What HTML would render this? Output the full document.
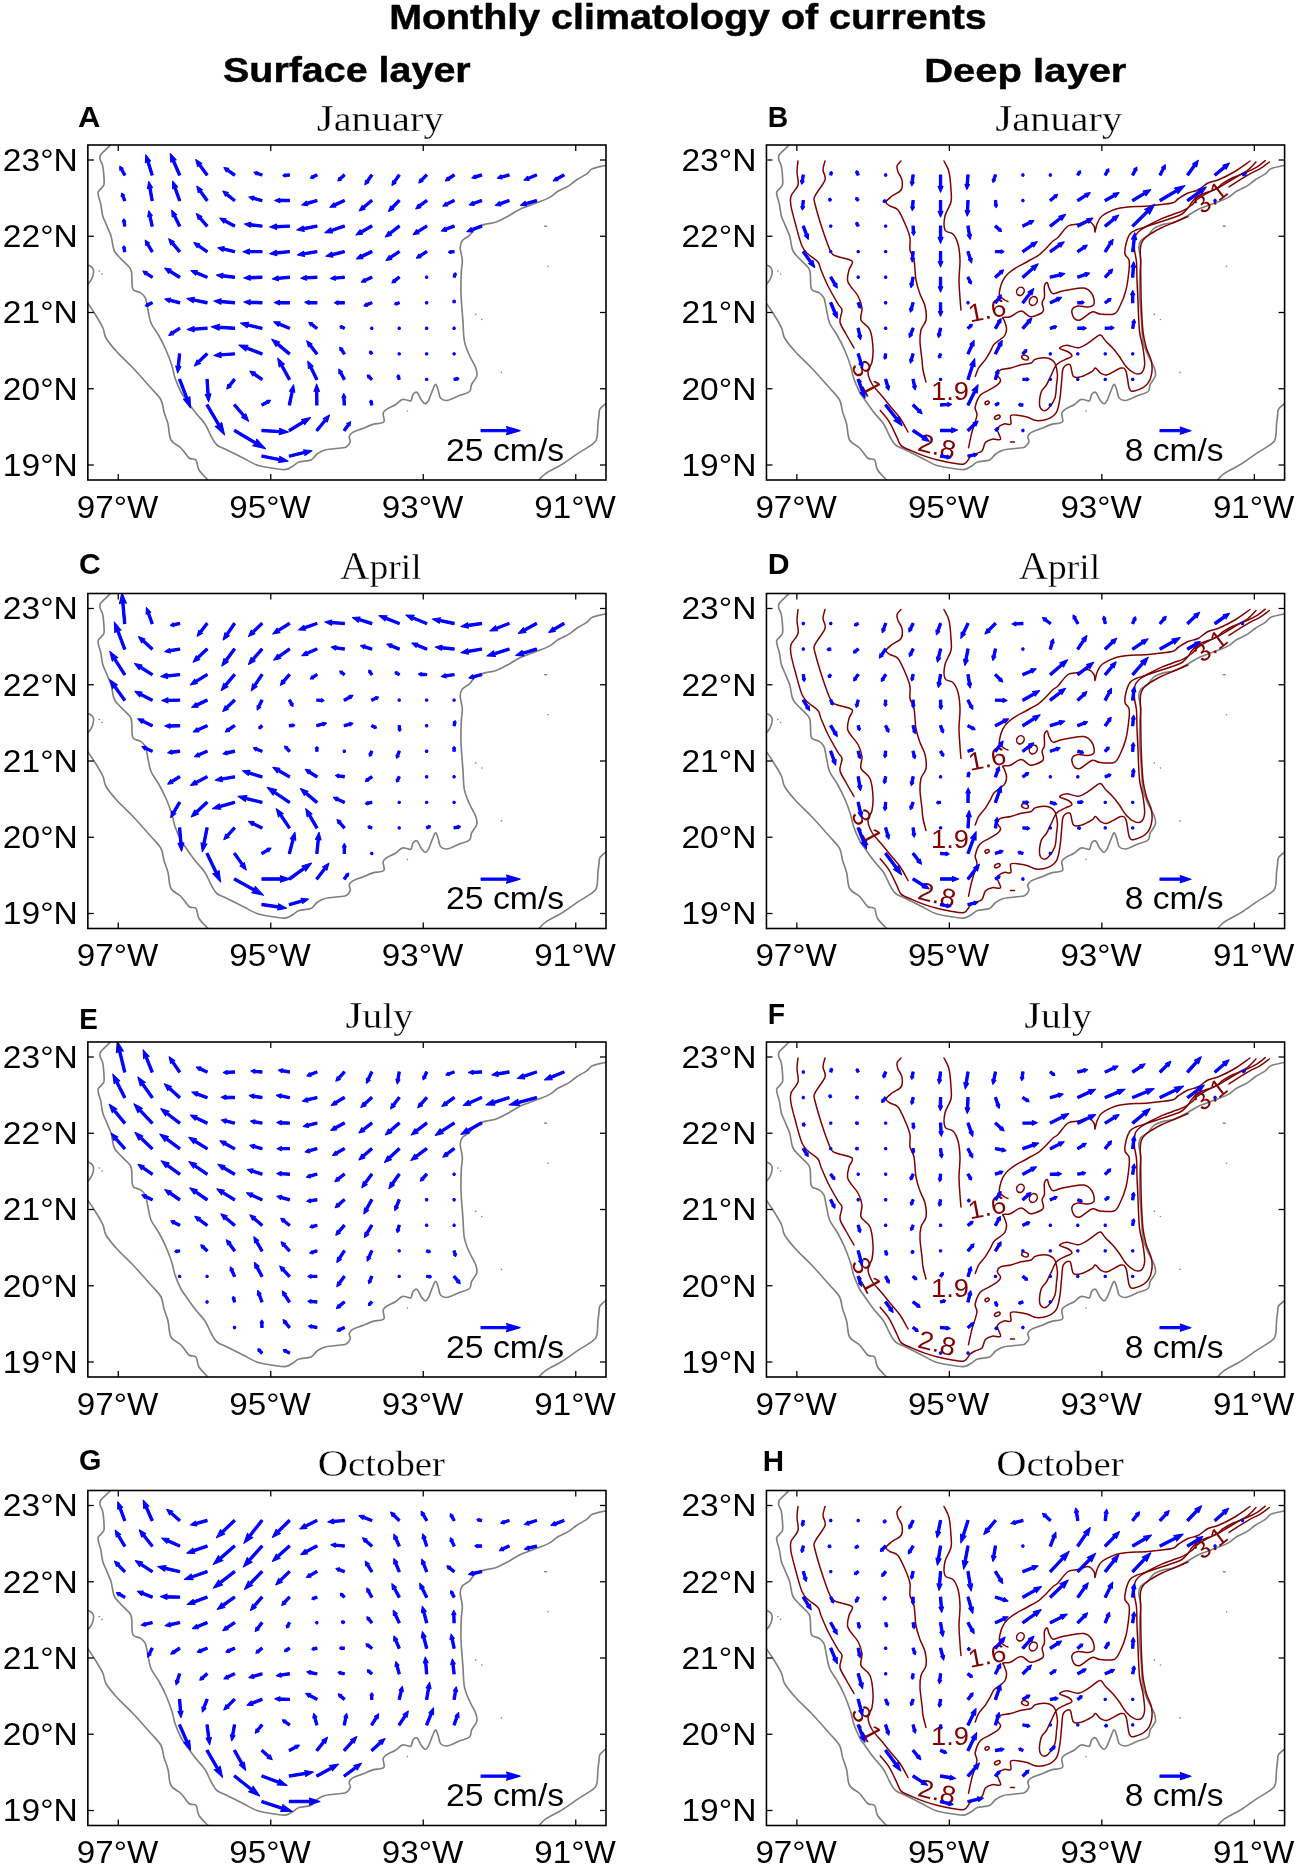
<!DOCTYPE html><html><head><meta charset="utf-8"><style>html,body{margin:0;padding:0;background:#fff;overflow:hidden}svg{display:block}</style></head><body>
<svg width="1299" height="1868" viewBox="0 0 1299 1868">
<rect width="1299" height="1868" fill="#fff"/>
<defs><clipPath id="cp"><rect x="87.85" y="145.0" width="518.15" height="335.0"/></clipPath><g id="coast"><g fill="none" stroke="#808080" stroke-width="1.65" stroke-linejoin="round"><path d="M110.6,145.0 C109.9,145.7 108.2,147.3 106.6,148.9 C104.9,150.5 101.8,153.1 100.7,154.8 C99.6,156.6 99.8,157.6 100.1,159.4 C100.4,161.2 102.1,163.3 102.7,165.9 C103.3,168.5 103.6,172.0 103.8,175.1 C104.0,178.2 104.4,182.1 104.0,184.3 C103.6,186.5 102.4,186.9 101.4,188.2 C100.4,189.5 98.5,190.6 98.1,192.1 C97.7,193.6 98.4,195.3 98.8,197.3 C99.2,199.3 100.0,200.8 100.7,203.9 C101.4,207.0 101.9,212.6 102.7,215.7 C103.5,218.8 104.2,219.6 105.3,222.2 C106.4,224.8 108.2,229.0 109.2,231.4 C110.2,233.8 110.5,234.0 111.2,236.6 C111.9,239.2 112.6,244.5 113.2,247.1 C113.8,249.7 113.8,250.3 115.1,252.3 C116.4,254.3 118.7,256.5 121.0,258.9 C123.3,261.3 127.2,264.5 128.9,266.7 C130.7,268.9 130.9,268.7 131.5,272.0 C132.1,275.3 131.8,283.2 132.2,286.3 C132.6,289.4 132.7,289.2 134.1,290.3 C135.5,291.4 138.9,291.8 140.7,292.9 C142.4,294.0 143.7,295.6 144.6,296.8 C145.5,298.0 145.4,297.8 146.0,300.0 C146.6,302.2 147.2,306.2 148.0,310.0 C148.8,313.8 149.2,318.7 151.0,323.0 C152.8,327.3 156.5,331.5 159.0,336.0 C161.5,340.5 163.8,345.0 166.0,350.0 C168.2,355.0 170.5,361.3 172.0,366.0 C173.5,370.7 173.5,373.7 175.0,378.0 C176.5,382.3 179.3,388.7 181.0,392.0 C182.7,395.3 182.7,394.7 185.0,398.0 C187.3,401.3 191.7,407.7 195.0,412.0 C198.3,416.3 202.3,420.0 205.0,424.0 C207.7,428.0 209.0,432.5 211.0,436.0 C213.0,439.5 214.3,442.7 217.0,445.0 C219.7,447.3 222.7,447.8 227.0,450.0 C231.3,452.2 238.0,455.5 243.0,458.0 C248.0,460.5 252.3,463.3 257.0,465.0 C261.7,466.7 266.3,467.2 271.0,468.0 C275.7,468.8 281.3,469.9 285.0,469.6 C288.7,469.3 290.7,467.3 293.0,466.0 C295.3,464.7 296.0,463.0 299.0,462.0 C302.0,461.0 308.0,461.3 311.0,460.0 C314.0,458.7 314.7,455.7 317.0,454.0 C319.3,452.3 321.0,451.0 325.0,450.0 C329.0,449.0 337.5,448.5 341.0,448.0 C344.5,447.5 344.6,448.0 346.2,447.0 C347.8,446.0 349.8,443.5 350.3,441.8 C350.8,440.1 348.9,438.2 349.2,436.7 C349.5,435.2 350.1,434.0 352.3,432.6 C354.5,431.2 359.2,429.9 362.6,428.5 C366.0,427.1 370.0,425.3 372.9,424.4 C375.8,423.5 378.2,423.8 380.1,423.3 C382.0,422.8 383.7,423.0 384.2,421.3 C384.7,419.6 382.7,415.1 383.2,413.0 C383.7,410.9 385.2,410.3 387.3,408.9 C389.4,407.5 393.1,406.3 395.5,404.8 C397.9,403.3 400.0,400.6 401.7,399.7 C403.4,398.8 404.3,399.5 405.8,399.7 C407.3,399.9 409.7,401.5 410.9,400.7 C412.1,399.9 412.0,396.0 413.0,394.6 C414.0,393.2 415.7,391.6 417.1,392.5 C418.5,393.4 419.8,397.8 421.2,399.7 C422.6,401.6 424.1,403.6 425.3,403.8 C426.5,404.0 427.2,402.9 428.4,400.7 C429.6,398.5 431.3,393.1 432.5,390.4 C433.7,387.7 434.6,384.3 435.6,384.3 C436.6,384.3 437.5,388.1 438.3,390.4 C439.1,392.7 439.1,396.6 440.7,398.3 C442.3,400.0 444.8,400.8 447.9,400.3 C451.0,399.9 455.6,397.1 459.2,395.6 C462.8,394.1 467.4,393.4 469.5,391.5 C471.6,389.6 470.4,386.9 471.6,384.3 C472.8,381.7 476.0,378.9 476.7,376.1 C477.4,373.4 476.9,371.2 475.7,367.8 C474.5,364.4 471.4,359.9 469.5,355.5 C467.6,351.1 465.5,346.9 464.4,341.1 C463.3,335.3 463.4,327.5 462.9,320.6 C462.4,313.8 461.6,305.3 461.3,300.0 C461.0,294.7 460.9,293.5 460.9,288.9 C460.9,284.3 461.1,277.2 461.3,272.4 C461.5,267.6 462.5,264.2 462.3,260.1 C462.1,256.0 460.2,251.1 460.2,247.8 C460.2,244.6 460.8,242.7 462.3,240.6 C463.9,238.5 467.3,237.5 469.5,235.4 C471.7,233.3 473.0,230.1 475.7,228.2 C478.4,226.3 482.5,225.1 485.9,224.1 C489.3,223.1 492.4,223.5 496.2,222.1 C500.0,220.7 504.4,218.1 508.5,215.9 C512.6,213.7 516.1,210.9 520.9,208.7 C525.7,206.5 532.5,204.5 537.3,202.6 C542.1,200.7 546.3,199.3 549.7,197.4 C553.1,195.5 554.8,193.1 557.9,191.2 C561.0,189.3 565.1,188.0 568.2,186.1 C571.3,184.2 573.3,182.1 576.4,180.0 C579.5,177.9 584.0,175.7 586.7,173.8 C589.4,171.9 589.4,170.1 592.8,168.6 C596.2,167.1 604.6,165.7 607.0,165.1"/><path d="M87.0,302.0 C88.3,304.0 92.3,309.7 95.0,314.0 C97.7,318.3 101.2,324.0 103.0,328.0 C104.8,332.0 103.7,334.0 106.0,338.0 C108.3,342.0 112.5,347.0 117.0,352.0 C121.5,357.0 127.3,362.0 133.0,368.0 C138.7,374.0 146.3,382.7 151.0,388.0 C155.7,393.3 158.8,396.0 161.0,400.0 C163.2,404.0 162.8,408.0 164.0,412.0 C165.2,416.0 166.8,419.3 168.0,424.0 C169.2,428.7 168.8,436.0 171.0,440.0 C173.2,444.0 178.0,445.0 181.0,448.0 C184.0,451.0 186.5,456.0 189.0,458.0 C191.5,460.0 194.3,458.0 196.0,460.0 C197.7,462.0 196.8,466.5 199.0,470.0 C201.2,473.5 207.3,479.2 209.0,481.0"/><path d="M537.3,482.0 C538.7,480.6 541.4,476.6 545.5,473.7 C549.6,470.8 556.5,467.8 562.0,464.4 C567.5,461.0 573.3,456.5 578.4,453.1 C583.5,449.7 589.7,446.5 592.8,443.9 C595.9,441.3 596.0,441.1 596.9,437.7 C597.8,434.3 597.6,427.1 598.0,423.3 C598.4,419.5 598.7,417.5 599.0,415.1 C599.3,412.7 598.7,411.1 600.0,409.0 C601.3,406.9 605.8,403.8 607.0,402.8"/><path d="M87.5,265.0 C88.1,265.2 90.0,265.8 91.0,266.5 C92.0,267.2 92.9,268.5 93.3,269.5 C93.7,270.5 93.6,271.2 93.5,272.5 C93.4,273.8 93.0,275.6 92.5,277.0 C92.0,278.4 91.3,279.8 90.5,281.0 C89.7,282.2 88.0,283.9 87.5,284.5"/></g><g fill="#808080"><circle cx="99.2" cy="271" r="0.8"/><circle cx="102" cy="274" r="0.8"/><circle cx="545.5" cy="226.2" r="0.8"/><circle cx="475.7" cy="314.4" r="0.8"/><circle cx="481.8" cy="319.5" r="0.8"/><circle cx="501.4" cy="372.4" r="0.8"/><circle cx="407.4" cy="411" r="0.8"/><circle cx="548" cy="266.3" r="0.8"/><rect x="544" y="225.6" width="3.2" height="1.1"/></g></g><g id="cont"><g fill="none" stroke="#800000" stroke-width="1.5" stroke-linejoin="round" stroke-linecap="round"><path d="M265.4,161.0 C266.2,162.8 269.2,167.2 270.4,172.0 C271.6,176.8 272.1,185.0 272.4,190.0 C272.7,195.0 273.4,197.7 272.4,202.0 C271.4,206.3 267.4,211.3 266.4,216.0 C265.4,220.7 265.1,227.0 266.4,230.0 C267.7,233.0 272.2,231.7 274.4,234.0 C276.6,236.3 278.2,239.7 279.4,244.0 C280.6,248.3 281.2,254.0 281.4,260.0 C281.6,266.0 280.4,273.7 280.4,280.0 C280.4,286.3 281.1,293.0 281.4,298.0 C281.7,303.0 282.2,308.0 282.4,310.0"/><path d="M329.3,301.4 C328.8,301.2 327.5,301.0 326.1,300.0 C324.7,299.0 321.8,297.2 321.0,295.4 C320.2,293.6 320.9,291.5 321.4,289.0 C321.9,286.5 322.8,283.2 324.2,280.6 C325.6,278.0 327.3,275.6 329.8,273.3 C332.3,271.0 336.2,268.5 339.0,266.8 C341.8,265.1 344.2,264.2 346.4,263.0 C348.6,261.8 350.2,260.7 352.4,259.5 C354.6,258.3 356.9,257.5 359.4,255.7 C361.9,253.9 364.9,250.9 367.4,248.5 C369.9,246.1 372.4,242.8 374.4,241.0 C376.4,239.2 376.9,240.0 379.4,237.5 C381.9,235.0 386.1,228.2 389.4,226.0 C392.7,223.8 396.1,224.8 399.4,224.0 C402.7,223.2 406.7,220.7 409.4,221.0 C412.1,221.3 414.2,224.2 415.4,226.0 C416.6,227.8 415.9,232.3 416.4,232.0 C416.9,231.7 417.2,226.7 418.4,224.0 C419.6,221.3 420.2,218.5 423.4,216.0 C426.6,213.5 433.1,210.5 437.4,209.0 C441.7,207.5 444.1,207.5 449.4,207.0 C454.7,206.5 462.1,206.7 469.4,206.0 C476.7,205.3 488.4,204.2 493.4,203.0 C498.4,201.8 496.7,200.7 499.4,199.0 C502.1,197.3 506.1,194.5 509.4,193.0 C512.7,191.5 516.1,191.7 519.4,190.0 C522.7,188.3 526.1,184.7 529.4,183.0 C532.7,181.3 535.1,181.8 539.4,180.0 C543.7,178.2 550.1,175.2 555.4,172.0 C560.7,168.8 568.7,162.8 571.4,161.0"/><path d="M222.4,161.0 C221.7,161.8 218.9,164.2 218.4,166.0 C217.9,167.8 218.6,169.7 219.4,172.0 C220.2,174.3 222.9,177.0 223.4,180.0 C223.9,183.0 224.1,187.3 222.4,190.0 C220.7,192.7 215.9,194.0 213.4,196.0 C210.9,198.0 207.7,200.3 207.4,202.0 C207.1,203.7 209.4,204.7 211.4,206.0 C213.4,207.3 216.7,206.7 219.4,210.0 C222.1,213.3 225.4,221.3 227.4,226.0 C229.4,230.7 230.7,234.0 231.4,238.0 C232.1,242.0 230.7,246.3 231.4,250.0 C232.1,253.7 234.4,255.0 235.4,260.0 C236.4,265.0 236.4,274.3 237.4,280.0 C238.4,285.7 239.9,289.7 241.4,294.0 C242.9,298.3 245.4,301.7 246.4,306.0 C247.4,310.3 248.1,316.0 247.4,320.0 C246.7,324.0 243.4,326.3 242.4,330.0 C241.4,333.7 241.2,337.0 241.4,342.0 C241.6,347.0 242.9,355.3 243.4,360.0 C243.9,364.7 243.7,366.3 244.4,370.0 C245.1,373.7 246.9,380.0 247.4,382.0"/><path d="M296.6,376.5 C297.2,375.1 298.3,370.9 300.0,368.1 C301.7,365.3 304.8,362.4 306.8,359.6 C308.8,356.8 310.5,353.6 311.9,351.1 C313.3,348.6 313.6,346.4 315.3,344.4 C317.0,342.4 320.1,340.9 322.0,339.3 C323.9,337.7 325.4,336.9 326.4,335.0 C327.4,333.1 328.1,330.3 327.9,327.8 C327.7,325.3 326.0,321.7 325.4,320.0 C324.8,318.3 323.4,318.1 324.4,317.5 C325.4,316.9 328.6,317.8 331.6,316.7 C334.7,315.6 339.3,311.1 342.7,311.1 C346.1,311.1 348.5,316.4 351.9,316.7 C355.3,317.0 360.8,314.2 363.0,313.0 C365.2,311.8 364.8,311.0 364.9,309.3 C365.0,307.6 363.3,304.8 363.5,302.8 C363.6,300.8 365.4,300.1 365.8,297.3 C366.2,294.5 365.3,288.7 365.8,286.2 C366.3,283.7 367.8,282.2 368.6,282.5 C369.4,282.8 369.5,286.1 370.4,288.0 C371.3,289.9 372.3,293.0 374.1,293.6 C375.9,294.2 378.8,292.3 381.4,291.7 C383.9,291.1 385.4,290.6 389.4,290.0 C393.4,289.4 401.4,287.3 405.4,288.0 C409.4,288.7 411.7,291.3 413.4,294.0 C415.1,296.7 416.1,301.8 415.4,304.0 C414.7,306.2 412.1,306.7 409.4,307.0 C406.7,307.3 402.1,305.5 399.4,306.0 C396.7,306.5 394.1,308.0 393.4,310.0 C392.7,312.0 394.1,316.3 395.4,318.0 C396.7,319.7 398.4,321.0 401.4,320.0 C404.4,319.0 410.1,313.0 413.4,312.0 C416.7,311.0 417.7,313.7 421.4,314.0 C425.1,314.3 432.1,315.3 435.4,314.0 C438.7,312.7 439.4,310.0 441.4,306.0 C443.4,302.0 445.9,296.0 447.4,290.0 C448.9,284.0 449.9,275.0 450.4,270.0 C450.9,265.0 451.1,262.7 450.4,260.0 C449.7,257.3 446.9,256.7 446.4,254.0 C445.9,251.3 446.6,247.3 447.4,244.0 C448.2,240.7 449.7,236.3 451.4,234.0 C453.1,231.7 454.4,231.3 457.4,230.0 C460.4,228.7 465.4,227.3 469.4,226.0 C473.4,224.7 477.4,223.3 481.4,222.0 C485.4,220.7 489.7,219.3 493.4,218.0 C497.1,216.7 500.7,215.7 503.4,214.0 C506.1,212.3 507.7,210.0 509.4,208.0 C511.1,206.0 511.7,204.0 513.4,202.0 C515.1,200.0 516.7,197.7 519.4,196.0 C522.1,194.3 526.1,193.3 529.4,192.0 C532.7,190.7 536.1,189.7 539.4,188.0 C542.7,186.3 546.1,184.0 549.4,182.0 C552.7,180.0 556.1,178.0 559.4,176.0 C562.7,174.0 566.4,172.3 569.4,170.0 C572.4,167.7 576.1,163.3 577.4,162.0"/><path d="M146.4,161.0 C146.1,162.5 144.4,166.8 144.4,170.0 C144.4,173.2 147.7,175.7 146.4,180.0 C145.1,184.3 138.1,192.0 136.4,196.0 C134.7,200.0 134.9,197.7 136.4,204.0 C137.9,210.3 142.7,226.0 145.4,234.0 C148.1,242.0 150.4,248.3 152.4,252.0 C154.4,255.7 153.9,254.5 157.4,256.0 C160.9,257.5 171.2,258.7 173.4,261.0 C175.6,263.3 171.1,266.5 170.4,270.0 C169.7,273.5 167.9,277.7 169.4,282.0 C170.9,286.3 177.1,291.7 179.4,296.0 C181.7,300.3 182.9,304.0 183.4,308.0 C183.9,312.0 181.1,316.3 182.4,320.0 C183.7,323.7 189.4,325.3 191.4,330.0 C193.4,334.7 194.1,342.7 194.4,348.0 C194.7,353.3 194.2,358.0 193.4,362.0 C192.6,366.0 189.4,368.3 189.4,372.0 C189.4,375.7 191.1,380.0 193.4,384.0 C195.7,388.0 200.4,392.3 203.4,396.0 C206.4,399.7 208.4,402.3 211.4,406.0 C214.4,409.7 218.4,413.7 221.4,418.0 C224.4,422.3 228.1,429.7 229.4,432.0"/><path d="M289.9,447.7 C290.5,445.1 291.9,437.8 293.3,432.4 C294.7,427.0 297.7,419.7 298.3,415.5 C298.8,411.3 296.0,410.4 296.6,407.0 C297.2,403.6 299.4,398.0 301.7,395.2 C304.0,392.4 307.4,391.8 310.2,390.1 C313.0,388.4 316.7,386.7 318.7,385.0 C320.7,383.3 322.0,381.7 322.0,380.0 C322.0,378.3 318.7,376.5 318.7,374.8 C318.7,373.1 319.8,370.9 322.0,369.8 C324.2,368.7 328.8,369.0 332.2,368.1 C335.6,367.2 339.0,365.6 342.4,364.7 C345.8,363.8 350.2,363.9 352.5,363.0 C354.7,362.1 354.2,360.5 355.9,359.6 C357.6,358.8 360.1,358.0 362.7,357.9 C365.2,357.8 368.9,357.8 371.2,358.7 C373.4,359.6 374.9,360.3 376.2,363.0 C377.5,365.7 378.5,371.1 378.8,374.8 C379.1,378.5 378.3,381.1 377.9,385.0 C377.5,388.9 377.6,394.6 376.2,398.5 C374.8,402.4 371.5,406.7 369.5,408.7 C367.5,410.7 365.8,411.0 364.4,410.4 C363.0,409.8 361.3,408.4 361.0,405.3 C360.7,402.2 361.6,395.2 362.7,391.8 C363.8,388.4 366.1,387.8 367.8,385.0 C369.5,382.2 371.1,378.2 372.8,374.8 C374.5,371.4 375.6,367.2 377.9,364.7 C380.2,362.2 383.8,361.0 386.4,359.6 C388.9,358.2 392.6,357.5 393.2,356.2 C393.8,354.9 391.5,353.1 389.8,352.0 C388.1,350.9 384.4,350.1 383.0,349.4 C381.6,348.7 380.5,348.4 381.3,347.7 C382.2,347.0 385.0,345.2 388.1,345.2 C391.2,345.2 396.2,348.1 399.9,347.7 C403.6,347.3 407.3,344.4 410.1,342.7 C412.9,341.0 414.9,338.9 416.9,337.6 C418.9,336.3 420.3,334.4 422.0,335.0 C423.7,335.6 425.0,338.9 427.0,341.0 C429.0,343.1 431.5,345.2 433.8,347.7 C436.1,350.2 438.3,353.1 440.6,356.2 C442.9,359.3 444.9,363.6 447.4,366.4 C449.9,369.2 453.3,372.0 455.8,373.1 C458.3,374.2 460.9,374.5 462.6,373.1 C464.3,371.7 465.7,368.9 466.0,364.7 C466.3,360.5 465.2,353.3 464.3,347.7 C463.5,342.1 461.8,339.3 460.9,330.8 C460.0,322.3 459.6,305.4 459.2,296.9 C458.8,288.4 458.6,285.8 458.4,280.0 C458.2,274.2 458.3,267.0 457.9,262.0 C457.5,257.0 456.2,253.6 455.9,250.0 C455.6,246.4 455.7,242.9 455.9,240.4 C456.1,237.9 456.2,236.7 457.3,234.9 C458.4,233.1 460.2,231.3 462.7,229.5 C465.2,227.7 468.9,225.8 472.3,224.0 C475.7,222.2 479.6,220.2 483.2,218.6 C486.8,217.0 490.5,215.9 494.1,214.5 C497.7,213.1 501.8,212.0 505.0,210.4 C508.2,208.8 510.9,206.8 513.2,205.0 C515.5,203.2 516.3,201.3 518.6,199.5 C520.9,197.7 523.6,195.9 526.8,194.1 C530.0,192.3 534.8,190.4 537.7,188.6 C540.6,186.8 541.8,185.0 544.5,183.2 C547.2,181.4 550.1,179.5 554.0,177.7 C557.9,175.9 563.6,174.1 567.7,172.3 C571.8,170.5 575.4,168.7 578.6,166.8 C581.8,164.9 585.3,161.7 586.7,160.7"/><path d="M119.4,161.0 C119.2,162.8 118.4,168.0 118.4,172.0 C118.4,176.0 120.4,181.0 119.4,185.0 C118.4,189.0 113.6,192.5 112.4,196.0 C111.2,199.5 111.6,201.0 112.4,206.0 C113.2,211.0 115.6,219.3 117.4,226.0 C119.2,232.7 121.4,241.3 123.4,246.0 C125.4,250.7 126.7,251.3 129.4,254.0 C132.1,256.7 137.2,259.3 139.4,262.0 C141.6,264.7 140.7,266.0 142.4,270.0 C144.1,274.0 146.6,280.3 149.4,286.0 C152.2,291.7 157.1,300.0 159.4,304.0 C161.7,308.0 163.1,307.0 163.4,310.0 C163.7,313.0 160.7,318.0 161.4,322.0 C162.1,326.0 165.1,329.7 167.4,334.0 C169.7,338.3 174.1,345.7 175.4,348.0"/><path d="M201.6,410.3 C203.1,412.3 208.0,417.5 210.8,422.1 C213.6,426.7 216.7,433.9 218.6,437.8 C220.6,441.7 220.1,443.4 222.5,445.6 C224.9,447.8 229.1,449.1 233.0,450.9 C236.9,452.6 241.7,454.6 246.1,456.1 C250.5,457.6 254.8,458.9 259.2,460.0 C263.6,461.1 267.9,462.0 272.3,462.7 C276.7,463.4 282.2,464.9 285.4,464.0 C288.6,463.1 289.8,458.7 291.6,457.0 C293.4,455.3 294.4,455.0 296.4,454.0 C298.4,453.0 301.7,452.9 303.4,451.0 C305.1,449.1 305.1,444.6 306.8,442.6 C308.5,440.6 311.1,439.8 313.6,439.2 C316.1,438.6 321.2,440.9 322.0,439.2 C322.8,437.5 318.1,431.5 318.7,429.0 C319.3,426.5 323.1,424.8 325.4,424.0 C327.6,423.2 331.1,425.4 332.2,424.0 C333.3,422.6 330.8,416.9 332.2,415.5 C333.6,414.1 337.9,415.2 340.7,415.5 C343.5,415.8 346.3,416.3 349.1,417.2 C351.9,418.1 354.2,420.3 357.6,420.6 C361.0,420.9 366.1,420.3 369.5,418.9 C372.9,417.5 375.9,415.5 377.9,412.1 C379.9,408.7 380.5,403.6 381.3,398.5 C382.2,393.4 382.4,386.7 383.0,381.6 C383.6,376.5 383.3,370.9 384.7,368.1 C386.1,365.3 389.7,363.3 391.4,364.7 C393.1,366.1 392.9,374.5 394.9,376.5 C396.9,378.5 400.2,377.4 403.3,376.5 C406.4,375.6 411.2,372.8 413.5,371.4 C415.8,370.0 415.5,367.8 416.9,368.1 C418.3,368.4 420.0,372.0 422.0,373.1 C424.0,374.2 425.3,375.6 428.7,374.8 C432.1,374.0 439.2,368.7 442.3,368.1 C445.4,367.5 446.0,368.0 447.4,371.4 C448.8,374.8 449.3,385.1 450.7,388.4 C452.1,391.6 453.0,391.5 455.8,390.9 C458.6,390.3 464.9,387.7 467.7,385.0 C470.5,382.3 472.0,378.8 472.8,374.8 C473.7,370.9 473.7,365.8 472.8,361.3 C472.0,356.8 469.1,352.8 467.7,347.7 C466.3,342.6 465.2,338.8 464.3,330.8 C463.5,322.9 463.0,311.5 462.6,300.0 C462.2,288.5 462.1,270.3 462.0,262.0 C461.8,253.7 461.5,253.2 461.7,250.0 C461.8,246.8 462.1,245.0 462.9,243.0 C463.7,241.0 464.6,239.7 466.4,238.0 C468.1,236.3 470.6,234.8 473.4,233.0 C476.2,231.2 479.6,229.3 483.4,227.5 C487.2,225.7 492.1,223.8 496.4,222.0 C500.7,220.2 507.2,217.4 509.4,216.5"/><path d="M550.4,187.0 C551.7,186.1 554.8,183.9 558.1,181.8 C561.4,179.7 566.5,176.5 570.4,174.3 C574.3,172.1 577.9,170.9 581.3,168.8 C584.7,166.8 589.2,163.1 590.8,162.0"/><ellipse cx="341.8" cy="291.3" rx="3.6" ry="4.3" transform="rotate(30 341.8 291.3)"/><ellipse cx="354.7" cy="301.0" rx="3.8" ry="4.6" transform="rotate(30 354.7 301.0)"/><ellipse cx="346.4" cy="357.5" rx="3.5" ry="2.3" transform="rotate(20 346.4 357.5)"/><ellipse cx="308.5" cy="402.8" rx="2.2" ry="1.6" transform="rotate(-30 308.5 402.8)"/><ellipse cx="318.7" cy="417.2" rx="3" ry="1.8" transform="rotate(-25 318.7 417.2)"/><line x1="331.9" y1="442" x2="335.9" y2="442"/></g><g fill="#800000" font-family="Liberation Sans" font-size="25.5"><text x="308.4" y="319" text-anchor="middle" transform="rotate(-11 308.4 310)" textLength="38" lengthAdjust="spacingAndGlyphs">1.6</text><text x="271.4" y="399.8" text-anchor="middle" textLength="38" lengthAdjust="spacingAndGlyphs">1.9</text><text x="258.4" y="455" text-anchor="middle" transform="rotate(14 258.4 446)" textLength="38" lengthAdjust="spacingAndGlyphs">2.8</text><text x="188.39999999999998" y="387" text-anchor="middle" transform="rotate(62 188.39999999999998 378)" textLength="36" lengthAdjust="spacingAndGlyphs">3.1</text><text x="532.4" y="206" text-anchor="middle" transform="rotate(-38 532.4 198)" textLength="34" lengthAdjust="spacingAndGlyphs">3.1</text></g></g><g id="frame"><rect x="87.85" y="145.0" width="518.15" height="335.0" fill="none" stroke="#000" stroke-width="1.6"/><g stroke="#000" stroke-width="1.3"><line x1="118.25" y1="145.0" x2="118.25" y2="151.0"/><line x1="118.25" y1="480.0" x2="118.25" y2="474.0"/><line x1="270.75" y1="145.0" x2="270.75" y2="151.0"/><line x1="270.75" y1="480.0" x2="270.75" y2="474.0"/><line x1="423.25" y1="145.0" x2="423.25" y2="151.0"/><line x1="423.25" y1="480.0" x2="423.25" y2="474.0"/><line x1="575.75" y1="145.0" x2="575.75" y2="151.0"/><line x1="575.75" y1="480.0" x2="575.75" y2="474.0"/><line x1="87.85" y1="160.0" x2="93.85" y2="160.0"/><line x1="606.0" y1="160.0" x2="600.0" y2="160.0"/><line x1="87.85" y1="236.25" x2="93.85" y2="236.25"/><line x1="606.0" y1="236.25" x2="600.0" y2="236.25"/><line x1="87.85" y1="312.5" x2="93.85" y2="312.5"/><line x1="606.0" y1="312.5" x2="600.0" y2="312.5"/><line x1="87.85" y1="388.75" x2="93.85" y2="388.75"/><line x1="606.0" y1="388.75" x2="600.0" y2="388.75"/><line x1="87.85" y1="465.0" x2="93.85" y2="465.0"/><line x1="606.0" y1="465.0" x2="600.0" y2="465.0"/></g><text transform="translate(2.82,170.80) scale(1.0538,1)" font-family="Liberation Sans" font-weight="normal" font-size="31.86" fill="#000">23°N</text><text transform="translate(2.82,247.05) scale(1.0538,1)" font-family="Liberation Sans" font-weight="normal" font-size="31.86" fill="#000">22°N</text><text transform="translate(2.82,323.30) scale(1.0538,1)" font-family="Liberation Sans" font-weight="normal" font-size="31.86" fill="#000">21°N</text><text transform="translate(2.82,399.55) scale(1.0538,1)" font-family="Liberation Sans" font-weight="normal" font-size="31.86" fill="#000">20°N</text><text transform="translate(2.82,475.80) scale(1.0538,1)" font-family="Liberation Sans" font-weight="normal" font-size="31.86" fill="#000">19°N</text><text transform="translate(76.79,517.60) scale(1.0553,1)" font-family="Liberation Sans" font-weight="normal" font-size="31.43" fill="#000">97°W</text><text transform="translate(229.29,517.60) scale(1.0553,1)" font-family="Liberation Sans" font-weight="normal" font-size="31.43" fill="#000">95°W</text><text transform="translate(381.79,517.60) scale(1.0553,1)" font-family="Liberation Sans" font-weight="normal" font-size="31.43" fill="#000">93°W</text><text transform="translate(534.29,517.60) scale(1.0553,1)" font-family="Liberation Sans" font-weight="normal" font-size="31.43" fill="#000">91°W</text></g></defs>
<g opacity="0.999">
<text transform="translate(389.14,29.25) scale(1.1486,1)" font-family="Liberation Sans" font-weight="bold" font-size="34.32" fill="#000" stroke="#000" stroke-width="0.45">Monthly climatology of currents</text>
<text transform="translate(223.02,81.60) scale(1.1512,1)" font-family="Liberation Sans" font-weight="bold" font-size="34.25" fill="#000" stroke="#000" stroke-width="0.45">Surface layer</text>
<text transform="translate(924.20,81.60) scale(1.1864,1)" font-family="Liberation Sans" font-weight="bold" font-size="33.70" fill="#000" stroke="#000" stroke-width="0.45">Deep layer</text>
<g transform="translate(0.0,0.0)">
<g clip-path="url(#cp)"><use href="#coast"/>
<path fill="#0000ff" stroke="#0000ff" stroke-width="1.1" stroke-linejoin="round" d="M125.71,174.44 L122.36,168.43 L123.20,168.29 L119.77,166.13 L119.79,170.18 L120.35,169.55 L123.69,175.56ZM153.25,174.66 L148.94,160.92 L150.68,161.00 L145.79,154.74 L145.36,162.67 L146.74,161.61 L151.05,175.34ZM180.65,174.54 L174.32,159.99 L176.23,159.87 L170.26,153.54 L170.83,162.23 L172.21,160.91 L178.55,175.46ZM207.98,174.32 L200.31,163.83 L201.82,163.39 L195.74,159.52 L197.57,166.49 L198.45,165.18 L206.12,175.68ZM235.16,174.06 L227.92,168.97 L228.81,168.34 L223.82,167.49 L226.31,171.89 L226.60,170.85 L233.84,175.94ZM262.32,173.91 L256.86,172.05 L257.30,171.48 L253.89,172.25 L256.12,174.94 L256.12,174.22 L261.58,176.09ZM289.30,173.85 L284.79,174.25 L284.93,173.70 L282.75,175.59 L285.23,177.07 L284.99,176.54 L289.50,176.15ZM316.35,173.97 L311.96,176.09 L311.89,175.48 L310.38,178.13 L313.40,178.59 L312.97,178.16 L317.35,176.03ZM343.53,174.15 L339.13,178.15 L338.84,177.47 L337.81,180.90 L341.33,180.20 L340.67,179.85 L345.07,175.85ZM370.81,174.34 L366.12,181.04 L365.54,180.22 L364.84,184.88 L368.97,182.62 L368.00,182.36 L372.69,175.66ZM398.26,174.34 L393.30,181.45 L392.68,180.58 L391.89,185.48 L396.21,183.04 L395.18,182.76 L400.14,175.66ZM425.84,174.19 L420.48,179.54 L420.08,178.70 L418.76,182.89 L422.95,181.57 L422.11,181.17 L427.46,175.81ZM453.46,174.04 L447.44,178.05 L447.23,177.19 L445.22,180.92 L449.44,180.50 L448.72,179.97 L454.74,175.96ZM481.21,173.90 L474.67,175.90 L474.70,175.06 L471.89,177.96 L475.84,178.78 L475.34,178.10 L481.89,176.10ZM508.70,173.89 L500.80,176.03 L500.88,175.03 L497.34,178.16 L501.97,179.08 L501.40,178.25 L509.30,176.11ZM536.01,173.94 L527.56,177.42 L527.51,176.31 L523.99,180.14 L529.19,180.38 L528.44,179.55 L536.89,176.06ZM563.34,173.99 L556.11,178.01 L555.94,177.01 L553.23,180.93 L557.99,180.69 L557.22,180.02 L564.46,176.01ZM125.77,200.13 L123.77,195.07 L124.45,195.04 L121.76,193.09 L121.12,196.36 L121.63,195.91 L123.63,200.97ZM153.28,200.35 L150.99,187.43 L152.56,187.71 L148.78,181.50 L147.36,188.63 L148.73,187.83 L151.02,200.75ZM180.68,200.16 L175.97,186.97 L177.66,186.98 L172.65,181.09 L172.50,188.82 L173.81,187.74 L178.52,200.94ZM207.99,199.88 L200.99,190.07 L202.40,189.67 L196.74,186.07 L198.29,192.60 L199.12,191.40 L206.11,201.22ZM235.23,199.66 L227.30,193.21 L228.37,192.57 L222.82,191.04 L225.44,196.17 L225.85,195.00 L233.77,201.44ZM262.25,199.44 L253.40,197.03 L254.04,196.11 L248.89,196.99 L252.88,200.36 L252.80,199.25 L261.65,201.66ZM289.40,199.40 L279.47,199.40 L279.88,198.26 L274.75,200.55 L279.88,202.84 L279.47,201.70 L289.40,201.70ZM316.53,199.45 L306.32,202.40 L306.41,201.11 L301.79,204.91 L307.72,205.66 L306.96,204.61 L317.17,201.65ZM343.81,199.51 L334.01,204.07 L333.89,202.76 L329.84,207.29 L335.91,207.09 L334.98,206.16 L344.79,201.59ZM371.02,199.66 L362.55,206.65 L362.10,205.39 L359.27,210.85 L365.17,209.10 L364.02,208.42 L372.48,201.44ZM398.38,199.74 L391.13,207.13 L390.58,205.99 L388.51,211.44 L393.92,209.27 L392.77,208.74 L400.02,201.36ZM425.95,199.64 L418.57,205.27 L418.23,204.19 L415.77,208.86 L420.92,207.71 L419.97,207.10 L427.35,201.46ZM453.59,199.52 L445.96,203.27 L445.84,202.23 L442.83,206.08 L447.72,206.06 L446.97,205.33 L454.61,201.58ZM481.17,199.47 L472.85,202.42 L472.86,201.34 L469.29,204.90 L474.31,205.42 L473.62,204.58 L481.93,201.63ZM508.61,199.47 L499.35,202.82 L499.34,201.62 L495.34,205.50 L500.90,205.91 L500.13,204.99 L509.39,201.63ZM536.12,199.45 L525.24,202.67 L525.32,201.30 L520.39,205.31 L526.71,205.99 L525.89,204.88 L536.78,201.65ZM125.84,225.95 L125.18,221.03 L125.79,221.15 L123.72,218.85 L122.34,221.62 L122.90,221.34 L123.56,226.25ZM153.27,225.85 L150.99,215.51 L152.27,215.68 L148.78,210.85 L147.65,216.69 L148.74,216.01 L151.03,226.35ZM180.63,225.59 L175.25,214.83 L176.70,214.66 L171.67,210.23 L172.19,216.91 L173.19,215.86 L178.57,226.61ZM207.92,225.35 L200.67,216.89 L201.93,216.41 L196.35,213.61 L198.25,219.56 L198.92,218.38 L206.18,226.85ZM235.05,225.09 L225.10,219.71 L226.13,218.80 L219.83,218.17 L223.80,223.09 L224.01,221.74 L233.95,227.11ZM262.08,224.96 L250.25,223.61 L250.89,222.32 L244.50,224.12 L250.32,227.30 L249.99,225.90 L261.82,227.24ZM289.34,224.95 L276.02,225.62 L276.49,224.08 L269.75,227.09 L276.76,229.41 L276.14,227.92 L289.46,227.25ZM316.63,224.97 L303.03,227.66 L303.29,226.01 L296.80,230.07 L304.34,231.35 L303.48,229.92 L317.07,227.23ZM343.93,225.01 L330.74,229.45 L330.78,227.77 L324.84,232.65 L332.52,232.95 L331.47,231.63 L344.67,227.19ZM371.19,225.10 L360.43,231.15 L360.18,229.67 L355.88,235.03 L362.69,234.13 L361.55,233.15 L372.31,227.10ZM398.49,225.20 L389.08,232.59 L388.62,231.21 L385.32,237.01 L391.73,235.17 L390.50,234.40 L399.91,227.00ZM426.04,225.13 L416.90,230.90 L416.62,229.62 L413.18,234.62 L419.17,233.66 L418.13,232.85 L427.26,227.07ZM453.69,225.03 L444.97,228.38 L444.94,227.24 L441.24,231.05 L446.54,231.39 L445.79,230.53 L454.51,227.17ZM481.14,225.02 L471.20,228.79 L471.18,227.49 L466.89,231.65 L472.86,231.92 L472.02,230.94 L481.96,227.18ZM125.83,251.46 L125.17,247.49 L125.68,247.58 L123.72,245.80 L122.45,248.12 L122.90,247.87 L123.57,251.84ZM153.13,251.06 L148.44,243.28 L149.53,243.06 L145.23,240.18 L145.77,245.33 L146.47,244.47 L151.17,252.24ZM180.48,250.91 L173.09,242.17 L174.39,241.69 L168.70,238.76 L170.64,244.86 L171.33,243.66 L178.72,252.39ZM207.70,250.70 L198.70,244.52 L199.78,243.75 L193.77,242.53 L197.06,247.70 L197.40,246.42 L206.40,252.60ZM234.77,250.53 L223.47,247.84 L224.25,246.66 L217.85,247.68 L223.10,251.48 L222.94,250.08 L234.23,252.77ZM261.95,250.50 L249.03,250.50 L249.57,249.03 L242.90,251.65 L249.57,254.27 L249.03,252.80 L261.95,252.80ZM289.28,250.51 L275.96,251.85 L276.36,250.28 L269.75,253.63 L276.90,255.60 L276.19,254.14 L289.52,252.79ZM316.65,250.52 L303.46,252.80 L303.75,251.21 L297.40,255.02 L304.66,256.48 L303.86,255.07 L317.05,252.78ZM344.02,250.53 L331.51,253.63 L331.68,252.08 L325.85,256.21 L332.93,257.16 L332.06,255.86 L344.58,252.77ZM371.25,250.61 L360.90,255.59 L360.76,254.20 L356.49,258.99 L362.89,258.64 L361.90,257.66 L372.25,252.69ZM398.56,250.70 L389.56,256.74 L389.24,255.46 L385.92,260.57 L391.90,259.43 L390.84,258.65 L399.84,252.60ZM426.03,250.68 L419.07,255.10 L418.85,254.11 L416.38,258.17 L421.10,257.66 L420.30,257.04 L427.27,252.62ZM453.98,250.51 L450.15,250.90 L450.26,250.42 L448.45,252.23 L450.59,253.64 L450.39,253.19 L454.22,252.79ZM152.78,276.24 L146.49,272.09 L147.24,271.53 L142.88,271.08 L145.01,274.91 L145.23,274.01 L151.52,278.16ZM180.20,276.22 L170.12,270.04 L171.24,269.14 L164.73,268.08 L168.63,273.40 L168.92,272.00 L179.00,278.18ZM207.49,276.14 L196.47,271.57 L197.44,270.50 L190.79,270.46 L195.52,275.14 L195.58,273.69 L206.61,278.26ZM234.64,276.06 L222.40,274.58 L223.07,273.25 L216.45,275.02 L222.46,278.32 L222.12,276.86 L234.36,278.34ZM261.90,276.05 L249.66,276.59 L250.11,275.17 L243.90,277.99 L250.33,280.26 L249.76,278.89 L262.00,278.35ZM289.28,276.06 L277.72,277.27 L278.06,275.90 L272.35,278.98 L278.57,280.82 L277.96,279.55 L289.52,278.34ZM316.78,276.05 L305.90,276.72 L306.27,275.45 L300.80,278.19 L306.57,280.24 L306.04,279.02 L316.92,278.35ZM344.19,276.06 L334.79,276.99 L335.07,275.88 L330.45,278.59 L335.52,280.32 L335.02,279.28 L344.41,278.34ZM371.26,276.16 L364.16,279.51 L364.07,278.55 L361.29,282.14 L365.83,282.27 L365.15,281.59 L372.24,278.24ZM398.49,276.29 L393.55,280.16 L393.30,279.43 L391.92,282.91 L395.63,282.39 L394.97,281.97 L399.91,278.11ZM427.95,277.20 L427.30,278.33 L426.00,278.33 L425.35,277.20 L426.00,276.07 L427.30,276.07ZM455.19,277.56 L456.18,274.61 L456.50,274.85 L455.55,272.84 L453.59,273.88 L453.99,273.88 L453.01,276.84ZM151.67,301.70 L147.02,303.83 L146.96,303.19 L145.29,305.89 L148.42,306.39 L147.97,305.92 L152.63,303.80ZM179.88,301.64 L169.81,299.08 L170.52,298.04 L164.75,298.99 L169.37,302.57 L169.25,301.31 L179.32,303.86ZM207.28,301.62 L193.55,298.80 L194.44,297.35 L186.80,298.58 L193.33,302.73 L193.09,301.05 L206.82,303.88ZM234.60,301.60 L220.60,300.39 L221.31,298.85 L213.85,300.96 L220.84,304.32 L220.40,302.68 L234.40,303.90ZM262.00,301.60 L249.76,301.06 L250.33,299.69 L243.90,301.96 L250.11,304.78 L249.66,303.36 L261.90,303.90ZM289.42,301.60 L279.21,301.47 L279.65,300.30 L274.35,302.55 L279.59,304.94 L279.18,303.77 L289.38,303.90ZM316.89,301.60 L308.72,301.33 L309.09,300.40 L304.80,302.35 L308.95,304.59 L308.64,303.63 L316.81,303.90ZM344.30,301.60 L337.62,301.60 L337.90,300.82 L334.45,302.75 L337.90,304.68 L337.62,303.90 L344.30,303.90ZM371.32,301.68 L365.99,303.81 L365.96,303.10 L363.89,305.89 L367.32,306.49 L366.85,305.95 L372.18,303.82ZM398.84,301.66 L395.68,302.71 L395.68,302.28 L394.54,304.30 L396.67,305.24 L396.41,304.89 L399.56,303.84ZM427.95,302.75 L427.30,303.88 L426.00,303.88 L425.35,302.75 L426.00,301.62 L427.30,301.62ZM455.25,302.75 L455.25,300.82 L455.50,300.90 L454.10,299.90 L452.69,300.90 L452.95,300.82 L452.95,302.75ZM178.97,327.34 L171.60,332.16 L171.35,331.11 L168.73,335.42 L173.72,334.74 L172.86,334.09 L180.23,329.26ZM206.98,327.15 L193.52,327.96 L193.99,326.40 L187.20,329.49 L194.31,331.75 L193.66,330.26 L207.12,329.45ZM234.58,327.15 L218.81,326.07 L219.59,324.33 L211.25,326.71 L219.19,330.20 L218.66,328.37 L234.42,329.45ZM262.22,327.18 L247.67,323.68 L248.67,322.18 L240.50,323.14 L247.34,327.71 L247.13,325.92 L261.68,329.42ZM289.84,327.24 L279.22,322.80 L280.17,321.77 L273.74,321.76 L278.27,326.32 L278.34,324.93 L288.96,329.36ZM317.54,327.38 L312.07,323.24 L312.77,322.77 L308.77,322.19 L310.42,325.89 L310.68,325.08 L316.16,329.22ZM344.80,327.26 L341.77,325.81 L342.07,325.50 L339.84,326.16 L340.72,328.32 L340.78,327.89 L343.80,329.34ZM373.05,328.30 L372.40,329.43 L371.10,329.43 L370.45,328.30 L371.10,327.17 L372.40,327.17ZM400.50,328.30 L399.85,329.43 L398.55,329.43 L397.90,328.30 L398.55,327.17 L399.85,327.17ZM427.95,328.30 L427.30,329.43 L426.00,329.43 L425.35,328.30 L426.00,327.17 L427.30,327.17ZM455.40,328.30 L454.75,329.43 L453.45,329.43 L452.80,328.30 L453.45,327.17 L454.75,327.17ZM178.46,353.73 L177.11,366.65 L175.70,365.96 L177.62,372.90 L180.92,366.51 L179.40,366.89 L180.74,353.97ZM206.26,353.02 L197.65,361.22 L197.07,359.90 L194.36,365.95 L200.53,363.53 L199.24,362.88 L207.84,354.68ZM234.41,352.70 L220.41,353.78 L220.87,352.15 L213.85,355.44 L221.29,357.62 L220.59,356.07 L234.59,355.00ZM262.36,352.77 L246.72,346.84 L248.04,345.32 L238.89,345.10 L245.88,351.01 L245.91,348.99 L261.54,354.93ZM290.14,352.97 L278.15,343.00 L279.77,342.05 L271.72,339.15 L276.04,346.53 L276.67,344.76 L288.66,354.73ZM317.76,353.15 L310.91,344.28 L312.20,343.86 L306.74,340.77 L308.36,346.83 L309.09,345.68 L315.94,354.55ZM345.25,353.21 L342.19,348.68 L342.85,348.50 L339.78,347.17 L339.88,350.52 L340.29,349.97 L343.35,354.49ZM372.69,353.18 L371.39,351.37 L371.68,351.27 L369.84,351.17 L369.34,352.95 L369.52,352.70 L370.81,354.52ZM400.50,353.85 L399.85,354.98 L398.55,354.98 L397.90,353.85 L398.55,352.72 L399.85,352.72ZM427.95,353.85 L427.30,354.98 L426.00,354.98 L425.35,353.85 L426.00,352.72 L427.30,352.72ZM455.40,353.85 L454.75,354.98 L453.45,354.98 L452.80,353.85 L453.45,352.72 L454.75,352.72ZM178.53,379.81 L185.95,399.11 L183.47,399.15 L190.55,407.86 L189.96,396.65 L188.09,398.28 L180.67,378.99ZM205.90,379.48 L206.98,394.70 L205.21,394.20 L208.64,401.85 L210.96,393.79 L209.27,394.54 L208.20,379.32ZM233.61,378.67 L228.38,385.10 L227.86,384.24 L226.79,388.88 L231.13,386.89 L230.17,386.56 L235.39,380.13ZM262.60,378.45 L254.41,372.82 L255.40,372.11 L249.87,371.09 L252.80,375.88 L253.11,374.71 L261.30,380.35ZM290.41,378.84 L282.46,364.42 L284.42,364.12 L277.67,358.13 L279.14,367.03 L280.44,365.54 L288.39,379.96ZM317.88,378.89 L311.69,366.50 L313.35,366.31 L307.72,361.13 L308.48,368.74 L309.63,367.53 L315.82,379.91ZM345.31,378.85 L341.56,371.89 L342.53,371.75 L338.77,369.13 L338.89,373.71 L339.54,372.98 L343.29,379.95ZM372.54,378.57 L369.50,375.66 L369.98,375.41 L367.26,375.10 L367.68,377.81 L367.91,377.32 L370.96,380.23ZM400.30,379.08 L399.38,375.92 L399.81,375.94 L397.84,374.74 L396.82,376.81 L397.18,376.57 L398.10,379.72ZM427.95,379.40 L427.30,380.53 L426.00,380.53 L425.35,379.40 L426.00,378.27 L427.30,378.27ZM454.33,380.53 L457.62,379.87 L457.56,380.30 L458.95,378.43 L456.95,377.24 L457.16,377.61 L453.87,378.27ZM206.06,405.53 L217.94,425.78 L215.17,426.28 L224.57,434.82 L221.71,422.45 L219.92,424.62 L208.04,404.37ZM233.63,405.70 L243.19,416.75 L241.54,417.37 L248.60,421.24 L245.79,413.70 L244.93,415.24 L235.37,404.20ZM262.50,405.96 L268.38,402.75 L268.51,403.57 L270.62,400.22 L266.66,400.18 L267.28,400.73 L261.40,403.94ZM290.53,405.18 L293.35,391.45 L294.80,392.34 L293.57,384.70 L289.42,391.23 L291.10,390.99 L288.27,404.72ZM318.00,404.94 L317.87,390.80 L319.48,391.37 L316.65,384.10 L313.97,391.42 L315.57,390.82 L315.70,404.96ZM345.45,404.89 L345.05,397.13 L345.96,397.40 L343.71,393.50 L341.87,397.61 L342.75,397.25 L343.15,405.01ZM372.88,404.72 L372.22,401.43 L372.65,401.49 L370.78,400.10 L369.59,402.10 L369.96,401.89 L370.62,405.18ZM233.92,431.49 L254.98,443.91 L252.72,445.77 L265.57,448.82 L256.68,439.05 L256.15,441.93 L235.08,429.51ZM261.88,431.65 L279.95,432.73 L279.08,434.72 L288.60,432.09 L279.46,428.35 L280.09,430.43 L262.02,429.35ZM290.00,431.48 L304.29,422.72 L304.69,424.70 L310.47,417.58 L301.51,419.51 L303.09,420.76 L288.80,429.52ZM317.74,431.23 L326.35,420.73 L327.19,422.14 L329.55,415.02 L323.03,418.73 L324.57,419.27 L315.96,429.77ZM345.24,431.17 L349.52,425.15 L350.04,425.89 L350.61,421.62 L346.77,423.57 L347.64,423.81 L343.36,429.83ZM261.73,457.18 L279.53,460.68 L278.40,462.55 L288.20,461.22 L279.63,456.27 L279.97,458.43 L262.17,454.92ZM289.67,457.17 L305.02,453.53 L304.80,455.42 L312.05,450.68 L303.45,449.70 L304.49,451.29 L289.13,454.93Z"/>
</g><use href="#frame"/>
<path fill="#0000ff" stroke="#0000ff" stroke-width="1.1" stroke-linejoin="round" d="M481.10,431.80 L507.58,431.80 L506.48,434.77 L520.15,430.65 L506.48,426.53 L507.58,429.50 L481.10,429.50Z"/>
<text transform="translate(446.11,460.50) scale(1.0991,1)" font-family="Liberation Sans" font-weight="normal" font-size="30.68" fill="#000">25 cm/s</text>
</g>
<text transform="translate(316.69,130.60) scale(1.1298,1)" font-family="Liberation Serif" font-size="35.77" fill="#000" stroke="#fff" stroke-width="0.3"><tspan font-size="38.64">J</tspan>anuary</text>
<text transform="translate(77.97,126.80) scale(1.0304,1)" font-family="Liberation Sans" font-weight="bold" font-size="30.14" fill="#000">A</text>
<g transform="translate(678.6,0.0)">
<g clip-path="url(#cp)"><use href="#coast"/>
<use href="#cont"/>
<path fill="#0000ff" stroke="#0000ff" stroke-width="1.1" stroke-linejoin="round" d="M123.57,174.81 L122.50,181.08 L121.81,180.70 L123.13,184.25 L125.54,181.33 L124.77,181.47 L125.83,175.19ZM153.27,175.25 L153.79,172.91 L154.07,173.07 L152.92,171.55 L151.23,172.44 L151.55,172.41 L151.03,174.75ZM180.65,174.52 L179.33,171.63 L179.74,171.59 L177.66,170.74 L176.94,172.87 L177.24,172.59 L178.55,175.48ZM208.35,175.00 L207.70,176.13 L206.40,176.13 L205.75,175.00 L206.40,173.87 L207.70,173.87ZM233.36,174.85 L232.42,182.21 L231.61,181.80 L233.12,185.85 L235.60,182.31 L234.70,182.50 L235.64,175.15ZM260.80,175.00 L260.80,186.70 L259.46,186.21 L261.95,192.25 L264.44,186.21 L263.10,186.70 L263.10,175.00ZM288.25,174.91 L287.45,184.70 L286.36,184.21 L288.21,189.45 L290.90,184.58 L289.74,184.89 L290.55,175.09ZM315.76,174.63 L314.03,179.68 L313.51,179.27 L314.30,182.46 L316.88,180.42 L316.21,180.43 L317.94,175.37ZM345.60,175.00 L344.95,176.13 L343.65,176.13 L343.00,175.00 L343.65,173.87 L344.95,173.87ZM373.05,175.00 L372.40,176.13 L371.10,176.13 L370.45,175.00 L371.10,173.87 L372.40,173.87ZM400.19,175.59 L401.90,172.69 L402.19,173.02 L401.72,170.73 L399.49,171.43 L399.92,171.52 L398.21,174.41ZM427.65,175.56 L430.04,171.31 L430.45,171.77 L430.18,168.73 L427.43,170.08 L428.04,170.19 L425.65,174.44ZM455.12,175.53 L457.92,170.20 L458.43,170.75 L458.23,167.13 L455.14,169.02 L455.88,169.13 L453.08,174.47ZM482.58,175.51 L486.06,168.55 L486.72,169.24 L486.68,164.73 L483.05,167.41 L484.00,167.53 L480.52,174.49ZM509.93,175.68 L517.19,165.73 L518.03,166.96 L519.71,160.32 L513.90,163.95 L515.33,164.37 L508.07,174.32ZM537.18,175.89 L547.00,167.82 L547.51,169.27 L550.93,163.10 L544.22,165.26 L545.54,166.04 L535.72,174.11ZM564.41,176.03 L567.04,174.72 L567.09,175.10 L567.77,173.07 L565.74,172.39 L566.01,172.66 L563.39,173.97ZM123.56,200.43 L122.89,206.84 L122.17,206.50 L123.72,210.00 L125.95,206.89 L125.18,207.08 L125.84,200.67ZM152.96,199.74 L151.68,198.45 L151.90,198.33 L150.26,198.66 L149.93,200.30 L150.05,200.08 L151.34,201.36ZM180.50,199.83 L178.93,197.88 L179.25,197.76 L177.29,197.67 L176.95,199.59 L177.14,199.31 L178.70,201.27ZM206.45,199.57 L204.77,200.60 L204.70,200.34 L204.58,202.07 L206.18,202.74 L205.98,202.56 L207.65,201.53ZM233.35,200.46 L232.82,207.14 L232.06,206.80 L233.71,210.40 L235.91,207.11 L235.11,207.32 L235.65,200.64ZM260.80,200.55 L260.80,211.70 L259.52,211.24 L261.95,217.00 L264.38,211.24 L263.10,211.70 L263.10,200.55ZM288.25,200.49 L287.71,210.97 L286.54,210.47 L288.61,216.00 L291.23,210.71 L290.01,211.08 L290.55,200.61ZM315.71,200.68 L316.24,205.46 L315.65,205.32 L317.63,207.60 L319.07,204.94 L318.52,205.20 L317.99,200.42ZM345.60,200.55 L344.95,201.68 L343.65,201.68 L343.00,200.55 L343.65,199.42 L344.95,199.42ZM372.50,201.42 L377.44,197.15 L377.74,197.90 L379.04,194.25 L375.23,195.01 L375.94,195.41 L371.00,199.68ZM399.82,201.52 L408.27,196.15 L408.54,197.34 L411.67,192.63 L406.08,193.46 L407.04,194.21 L398.58,199.58ZM427.22,201.55 L436.62,196.17 L436.85,197.47 L440.52,192.62 L434.48,193.32 L435.48,194.18 L426.08,199.55ZM454.69,201.53 L466.95,194.13 L467.28,195.83 L472.17,189.63 L464.41,191.08 L465.76,192.16 L453.51,199.57ZM482.15,201.53 L498.87,191.42 L499.32,193.72 L506.22,185.63 L495.85,187.98 L497.68,189.45 L480.95,199.57ZM509.67,201.48 L522.34,192.32 L522.85,194.13 L527.68,187.04 L519.43,189.40 L520.99,190.46 L508.33,199.62ZM537.75,200.55 L537.10,201.68 L535.80,201.68 L535.15,200.55 L535.80,199.42 L537.10,199.42ZM123.62,226.50 L126.98,235.49 L125.81,235.51 L129.65,239.36 L130.03,233.93 L129.13,234.69 L125.78,225.70ZM153.45,226.10 L152.80,227.23 L151.50,227.23 L150.85,226.10 L151.50,224.97 L152.80,224.97ZM180.63,225.59 L179.32,222.96 L179.70,222.91 L177.67,222.23 L176.99,224.26 L177.26,223.99 L178.57,226.61ZM208.35,226.10 L207.70,227.23 L206.40,227.23 L205.75,226.10 L206.40,224.97 L207.70,224.97ZM233.35,226.17 L233.75,232.44 L233.00,232.23 L235.09,235.35 L236.77,231.99 L236.05,232.30 L235.65,226.03ZM260.80,226.10 L260.80,237.80 L259.46,237.31 L261.95,243.35 L264.44,237.31 L263.10,237.80 L263.10,226.10ZM288.27,226.29 L289.74,235.27 L288.64,235.07 L291.58,239.35 L292.98,234.36 L292.01,234.90 L290.53,225.91ZM316.09,226.97 L320.22,230.56 L319.63,230.90 L322.94,231.40 L321.99,228.19 L321.73,228.83 L317.61,225.23ZM344.82,227.13 L352.25,223.38 L352.38,224.39 L355.27,220.57 L350.48,220.62 L351.22,221.32 L343.78,225.07ZM372.46,227.01 L382.82,218.93 L383.31,220.45 L387.03,214.19 L380.06,216.27 L381.40,217.12 L371.04,225.19ZM399.74,227.12 L409.95,221.74 L410.14,223.13 L414.27,218.17 L407.84,218.76 L408.88,219.71 L398.66,225.08ZM427.38,226.99 L436.52,219.46 L437.00,220.81 L440.13,215.00 L433.82,216.95 L435.06,217.68 L425.92,225.21ZM454.91,226.92 L469.89,212.07 L470.94,214.37 L476.19,204.21 L465.98,209.37 L468.27,210.44 L453.29,225.28ZM123.77,252.33 L131.57,263.09 L130.03,263.53 L136.21,267.53 L134.34,260.41 L133.44,261.74 L125.63,250.97ZM153.45,251.65 L152.80,252.78 L151.50,252.78 L150.85,251.65 L151.50,250.52 L152.80,250.52ZM180.90,251.65 L180.25,252.78 L178.95,252.78 L178.30,251.65 L178.95,250.52 L180.25,250.52ZM208.35,251.65 L207.70,252.78 L206.40,252.78 L205.75,251.65 L206.40,250.52 L207.70,250.52ZM233.35,251.56 L232.82,258.51 L232.03,258.16 L233.71,261.90 L235.94,258.46 L235.11,258.69 L235.65,251.74ZM260.80,251.65 L260.80,261.99 L259.62,261.56 L261.95,266.90 L264.28,261.56 L263.10,261.99 L263.10,251.65ZM288.30,252.00 L290.71,259.63 L289.73,259.59 L292.95,262.91 L293.69,258.34 L292.91,258.94 L290.50,251.30ZM316.85,252.80 L322.71,252.80 L322.47,253.49 L325.50,251.65 L322.47,249.81 L322.71,250.50 L316.85,250.50ZM344.96,252.59 L354.78,245.66 L355.16,247.07 L358.78,241.44 L352.26,242.95 L353.45,243.79 L343.64,250.71ZM372.42,252.59 L381.83,245.86 L382.21,247.22 L385.63,241.74 L379.33,243.20 L380.49,243.99 L371.08,250.71ZM399.85,252.60 L406.28,248.18 L406.52,249.11 L408.68,245.13 L404.20,245.72 L404.97,246.29 L398.55,250.70ZM427.62,252.27 L432.99,243.81 L433.74,244.77 L434.57,239.18 L429.86,242.31 L431.05,242.58 L425.68,251.03ZM455.24,251.78 L456.72,239.00 L458.12,239.70 L456.28,232.80 L452.92,239.10 L454.44,238.74 L452.96,251.52ZM151.16,277.79 L155.59,285.16 L154.55,285.37 L158.67,288.07 L158.23,283.16 L157.56,283.98 L153.14,276.61ZM180.90,277.20 L180.25,278.33 L178.95,278.33 L178.30,277.20 L178.95,276.07 L180.25,276.07ZM208.35,277.20 L207.70,278.33 L206.40,278.33 L205.75,277.20 L206.40,276.07 L207.70,276.07ZM233.37,276.97 L231.90,284.05 L231.14,283.59 L232.33,287.65 L235.04,284.40 L234.16,284.52 L235.63,277.43ZM260.80,277.20 L260.80,287.27 L259.64,286.85 L261.95,292.05 L264.25,286.85 L263.10,287.27 L263.10,277.20ZM288.35,277.68 L290.48,282.33 L289.84,282.39 L292.54,284.06 L293.04,280.93 L292.57,281.38 L290.45,276.72ZM317.62,278.05 L323.10,273.10 L323.45,273.95 L324.94,269.90 L320.76,270.96 L321.56,271.40 L316.08,276.35ZM345.06,278.06 L355.43,268.91 L356.04,270.46 L359.59,263.70 L352.44,266.39 L353.90,267.18 L343.54,276.34ZM372.03,278.32 L381.83,275.90 L381.70,277.12 L386.20,273.64 L380.59,272.64 L381.27,273.67 L371.47,276.08ZM399.58,278.29 L407.62,275.47 L407.61,276.52 L411.06,273.05 L406.20,272.49 L406.86,273.30 L398.82,276.11ZM427.49,277.98 L432.58,272.50 L433.00,273.31 L434.15,269.11 L430.04,270.57 L430.89,270.93 L425.81,276.42ZM455.25,277.27 L455.92,266.80 L457.09,267.31 L455.09,261.75 L452.40,267.01 L453.62,266.65 L452.95,277.13ZM151.09,303.20 L155.53,313.68 L154.15,313.75 L158.69,318.21 L158.66,311.85 L157.64,312.79 L153.21,302.30ZM178.54,303.20 L180.13,306.91 L179.62,306.95 L181.94,308.21 L182.63,305.66 L182.24,306.00 L180.66,302.30ZM208.35,302.75 L207.70,303.88 L206.40,303.88 L205.75,302.75 L206.40,301.62 L207.70,301.62ZM233.40,302.43 L231.53,308.84 L230.85,308.36 L231.74,312.21 L234.56,309.44 L233.73,309.48 L235.60,303.07ZM260.80,302.75 L260.80,311.87 L259.75,311.49 L261.95,316.20 L264.15,311.49 L263.10,311.87 L263.10,302.75ZM290.70,302.75 L290.05,303.88 L288.75,303.88 L288.10,302.75 L288.75,301.62 L290.05,301.62ZM317.77,303.44 L321.78,298.10 L322.24,298.79 L322.76,294.87 L319.15,296.47 L319.94,296.72 L315.93,302.06ZM345.21,303.45 L352.61,293.77 L353.41,295.01 L355.21,288.47 L349.37,291.93 L350.78,292.37 L343.39,302.05ZM372.24,303.79 L379.88,300.17 L379.98,301.20 L383.01,297.41 L378.16,297.36 L378.89,298.09 L371.26,301.71ZM399.27,303.90 L403.64,303.63 L403.49,304.17 L405.65,302.36 L403.29,300.82 L403.50,301.34 L399.13,301.60ZM427.33,303.68 L431.32,300.75 L431.50,301.35 L432.53,298.44 L429.44,298.55 L429.96,298.90 L425.97,301.82ZM455.25,302.75 L455.25,294.44 L456.21,294.79 L454.10,290.50 L451.99,294.79 L452.95,294.44 L452.95,302.75ZM178.47,328.54 L180.08,336.17 L179.13,336.04 L181.97,339.55 L183.15,335.19 L182.33,335.69 L180.73,328.06ZM208.35,328.30 L207.70,329.43 L206.40,329.43 L205.75,328.30 L206.40,327.17 L207.70,327.17ZM233.43,327.87 L230.90,334.15 L230.27,333.59 L230.76,337.56 L233.87,335.05 L233.03,335.01 L235.57,328.73ZM260.83,328.04 L259.36,334.31 L258.69,333.88 L259.78,337.55 L262.40,334.75 L261.60,334.84 L263.07,328.56ZM290.17,329.15 L293.08,326.51 L293.28,326.97 L293.69,324.40 L291.09,324.56 L291.53,324.81 L288.63,327.45ZM317.84,328.88 L321.73,322.18 L322.34,322.91 L322.57,318.43 L318.80,320.86 L319.74,321.03 L315.86,327.72ZM345.17,329.06 L351.20,322.15 L351.75,323.13 L353.20,318.11 L348.42,320.23 L349.47,320.64 L343.43,327.54ZM372.08,329.40 L376.46,328.07 L376.44,328.65 L378.21,326.34 L375.45,325.40 L375.79,325.87 L371.42,327.20ZM399.20,329.45 L404.93,329.45 L404.69,330.12 L407.65,328.30 L404.69,326.48 L404.93,327.15 L399.20,327.15ZM426.73,329.45 L432.73,329.05 L432.53,329.77 L435.50,327.71 L432.28,326.06 L432.57,326.75 L426.57,327.15ZM455.23,328.50 L456.30,322.36 L456.98,322.74 L455.67,319.25 L453.27,322.09 L454.03,321.97 L452.97,328.10ZM178.50,354.19 L181.45,363.85 L180.22,363.79 L183.96,368.11 L184.64,362.44 L183.65,363.18 L180.70,353.51ZM205.91,353.68 L205.38,357.24 L204.97,357.03 L206.27,359.10 L208.12,357.50 L207.66,357.58 L208.19,354.02ZM233.40,353.52 L231.53,359.80 L230.87,359.32 L231.74,363.11 L234.54,360.41 L233.73,360.45 L235.60,354.18ZM260.87,353.46 L259.82,356.34 L259.50,356.10 L260.40,358.11 L262.38,357.14 L261.98,357.13 L263.03,354.24ZM290.45,354.33 L294.61,345.20 L295.48,346.05 L295.54,340.39 L291.30,344.14 L292.52,344.24 L288.35,353.37ZM317.88,354.36 L322.44,345.23 L323.30,346.13 L323.58,340.38 L319.15,344.06 L320.39,344.21 L315.82,353.34ZM345.15,354.62 L347.79,351.72 L348.04,352.16 L348.20,349.56 L345.63,349.97 L346.09,350.17 L343.45,353.08ZM373.05,353.85 L372.40,354.98 L371.10,354.98 L370.45,353.85 L371.10,352.72 L372.40,352.72ZM400.50,353.85 L399.85,354.98 L398.55,354.98 L397.90,353.85 L398.55,352.72 L399.85,352.72ZM427.95,353.85 L427.30,354.98 L426.00,354.98 L425.35,353.85 L426.00,352.72 L427.30,352.72ZM455.40,353.85 L454.75,354.98 L453.45,354.98 L452.80,353.85 L453.45,352.72 L454.75,352.72ZM178.52,379.79 L183.09,392.57 L181.45,392.57 L186.35,398.26 L186.52,390.75 L185.26,391.80 L180.68,379.01ZM205.95,379.72 L208.09,387.08 L207.14,387.03 L210.21,390.26 L211.06,385.89 L210.30,386.44 L208.15,379.08ZM233.37,379.63 L234.84,386.72 L233.96,386.60 L236.67,389.85 L237.86,385.79 L237.10,386.25 L235.63,379.17ZM263.25,379.40 L262.60,380.53 L261.30,380.53 L260.65,379.40 L261.30,378.27 L262.60,378.27ZM290.49,379.75 L295.07,365.61 L296.49,366.72 L296.15,358.54 L291.09,364.97 L292.88,364.90 L288.31,379.05ZM317.96,379.71 L319.83,373.03 L320.53,373.52 L319.61,369.54 L316.76,372.47 L317.61,372.41 L315.74,379.09ZM344.30,380.55 L348.54,380.55 L348.36,381.06 L350.55,379.40 L348.36,377.74 L348.54,378.25 L344.30,378.25ZM373.05,379.40 L372.40,380.53 L371.10,380.53 L370.45,379.40 L371.10,378.27 L372.40,378.27ZM400.50,379.40 L399.85,380.53 L398.55,380.53 L397.90,379.40 L398.55,378.27 L399.85,378.27ZM427.95,379.40 L427.30,380.53 L426.00,380.53 L425.35,379.40 L426.00,378.27 L427.30,378.27ZM455.40,379.40 L454.75,380.53 L453.45,380.53 L452.80,379.40 L453.45,378.27 L454.75,378.27ZM206.15,405.66 L217.34,419.82 L215.28,420.50 L223.56,425.83 L220.28,416.55 L219.14,418.40 L207.95,404.24ZM233.70,405.77 L239.86,411.80 L238.91,412.27 L243.59,413.85 L241.91,409.20 L241.47,410.16 L235.30,404.13ZM262.03,406.10 L269.52,405.56 L269.28,406.45 L273.00,404.16 L268.99,402.42 L269.36,403.27 L261.87,403.80ZM290.43,405.46 L297.30,391.72 L298.57,393.07 L299.53,384.68 L293.40,390.48 L295.24,390.70 L288.37,404.44ZM317.39,405.97 L319.87,404.66 L319.93,405.02 L320.52,403.02 L318.53,402.37 L318.80,402.62 L316.31,403.93ZM344.40,403.80 L341.38,403.54 L341.54,403.18 L339.85,404.56 L341.27,406.22 L341.18,405.83 L344.20,406.10ZM373.05,404.95 L372.40,406.08 L371.10,406.08 L370.45,404.95 L371.10,403.82 L372.40,403.82ZM233.85,431.45 L244.75,438.85 L243.46,439.79 L250.58,441.42 L246.44,435.40 L246.05,436.95 L235.15,429.55ZM261.98,431.65 L273.54,431.38 L273.09,432.71 L279.00,430.10 L272.98,427.77 L273.48,429.08 L261.92,429.35ZM290.19,431.34 L297.03,424.90 L297.49,425.95 L299.49,421.00 L294.43,422.70 L295.45,423.22 L288.61,429.66ZM317.61,431.36 L319.84,429.40 L319.99,429.75 L320.14,427.60 L317.98,427.47 L318.32,427.67 L316.09,429.64ZM345.60,430.50 L344.95,431.63 L343.65,431.63 L343.00,430.50 L343.65,429.37 L344.95,429.37ZM261.78,457.19 L268.73,458.26 L268.31,459.02 L272.20,457.63 L268.91,455.13 L269.08,455.98 L262.12,454.91ZM289.61,457.18 L296.02,455.98 L295.90,456.78 L298.85,454.28 L295.19,453.02 L295.60,453.72 L289.19,454.92Z"/>
</g><use href="#frame"/>
<path fill="#0000ff" stroke="#0000ff" stroke-width="1.1" stroke-linejoin="round" d="M481.40,431.80 L502.45,431.80 L501.58,434.17 L512.45,430.65 L501.58,427.13 L502.45,429.50 L481.40,429.50Z"/>
<text transform="translate(446.26,460.50) scale(1.0935,1)" font-family="Liberation Sans" font-weight="normal" font-size="30.68" fill="#000">8 cm/s</text>
</g>
<text transform="translate(995.29,130.60) scale(1.1298,1)" font-family="Liberation Serif" font-size="35.77" fill="#000" stroke="#fff" stroke-width="0.3"><tspan font-size="38.64">J</tspan>anuary</text>
<text transform="translate(767.87,126.80) scale(0.9472,1)" font-family="Liberation Sans" font-weight="bold" font-size="29.86" fill="#000">B</text>
<g transform="translate(0.0,448.5)">
<g clip-path="url(#cp)"><use href="#coast"/>
<path fill="#0000ff" stroke="#0000ff" stroke-width="1.1" stroke-linejoin="round" d="M125.85,174.90 L123.96,153.98 L126.39,154.63 L121.91,144.15 L119.39,155.26 L121.67,154.19 L123.55,175.10ZM153.23,174.61 L149.33,163.86 L150.72,163.85 L146.40,159.14 L146.10,165.53 L147.17,164.64 L151.07,175.39ZM179.36,173.88 L173.09,175.21 L173.19,174.42 L170.35,176.97 L173.98,178.14 L173.57,177.46 L179.84,176.12ZM206.14,174.30 L199.42,183.03 L198.70,181.90 L197.14,187.88 L202.52,184.84 L201.24,184.43 L207.96,175.70ZM233.55,174.35 L225.88,185.52 L224.93,184.19 L223.18,191.48 L229.36,187.23 L227.78,186.82 L235.45,175.65ZM261.16,174.17 L252.01,182.91 L251.39,181.51 L248.46,187.90 L254.97,185.26 L253.60,184.58 L262.74,175.83ZM288.79,174.03 L277.48,181.16 L277.14,179.58 L272.73,185.52 L279.99,184.10 L278.71,183.11 L290.01,175.97ZM316.47,173.92 L303.95,178.36 L303.96,176.75 L298.39,181.55 L305.74,181.76 L304.72,180.52 L317.23,176.08ZM344.38,173.85 L331.19,172.91 L331.85,171.45 L324.85,173.61 L331.47,176.74 L331.03,175.21 L344.22,176.15ZM372.09,173.90 L359.03,169.86 L360.03,168.55 L352.49,169.04 L358.43,173.71 L358.35,172.06 L371.41,176.10ZM399.62,173.93 L385.88,168.54 L387.06,167.21 L378.94,167.05 L385.00,172.46 L385.04,170.68 L398.78,176.07ZM427.09,173.94 L412.94,168.14 L414.18,166.78 L405.79,166.46 L412.00,172.11 L412.07,170.27 L426.21,176.06ZM454.34,173.87 L439.66,170.78 L440.61,169.24 L432.45,170.43 L439.44,174.82 L439.18,173.03 L453.86,176.13ZM481.39,173.86 L467.38,175.88 L467.73,174.21 L460.90,177.98 L468.52,179.66 L467.71,178.16 L481.71,176.14ZM508.59,173.93 L495.66,178.91 L495.63,177.23 L489.94,182.35 L497.59,182.32 L496.49,181.05 L509.41,176.07ZM535.90,173.99 L523.65,180.72 L523.39,179.05 L518.38,184.93 L526.02,183.85 L524.75,182.74 L537.00,176.01ZM563.31,174.01 L553.10,180.06 L552.83,178.64 L548.83,183.92 L555.38,182.96 L554.27,182.04 L564.49,175.99ZM125.77,200.14 L118.76,181.79 L121.12,181.76 L114.35,173.49 L114.83,184.16 L116.61,182.61 L123.63,200.96ZM152.93,199.70 L143.64,191.23 L144.99,190.52 L138.46,188.05 L141.51,194.33 L142.09,192.93 L151.37,201.40ZM179.40,199.42 L169.33,201.16 L169.55,199.94 L164.75,203.12 L170.34,204.51 L169.73,203.43 L179.80,201.68ZM206.26,199.71 L196.84,208.59 L196.22,207.15 L193.16,213.65 L199.82,210.97 L198.42,210.27 L207.84,201.39ZM233.58,199.86 L224.96,211.44 L224.00,209.99 L221.79,217.63 L228.47,213.32 L226.80,212.82 L235.42,201.24ZM261.08,199.79 L251.93,210.29 L251.11,208.82 L248.45,216.04 L255.23,212.41 L253.66,211.81 L262.82,201.31ZM288.73,199.61 L278.11,207.15 L277.69,205.63 L273.72,211.66 L280.73,209.92 L279.44,209.02 L290.07,201.49ZM316.39,199.50 L306.18,203.93 L306.09,202.58 L301.79,207.09 L308.02,207.02 L307.10,206.04 L317.31,201.60ZM344.47,199.41 L335.62,198.07 L336.14,197.11 L331.25,198.57 L335.49,201.42 L335.28,200.35 L344.13,201.69ZM372.10,199.45 L364.46,197.04 L365.06,196.26 L360.49,197.00 L363.81,200.22 L363.77,199.24 L371.40,201.65ZM399.63,199.48 L391.32,196.13 L392.05,195.31 L386.94,195.61 L390.41,199.36 L390.46,198.26 L398.77,201.62ZM427.08,199.48 L417.00,195.45 L417.88,194.47 L411.79,194.61 L416.10,198.91 L416.15,197.59 L426.22,201.62ZM454.22,199.41 L441.44,198.06 L442.12,196.66 L435.25,198.57 L441.57,201.86 L441.20,200.35 L453.98,201.69ZM481.35,199.42 L467.35,201.84 L467.65,200.15 L460.90,204.12 L468.60,205.60 L467.74,204.11 L481.75,201.68ZM508.65,199.45 L493.70,204.17 L493.78,202.28 L486.94,207.50 L495.54,207.86 L494.39,206.36 L509.35,201.65ZM536.11,199.45 L522.11,203.76 L522.20,201.99 L515.79,206.91 L523.85,207.37 L522.78,205.96 L536.79,201.65ZM125.67,225.48 L115.55,209.70 L117.75,209.21 L109.78,202.83 L112.25,212.73 L113.62,210.94 L123.73,226.72ZM152.76,225.13 L140.78,217.59 L142.13,216.54 L134.48,214.98 L139.19,221.21 L139.56,219.53 L151.54,227.07ZM179.48,224.96 L166.70,226.30 L167.07,224.79 L160.75,228.08 L167.62,229.99 L166.94,228.59 L179.72,227.24ZM206.44,225.12 L195.14,232.12 L194.81,230.55 L190.38,236.42 L197.61,235.07 L196.35,234.08 L207.66,227.08ZM233.62,225.36 L224.60,236.13 L223.75,234.66 L221.20,241.99 L227.96,238.19 L226.36,237.61 L235.38,226.84ZM260.99,225.47 L253.72,236.50 L252.77,235.22 L251.23,242.37 L257.20,238.14 L255.64,237.77 L262.91,226.73ZM288.52,225.35 L282.35,232.60 L281.77,231.59 L280.30,236.79 L285.19,234.50 L284.10,234.09 L290.28,226.85ZM316.21,225.14 L311.82,228.07 L311.66,227.43 L310.37,230.42 L313.63,230.38 L313.10,229.98 L317.49,227.06ZM345.01,225.19 L341.97,222.82 L342.38,222.55 L339.82,222.59 L340.39,225.09 L340.55,224.63 L343.59,227.01ZM372.71,225.47 L370.73,222.44 L371.19,222.32 L368.83,221.63 L368.52,224.06 L368.81,223.69 L370.79,226.73ZM399.79,225.11 L396.89,223.40 L397.22,223.11 L394.93,223.58 L395.63,225.81 L395.72,225.38 L398.61,227.09ZM426.73,224.95 L421.14,224.55 L421.42,223.91 L418.40,225.51 L421.16,227.52 L420.97,226.85 L426.57,227.25ZM453.93,224.96 L445.21,226.30 L445.42,225.24 L441.25,228.08 L446.08,229.53 L445.56,228.58 L454.27,227.24ZM481.25,224.99 L472.67,227.27 L472.77,226.18 L468.89,229.46 L473.88,230.39 L473.27,229.49 L481.85,227.21ZM125.63,250.97 L115.52,237.09 L117.51,236.52 L109.79,231.17 L112.51,240.16 L113.66,238.44 L123.77,252.33ZM152.67,250.62 L140.96,244.70 L142.12,243.62 L134.88,242.92 L139.73,248.33 L139.92,246.76 L151.63,252.68ZM179.57,250.50 L167.47,250.77 L167.94,249.38 L161.75,252.05 L168.05,254.44 L167.52,253.07 L179.63,252.80ZM206.55,250.61 L196.20,255.59 L196.06,254.20 L191.79,258.99 L198.19,258.64 L197.20,257.66 L207.55,252.69ZM233.70,250.82 L225.77,258.48 L225.23,257.26 L222.81,262.95 L228.57,260.73 L227.37,260.14 L235.30,252.48ZM260.91,251.15 L257.70,257.84 L257.06,257.19 L257.21,261.51 L260.69,258.93 L259.78,258.84 L262.99,252.15ZM288.40,252.21 L290.79,256.46 L290.18,256.57 L292.93,257.92 L293.20,254.88 L292.79,255.34 L290.40,251.09ZM316.79,252.80 L321.70,253.06 L321.47,253.64 L324.10,252.04 L321.66,250.17 L321.83,250.77 L316.91,250.50ZM344.85,252.66 L350.73,249.45 L350.86,250.27 L352.97,246.92 L349.01,246.88 L349.63,247.43 L343.75,250.64ZM372.23,252.70 L376.88,250.57 L376.94,251.21 L378.61,248.51 L375.48,248.01 L375.93,248.48 L371.27,250.60ZM400.50,251.65 L399.85,252.78 L398.55,252.78 L397.90,251.65 L398.55,250.52 L399.85,250.52ZM427.95,251.65 L427.30,252.78 L426.00,252.78 L425.35,251.65 L426.00,250.52 L427.30,250.52ZM455.40,251.65 L454.75,252.78 L453.45,252.78 L452.80,251.65 L453.45,250.52 L454.75,250.52ZM152.65,276.17 L142.98,271.46 L143.92,270.55 L137.88,270.27 L141.84,274.83 L141.98,273.53 L151.65,278.23ZM179.57,276.05 L169.50,276.32 L169.89,275.15 L164.75,277.60 L170.01,279.76 L169.56,278.62 L179.63,278.35ZM206.57,276.15 L197.17,280.45 L197.07,279.20 L193.19,283.54 L199.01,283.44 L198.13,282.54 L207.53,278.25ZM233.85,276.25 L227.56,280.53 L227.33,279.62 L225.22,283.52 L229.61,282.99 L228.86,282.43 L235.15,278.15ZM261.16,276.36 L259.07,278.33 L258.91,277.98 L258.86,280.10 L260.97,280.18 L260.64,280.00 L262.74,278.04ZM289.52,278.34 L293.22,277.95 L293.11,278.41 L294.85,276.62 L292.77,275.23 L292.97,275.66 L289.28,276.06ZM317.14,278.31 L323.69,276.57 L323.62,277.41 L326.51,274.64 L322.63,273.66 L323.10,274.35 L316.56,276.09ZM344.60,278.31 L350.47,276.71 L350.42,277.46 L352.96,274.84 L349.44,273.87 L349.87,274.49 L344.00,276.09ZM371.25,278.24 L374.55,279.82 L374.22,280.16 L376.61,279.54 L375.60,277.28 L375.55,277.75 L372.25,276.16ZM398.06,277.32 L398.45,281.15 L397.97,281.04 L399.78,282.85 L401.19,280.71 L400.74,280.91 L400.34,277.08ZM427.95,277.20 L427.30,278.33 L426.00,278.33 L425.35,277.20 L426.00,276.07 L427.30,276.07ZM455.23,277.42 L455.89,273.99 L456.28,274.21 L455.07,272.15 L453.18,273.62 L453.63,273.56 L452.97,276.98ZM152.63,301.71 L145.67,298.49 L146.33,297.82 L141.89,298.01 L144.62,301.52 L144.71,300.58 L151.67,303.79ZM179.47,301.61 L171.43,302.55 L171.66,301.58 L167.75,304.13 L172.14,305.72 L171.70,304.83 L179.73,303.89ZM206.59,301.70 L198.00,305.45 L197.93,304.31 L194.39,308.29 L199.71,308.39 L198.93,307.56 L207.51,303.80ZM234.25,301.63 L226.35,303.37 L226.48,302.38 L222.85,305.32 L227.37,306.46 L226.85,305.61 L234.75,303.87ZM262.36,301.68 L256.49,299.41 L257.00,298.81 L253.29,299.40 L255.64,302.34 L255.66,301.55 L261.54,303.82ZM290.26,301.99 L287.07,298.40 L287.63,298.17 L284.70,297.46 L285.06,300.46 L285.35,299.93 L288.54,303.51ZM318.00,302.75 L318.00,299.60 L318.39,299.73 L316.85,298.10 L315.31,299.73 L315.70,299.60 L315.70,302.75ZM345.60,302.75 L344.95,303.88 L343.65,303.88 L343.00,302.75 L343.65,301.62 L344.95,301.62ZM370.69,302.30 L369.24,305.73 L368.88,305.42 L369.61,307.81 L371.83,306.66 L371.36,306.63 L372.81,303.20ZM398.12,302.36 L396.39,307.15 L395.89,306.74 L396.65,309.81 L399.19,307.93 L398.55,307.93 L400.28,303.14ZM427.95,302.75 L427.30,303.88 L426.00,303.88 L425.35,302.75 L426.00,301.62 L427.30,301.62ZM455.25,302.75 L455.25,299.60 L455.64,299.73 L454.10,298.10 L452.56,299.73 L452.95,299.60 L452.95,302.75ZM179.00,327.32 L170.95,332.28 L170.71,331.15 L167.73,335.62 L173.06,334.96 L172.15,334.24 L180.20,329.28ZM206.52,327.28 L195.22,333.20 L195.01,331.67 L190.38,337.03 L197.42,336.28 L196.28,335.24 L207.58,329.32ZM234.30,327.17 L221.25,329.45 L221.53,327.88 L215.25,331.67 L222.44,333.11 L221.65,331.72 L234.70,329.43ZM262.29,327.20 L249.10,323.16 L250.10,321.83 L242.49,322.34 L248.51,327.03 L248.42,325.36 L261.61,329.40ZM289.97,327.30 L278.67,320.84 L279.87,319.82 L272.73,318.77 L277.26,324.39 L277.53,322.84 L288.83,329.30ZM317.47,327.33 L309.56,322.24 L310.47,321.54 L305.18,320.78 L308.05,325.29 L308.31,324.17 L316.23,329.27ZM344.48,327.16 L338.48,326.23 L338.83,325.56 L335.45,326.92 L338.26,329.25 L338.12,328.50 L344.12,329.44ZM371.07,327.37 L366.68,330.56 L366.48,329.91 L365.27,333.01 L368.59,332.81 L368.03,332.42 L372.43,329.23ZM398.16,327.80 L396.45,331.37 L396.08,331.02 L396.67,333.56 L399.02,332.43 L398.52,332.37 L400.24,328.80ZM427.95,328.30 L427.30,329.43 L426.00,329.43 L425.35,328.30 L426.00,327.17 L427.30,327.17ZM455.40,328.30 L454.75,329.43 L453.45,329.43 L452.80,328.30 L453.45,327.17 L454.75,327.17ZM178.61,353.27 L172.56,363.62 L171.63,362.51 L170.68,369.12 L175.97,365.05 L174.54,364.78 L180.59,354.43ZM206.27,353.01 L195.50,362.97 L194.81,361.34 L191.16,368.55 L198.63,365.47 L197.06,364.66 L207.83,354.69ZM234.18,352.75 L219.23,357.06 L219.36,355.18 L212.44,360.21 L220.97,360.78 L219.86,359.27 L234.82,354.95ZM262.23,352.73 L245.92,348.69 L247.05,347.01 L237.90,347.89 L245.58,352.93 L245.36,350.92 L261.67,354.97ZM290.05,352.90 L274.94,342.65 L276.72,341.37 L267.12,338.73 L273.12,346.68 L273.65,344.55 L288.75,354.80ZM317.59,352.97 L306.41,343.54 L307.95,342.67 L300.36,339.95 L304.32,346.96 L304.93,345.30 L316.11,354.73ZM344.78,352.80 L337.41,349.46 L338.10,348.74 L333.44,348.91 L336.38,352.54 L336.46,351.55 L343.82,354.90ZM371.51,352.73 L367.14,353.65 L367.21,353.09 L365.30,355.22 L367.91,356.39 L367.61,355.90 L371.99,354.97ZM400.50,353.85 L399.85,354.98 L398.55,354.98 L397.90,353.85 L398.55,352.72 L399.85,352.72ZM427.95,353.85 L427.30,354.98 L426.00,354.98 L425.35,353.85 L426.00,352.72 L427.30,352.72ZM455.40,353.85 L454.75,354.98 L453.45,354.98 L452.80,353.85 L453.45,352.72 L454.75,352.72ZM178.45,379.50 L179.80,395.26 L177.96,394.76 L181.59,402.65 L183.82,394.26 L182.09,395.07 L180.75,379.30ZM205.92,379.17 L202.69,395.35 L200.99,394.31 L202.28,403.25 L206.91,395.50 L204.94,395.80 L208.18,379.63ZM233.65,378.63 L226.39,386.69 L225.77,385.53 L223.80,391.29 L229.32,388.73 L228.10,388.23 L235.35,380.17ZM262.45,378.37 L253.32,373.93 L254.21,373.07 L248.48,372.87 L252.19,377.23 L252.32,376.00 L261.45,380.43ZM290.35,378.75 L281.46,365.68 L283.31,365.22 L276.28,360.12 L278.44,368.52 L279.56,366.98 L288.45,380.05ZM317.85,378.83 L310.30,365.76 L312.10,365.44 L305.72,360.13 L307.14,368.30 L308.31,366.91 L315.85,379.97ZM345.17,378.65 L340.22,372.90 L341.09,372.56 L337.00,370.91 L338.01,375.21 L338.48,374.40 L343.43,380.15ZM372.13,378.31 L369.51,377.40 L369.74,377.11 L367.89,378.05 L368.75,379.94 L368.75,379.57 L371.37,380.49ZM400.50,379.40 L399.85,380.53 L398.55,380.53 L397.90,379.40 L398.55,378.27 L399.85,378.27ZM427.16,380.43 L429.79,379.12 L429.84,379.50 L430.52,377.47 L428.49,376.79 L428.76,377.06 L426.14,378.37ZM454.34,380.52 L458.71,379.60 L458.64,380.16 L460.55,378.03 L457.94,376.86 L458.24,377.35 L453.86,378.28ZM206.01,405.44 L215.19,424.74 L212.64,424.98 L220.59,433.41 L219.06,421.93 L217.27,423.76 L208.09,404.46ZM233.56,405.62 L241.50,416.79 L239.91,417.23 L246.21,421.43 L244.32,414.09 L243.38,415.46 L235.44,404.28ZM262.53,405.94 L268.68,402.33 L268.85,403.20 L271.02,399.63 L266.84,399.78 L267.52,400.35 L261.37,403.96ZM290.51,405.24 L294.28,390.83 L295.76,391.85 L294.96,383.70 L290.27,390.42 L292.06,390.25 L288.29,404.66ZM317.99,405.07 L319.48,390.66 L321.05,391.42 L319.03,383.70 L315.49,390.85 L317.19,390.42 L315.71,404.83ZM345.45,404.95 L345.45,398.27 L346.23,398.55 L344.30,395.10 L342.37,398.55 L343.15,398.27 L343.15,404.95ZM373.05,404.95 L372.40,406.08 L371.10,406.08 L370.45,404.95 L371.10,403.82 L372.40,403.82ZM233.94,431.50 L253.65,442.57 L251.59,444.33 L263.57,446.83 L255.20,437.89 L254.77,440.57 L235.06,429.50ZM261.95,431.65 L281.10,431.65 L280.31,433.81 L290.20,430.50 L280.31,427.19 L281.10,429.35 L261.95,429.35ZM290.07,431.43 L305.04,420.64 L305.64,422.78 L311.48,414.59 L301.86,417.53 L303.70,418.78 L288.73,429.57ZM317.76,431.20 L325.97,420.43 L326.86,421.81 L328.96,414.62 L322.58,418.55 L324.15,419.04 L315.94,429.80ZM345.23,431.18 L348.15,427.19 L348.50,427.71 L348.61,424.62 L345.70,425.65 L346.30,425.83 L343.37,429.82ZM261.78,457.19 L278.50,459.61 L277.53,461.40 L286.60,459.63 L278.41,455.35 L278.83,457.34 L262.12,454.91ZM289.72,457.15 L302.64,453.39 L302.54,455.01 L308.46,450.49 L301.04,449.86 L302.00,451.18 L289.08,454.95Z"/>
</g><use href="#frame"/>
<path fill="#0000ff" stroke="#0000ff" stroke-width="1.1" stroke-linejoin="round" d="M481.10,431.80 L507.58,431.80 L506.48,434.77 L520.15,430.65 L506.48,426.53 L507.58,429.50 L481.10,429.50Z"/>
<text transform="translate(446.11,460.50) scale(1.0991,1)" font-family="Liberation Sans" font-weight="normal" font-size="30.68" fill="#000">25 cm/s</text>
</g>
<text transform="translate(340.12,578.90) scale(1.0404,1)" font-family="Liberation Serif" font-size="36.11" fill="#000" stroke="#fff" stroke-width="0.3"><tspan font-size="39.00">A</tspan>pril</text>
<text transform="translate(78.99,573.80) scale(1.0051,1)" font-family="Liberation Sans" font-weight="bold" font-size="30.00" fill="#000">C</text>
<g transform="translate(678.6,448.5)">
<g clip-path="url(#cp)"><use href="#coast"/>
<use href="#cont"/>
<path fill="#0000ff" stroke="#0000ff" stroke-width="1.1" stroke-linejoin="round" d="M126.00,175.00 L125.35,176.13 L124.05,176.13 L123.40,175.00 L124.05,173.87 L125.35,173.87ZM153.45,175.00 L152.80,176.13 L151.50,176.13 L150.85,175.00 L151.50,173.87 L152.80,173.87ZM179.09,173.97 L176.46,175.28 L176.41,174.90 L175.73,176.93 L177.76,177.61 L177.49,177.34 L180.11,176.03ZM205.97,174.61 L203.70,180.89 L203.06,180.36 L203.70,184.26 L206.69,181.67 L205.86,181.67 L208.13,175.39ZM233.47,174.50 L230.66,180.23 L230.11,179.67 L230.37,183.47 L233.52,181.34 L232.73,181.24 L235.53,175.50ZM260.87,174.60 L258.06,182.24 L257.29,181.60 L257.80,186.26 L261.22,183.04 L260.22,183.03 L263.03,175.40ZM288.36,174.50 L283.53,184.58 L282.57,183.61 L282.26,189.86 L286.95,185.71 L285.60,185.58 L290.44,175.50ZM316.04,174.19 L308.92,181.30 L308.40,180.19 L306.36,185.49 L311.66,183.45 L310.55,182.93 L317.66,175.81ZM344.24,173.85 L336.88,174.25 L337.14,173.38 L333.45,175.59 L337.36,177.39 L337.01,176.55 L344.36,176.15ZM372.44,174.08 L367.10,170.07 L367.79,169.61 L363.87,169.09 L365.47,172.70 L365.72,171.91 L371.06,175.92ZM400.20,174.44 L397.00,168.70 L397.80,168.56 L394.47,166.53 L394.45,170.43 L394.99,169.82 L398.20,175.56ZM427.77,174.76 L426.71,169.84 L427.34,169.92 L425.08,167.75 L423.92,170.65 L424.46,170.33 L425.53,175.24ZM455.15,175.46 L457.15,170.95 L457.60,171.37 L457.04,168.34 L454.42,169.97 L455.04,170.02 L453.05,174.54ZM482.43,175.74 L486.57,170.80 L486.98,171.49 L487.65,167.71 L484.06,169.04 L484.81,169.32 L480.67,174.26ZM509.79,175.84 L517.98,168.18 L518.52,169.43 L521.09,163.70 L515.20,165.88 L516.41,166.50 L508.21,174.16ZM537.12,175.94 L546.93,168.94 L547.33,170.35 L550.93,164.69 L544.40,166.24 L545.60,167.07 L535.78,174.06ZM565.20,175.00 L564.55,176.13 L563.25,176.13 L562.60,175.00 L563.25,173.87 L564.55,173.87ZM126.00,200.55 L125.35,201.68 L124.05,201.68 L123.40,200.55 L124.05,199.42 L125.35,199.42ZM151.97,199.41 L149.49,199.81 L149.55,199.47 L148.50,201.13 L150.01,202.38 L149.85,202.08 L152.33,201.69ZM178.88,199.65 L175.57,202.30 L175.39,201.79 L174.72,204.46 L177.46,204.39 L177.01,204.10 L180.32,201.45ZM206.11,199.89 L201.82,206.05 L201.29,205.30 L200.74,209.63 L204.60,207.60 L203.71,207.36 L207.99,201.21ZM233.47,200.04 L230.94,205.10 L230.45,204.59 L230.77,208.02 L233.70,206.22 L233.00,206.13 L235.53,201.06ZM260.83,200.28 L258.69,209.13 L257.76,208.52 L258.79,213.60 L262.03,209.55 L260.92,209.67 L263.07,200.82ZM288.27,200.33 L286.12,211.49 L284.93,210.78 L286.23,217.00 L289.74,211.71 L288.38,211.92 L290.53,200.77ZM315.73,200.30 L313.99,208.06 L313.16,207.54 L314.28,212.00 L317.20,208.45 L316.23,208.57 L317.97,200.80ZM345.60,200.55 L344.95,201.68 L343.65,201.68 L343.00,200.55 L343.65,199.42 L344.95,199.42ZM372.85,200.87 L374.86,193.92 L375.59,194.44 L374.71,190.29 L371.76,193.33 L372.65,193.28 L370.65,200.23ZM400.15,201.19 L406.33,192.06 L407.12,193.14 L408.32,187.07 L403.13,190.44 L404.43,190.77 L398.25,199.91ZM427.44,201.38 L435.23,194.00 L435.76,195.19 L438.14,189.65 L432.48,191.74 L433.65,192.33 L425.86,199.72ZM454.74,201.51 L465.23,194.51 L465.59,196.00 L469.58,190.23 L462.72,191.69 L463.95,192.60 L453.46,199.59ZM482.12,201.55 L495.73,193.73 L496.05,195.60 L501.62,189.02 L493.14,190.52 L494.58,191.74 L480.98,199.55ZM509.59,201.54 L518.18,196.44 L518.41,197.63 L521.67,193.03 L516.06,193.69 L517.00,194.46 L508.41,199.56ZM123.56,226.26 L124.23,230.91 L123.64,230.80 L125.68,232.95 L127.03,230.31 L126.50,230.58 L125.84,225.94ZM151.25,225.38 L149.69,227.34 L149.50,227.06 L149.84,228.98 L151.80,228.89 L151.48,228.77 L153.05,226.82ZM178.67,225.43 L175.61,229.69 L175.23,229.15 L175.09,232.38 L178.11,231.21 L177.47,231.03 L180.53,226.77ZM206.08,225.49 L203.15,230.15 L202.72,229.61 L202.73,232.97 L205.77,231.53 L205.09,231.37 L208.02,226.71ZM233.38,225.85 L232.45,230.09 L231.98,229.81 L233.13,232.35 L235.24,230.52 L234.70,230.59 L235.62,226.35ZM260.82,225.91 L259.34,234.62 L258.40,234.09 L259.78,238.95 L262.67,234.82 L261.61,235.01 L263.08,226.29ZM288.26,226.28 L289.74,235.40 L288.63,235.20 L291.58,239.55 L293.00,234.49 L292.01,235.04 L290.54,225.92ZM316.03,226.90 L320.97,231.98 L320.18,232.35 L324.15,233.59 L323.01,229.59 L322.62,230.38 L317.67,225.30ZM344.76,227.16 L353.75,223.26 L353.82,224.46 L357.56,220.36 L352.02,220.28 L352.84,221.15 L343.84,225.04ZM372.50,226.97 L384.22,216.87 L384.88,218.61 L389.04,211.20 L381.09,214.21 L382.72,215.13 L371.00,225.23ZM399.90,227.01 L410.67,218.66 L411.18,220.23 L415.08,213.79 L407.87,215.97 L409.26,216.85 L398.50,225.19ZM427.53,226.84 L434.92,218.11 L435.61,219.31 L437.55,213.21 L431.86,216.14 L433.16,216.62 L425.77,225.36ZM454.96,226.86 L465.47,215.01 L466.38,216.69 L469.60,208.61 L461.97,212.78 L463.75,213.48 L453.24,225.34ZM123.72,252.24 L128.00,259.34 L127.00,259.55 L131.02,262.12 L130.61,257.37 L129.97,258.16 L125.68,251.06ZM151.10,252.11 L152.55,255.41 L152.09,255.45 L154.29,256.51 L155.00,254.17 L154.65,254.48 L153.20,251.19ZM178.49,251.35 L177.16,256.27 L176.63,255.91 L177.64,258.91 L180.02,256.82 L179.38,256.87 L180.71,251.95ZM205.90,251.58 L205.64,255.82 L205.14,255.61 L206.66,257.90 L208.45,255.82 L207.93,255.96 L208.20,251.72ZM233.35,251.68 L233.48,257.00 L232.85,256.80 L234.70,259.50 L236.41,256.71 L235.78,256.94 L235.65,251.62ZM260.80,251.70 L261.07,257.97 L260.32,257.74 L262.34,260.90 L264.09,257.58 L263.37,257.87 L263.10,251.60ZM288.38,252.17 L291.58,258.46 L290.72,258.57 L294.13,260.92 L294.23,256.78 L293.63,257.41 L290.42,251.13ZM316.81,252.80 L324.71,253.07 L324.35,253.97 L328.50,252.04 L324.49,249.84 L324.79,250.77 L316.89,250.50ZM344.87,252.65 L356.24,246.19 L356.50,247.75 L361.07,242.12 L353.90,243.16 L355.10,244.19 L343.73,250.65ZM372.46,252.56 L382.82,244.48 L383.31,246.00 L387.03,239.74 L380.06,241.82 L381.40,242.67 L371.04,250.74ZM399.99,252.49 L406.15,246.73 L406.56,247.68 L408.29,243.15 L403.66,244.57 L404.58,245.05 L398.41,250.81ZM427.66,252.19 L431.96,244.14 L432.71,244.97 L432.98,239.78 L428.82,242.90 L429.93,243.06 L425.64,251.11ZM455.24,251.78 L456.32,242.66 L457.32,243.16 L455.68,238.20 L452.94,242.65 L454.03,242.40 L452.96,251.52ZM151.16,277.79 L155.59,285.16 L154.55,285.37 L158.67,288.07 L158.23,283.16 L157.56,283.98 L153.14,276.61ZM178.49,277.51 L179.41,280.80 L178.97,280.78 L180.96,282.06 L182.00,279.93 L181.63,280.18 L180.71,276.89ZM206.02,277.70 L208.14,282.09 L207.53,282.16 L210.18,283.67 L210.64,280.65 L210.21,281.08 L208.08,276.70ZM233.39,277.50 L234.86,282.83 L234.17,282.78 L236.66,285.06 L237.64,281.83 L237.07,282.22 L235.61,276.90ZM260.87,277.61 L262.74,282.53 L262.08,282.55 L264.70,284.46 L265.39,281.29 L264.89,281.72 L263.03,276.79ZM288.84,278.21 L293.63,280.87 L293.12,281.32 L296.47,281.13 L294.87,278.18 L294.75,278.86 L289.96,276.19ZM317.38,278.22 L326.38,273.52 L326.54,274.75 L330.12,270.27 L324.40,270.64 L325.31,271.48 L316.32,276.18ZM344.91,278.17 L356.63,270.77 L356.98,272.40 L361.57,266.28 L354.07,267.80 L355.40,268.82 L343.69,276.23ZM372.10,278.30 L381.90,275.21 L381.85,276.46 L386.21,272.65 L380.45,272.02 L381.21,273.01 L371.40,276.10ZM399.63,278.27 L406.31,275.59 L406.35,276.48 L409.06,273.26 L404.87,272.79 L405.46,273.46 L398.77,276.13ZM427.59,277.86 L431.60,272.11 L432.11,272.82 L432.56,268.72 L428.88,270.56 L429.72,270.79 L425.71,276.54ZM455.24,277.31 L455.91,270.22 L456.71,270.59 L455.09,266.75 L452.77,270.22 L453.62,270.01 L452.96,277.09ZM151.07,303.14 L154.42,312.53 L153.21,312.53 L157.10,316.61 L157.53,310.99 L156.59,311.76 L153.23,302.36ZM178.49,303.04 L179.82,308.10 L179.16,308.05 L181.56,310.20 L182.59,307.15 L182.04,307.51 L180.71,302.46ZM205.91,302.61 L205.38,306.99 L204.88,306.74 L206.27,309.20 L208.21,307.15 L207.66,307.26 L208.19,302.89ZM233.38,303.02 L234.58,308.07 L233.93,308.00 L236.27,310.20 L237.37,307.19 L236.82,307.54 L235.62,302.48ZM260.97,303.35 L263.09,306.79 L262.58,306.91 L265.07,307.82 L265.37,305.19 L265.05,305.59 L262.93,302.15ZM289.76,303.84 L293.74,302.52 L293.73,303.05 L295.26,300.80 L292.68,299.91 L293.01,300.34 L289.04,301.66ZM317.77,303.44 L323.00,296.47 L323.59,297.36 L324.56,292.47 L320.14,294.77 L321.16,295.09 L315.93,302.06ZM345.01,303.66 L352.39,297.89 L352.74,298.97 L355.18,294.24 L350.00,295.47 L350.97,296.08 L343.59,301.84ZM372.12,303.84 L378.80,301.57 L378.79,302.44 L381.61,299.40 L377.52,298.70 L378.06,299.39 L371.38,301.66ZM398.90,303.86 L402.87,304.92 L402.58,305.36 L405.06,304.31 L403.43,302.17 L403.47,302.70 L399.50,301.64ZM427.50,303.52 L430.14,300.62 L430.39,301.06 L430.55,298.46 L427.98,298.87 L428.44,299.07 L425.80,301.98ZM455.25,302.83 L455.65,296.96 L456.32,297.25 L454.69,294.10 L452.65,297.00 L453.35,296.81 L452.95,302.67ZM178.47,328.49 L180.08,337.89 L178.93,337.68 L181.97,342.15 L183.36,336.92 L182.34,337.50 L180.73,328.11ZM205.92,328.07 L204.99,332.72 L204.48,332.42 L205.68,335.15 L207.84,333.09 L207.25,333.17 L208.18,328.53ZM233.37,328.07 L232.17,334.08 L231.52,333.69 L232.73,337.15 L235.18,334.42 L234.43,334.53 L235.63,328.53ZM263.25,328.30 L262.60,329.43 L261.30,329.43 L260.65,328.30 L261.30,327.17 L262.60,327.17ZM290.52,328.57 L291.31,325.28 L291.68,325.51 L290.56,323.45 L288.63,324.78 L289.07,324.74 L288.28,328.03ZM317.93,328.69 L320.47,321.74 L321.17,322.32 L320.60,318.04 L317.40,320.94 L318.31,320.95 L315.77,327.91ZM344.98,329.23 L348.97,326.30 L349.15,326.90 L350.18,323.99 L347.09,324.10 L347.61,324.45 L343.62,327.37ZM373.05,328.30 L372.40,329.43 L371.10,329.43 L370.45,328.30 L371.10,327.17 L372.40,327.17ZM400.50,328.30 L399.85,329.43 L398.55,329.43 L397.90,328.30 L398.55,327.17 L399.85,327.17ZM427.08,329.37 L431.05,327.78 L431.08,328.32 L432.51,325.96 L429.84,325.23 L430.20,325.64 L426.22,327.23ZM455.24,328.44 L455.91,322.84 L456.54,323.15 L455.08,320.05 L452.94,322.72 L453.62,322.57 L452.96,328.16ZM178.48,354.10 L180.76,364.44 L179.48,364.27 L182.97,369.10 L184.10,363.26 L183.01,363.94 L180.72,353.60ZM205.91,353.74 L205.37,359.33 L204.73,359.04 L206.26,362.10 L208.34,359.38 L207.66,359.55 L208.19,353.96ZM233.42,353.44 L231.56,358.37 L231.06,357.94 L231.75,361.11 L234.37,359.20 L233.71,359.18 L235.58,354.26ZM261.84,352.71 L259.09,352.97 L259.18,352.61 L257.90,354.24 L259.46,355.59 L259.31,355.26 L262.06,354.99ZM290.55,353.87 L290.68,344.07 L291.80,344.49 L289.60,339.40 L287.25,344.43 L288.38,344.04 L288.25,353.83ZM317.94,354.23 L321.83,343.07 L322.95,343.98 L322.60,337.39 L318.23,342.33 L319.66,342.31 L315.76,353.47ZM344.30,355.00 L348.27,355.00 L348.10,355.48 L350.15,353.85 L348.10,352.22 L348.27,352.70 L344.30,352.70ZM371.42,354.95 L375.79,356.28 L375.45,356.75 L378.21,355.81 L376.44,353.50 L376.46,354.08 L372.08,352.75ZM399.32,354.99 L403.02,354.60 L402.91,355.06 L404.65,353.27 L402.57,351.88 L402.77,352.31 L399.08,352.71ZM427.95,353.85 L427.30,354.98 L426.00,354.98 L425.35,353.85 L426.00,352.72 L427.30,352.72ZM455.40,353.85 L454.75,354.98 L453.45,354.98 L452.80,353.85 L453.45,352.72 L454.75,352.72ZM178.53,379.83 L184.19,393.97 L182.35,394.03 L187.94,400.26 L187.69,391.89 L186.33,393.12 L180.67,378.97ZM205.94,379.71 L208.08,387.34 L207.11,387.28 L210.21,390.66 L211.09,386.16 L210.30,386.72 L208.16,379.09ZM233.36,379.55 L234.16,385.82 L233.39,385.65 L235.68,388.65 L237.14,385.17 L236.44,385.53 L235.64,379.25ZM263.25,379.40 L262.60,380.53 L261.30,380.53 L260.65,379.40 L261.30,378.27 L262.60,378.27ZM290.55,379.48 L291.35,367.65 L292.67,368.23 L290.59,361.95 L287.68,367.89 L289.06,367.49 L288.25,379.32ZM317.98,379.59 L319.19,372.51 L319.96,372.94 L318.62,368.95 L316.05,372.27 L316.92,372.12 L315.72,379.21ZM344.20,380.55 L348.85,380.94 L348.61,381.48 L351.15,379.99 L348.90,378.08 L349.04,378.65 L344.40,378.25ZM373.05,379.40 L372.40,380.53 L371.10,380.53 L370.45,379.40 L371.10,378.27 L372.40,378.27ZM399.05,380.54 L400.98,380.80 L400.87,381.04 L402.05,379.78 L401.24,378.25 L401.29,378.52 L399.35,378.26ZM427.95,379.40 L427.30,380.53 L426.00,380.53 L425.35,379.40 L426.00,378.27 L427.30,378.27ZM455.40,379.40 L454.75,380.53 L453.45,380.53 L452.80,379.40 L453.45,378.27 L454.75,378.27ZM206.13,405.64 L216.92,420.07 L214.84,420.69 L222.96,426.23 L219.94,416.88 L218.76,418.69 L207.97,404.26ZM233.59,405.66 L239.36,413.04 L238.28,413.39 L243.01,415.83 L241.78,410.65 L241.17,411.62 L235.41,404.24ZM261.87,406.10 L267.74,406.50 L267.45,407.17 L270.60,405.54 L267.70,403.50 L267.89,404.20 L262.03,403.80ZM290.48,405.35 L296.00,390.53 L297.45,391.77 L297.55,383.09 L291.94,389.71 L293.85,389.73 L288.32,404.55ZM317.21,406.04 L322.41,404.31 L322.40,405.00 L324.51,402.40 L321.26,401.59 L321.68,402.13 L316.49,403.86ZM344.61,403.84 L341.32,402.92 L341.57,402.55 L339.44,403.59 L340.72,405.58 L340.70,405.14 L343.99,406.06ZM373.05,404.95 L372.40,406.08 L371.10,406.08 L370.45,404.95 L371.10,403.82 L372.40,403.82ZM233.90,431.48 L244.79,438.21 L243.58,439.17 L250.57,440.42 L246.32,434.73 L246.00,436.25 L235.10,429.52ZM261.95,431.65 L274.32,431.65 L273.81,433.06 L280.20,430.50 L273.81,427.94 L274.32,429.35 L261.95,429.35ZM290.31,431.20 L298.11,421.11 L298.94,422.42 L300.91,415.62 L294.82,419.24 L296.29,419.71 L288.49,429.80ZM317.46,431.48 L320.63,429.50 L320.74,429.96 L321.52,427.58 L319.04,427.24 L319.41,427.54 L316.24,429.52ZM345.60,430.50 L344.95,431.63 L343.65,431.63 L343.00,430.50 L343.65,429.37 L344.95,429.37ZM261.73,457.18 L268.68,458.52 L268.24,459.27 L272.20,458.02 L268.99,455.39 L269.12,456.26 L262.17,454.92ZM289.66,457.17 L296.48,455.57 L296.39,456.43 L299.45,453.68 L295.48,452.60 L295.95,453.33 L289.14,454.93Z"/>
</g><use href="#frame"/>
<path fill="#0000ff" stroke="#0000ff" stroke-width="1.1" stroke-linejoin="round" d="M481.40,431.80 L502.45,431.80 L501.58,434.17 L512.45,430.65 L501.58,427.13 L502.45,429.50 L481.40,429.50Z"/>
<text transform="translate(446.26,460.50) scale(1.0935,1)" font-family="Liberation Sans" font-weight="normal" font-size="30.68" fill="#000">8 cm/s</text>
</g>
<text transform="translate(1018.72,578.90) scale(1.0404,1)" font-family="Liberation Serif" font-size="36.11" fill="#000" stroke="#fff" stroke-width="0.3"><tspan font-size="39.00">A</tspan>pril</text>
<text transform="translate(767.73,573.80) scale(1.0131,1)" font-family="Liberation Sans" font-weight="bold" font-size="29.86" fill="#000">D</text>
<g transform="translate(0.0,897.0)">
<g clip-path="url(#cp)"><use href="#coast"/>
<path fill="#0000ff" stroke="#0000ff" stroke-width="1.1" stroke-linejoin="round" d="M125.82,174.73 L120.76,153.81 L123.32,154.10 L117.24,144.15 L116.38,155.78 L118.52,154.35 L123.58,175.27ZM153.22,174.57 L147.15,159.48 L149.11,159.42 L143.21,152.74 L143.56,161.65 L145.02,160.34 L151.08,175.43ZM180.55,174.35 L173.42,163.99 L174.89,163.61 L169.09,159.72 L170.64,166.53 L171.52,165.29 L178.65,175.65ZM207.53,173.96 L200.30,170.61 L200.99,169.91 L196.39,170.06 L199.25,173.67 L199.34,172.70 L206.57,176.04ZM234.44,173.85 L226.81,174.25 L227.08,173.35 L223.25,175.59 L227.29,177.42 L226.93,176.55 L234.56,176.15ZM262.05,173.85 L254.56,173.19 L254.95,172.34 L250.90,174.01 L254.59,176.37 L254.36,175.48 L261.85,176.15ZM289.60,173.87 L282.11,172.53 L282.57,171.72 L278.35,173.03 L281.86,175.72 L281.70,174.79 L289.20,176.13ZM316.43,173.93 L309.61,176.60 L309.58,175.70 L306.79,178.95 L311.04,179.43 L310.45,178.75 L317.27,176.07ZM343.45,174.22 L337.69,180.52 L337.20,179.60 L335.80,184.29 L340.35,182.48 L339.39,182.07 L345.15,175.78ZM370.71,174.51 L367.09,182.14 L366.36,181.41 L366.41,186.26 L370.20,183.23 L369.17,183.13 L372.79,175.49ZM398.07,174.81 L396.73,182.85 L395.85,182.36 L397.22,186.85 L399.98,183.05 L399.00,183.22 L400.33,175.19ZM425.60,174.53 L423.20,179.86 L422.67,179.36 L423.11,182.86 L426.03,180.87 L425.30,180.80 L427.70,175.47ZM453.71,173.92 L448.11,175.92 L448.11,175.18 L445.84,177.95 L449.35,178.66 L448.89,178.08 L454.49,176.08ZM481.50,173.85 L472.65,174.25 L472.97,173.22 L468.50,175.59 L473.17,177.55 L472.75,176.55 L481.60,176.15ZM508.80,173.87 L497.24,175.88 L497.49,174.48 L491.95,177.97 L498.34,179.39 L497.64,178.15 L509.20,176.13ZM536.08,173.91 L523.02,178.35 L523.06,176.69 L517.19,181.55 L524.81,181.83 L523.76,180.53 L536.82,176.09ZM563.47,173.94 L550.27,179.32 L550.20,177.60 L544.44,182.94 L552.30,182.73 L551.14,181.45 L564.33,176.06ZM125.73,200.03 L117.64,184.12 L119.77,183.86 L112.77,177.08 L114.12,186.73 L115.59,185.16 L123.67,201.07ZM153.09,199.89 L143.39,186.01 L145.36,185.48 L137.84,180.07 L140.33,189.00 L141.50,187.33 L151.21,201.21ZM180.37,199.70 L170.01,190.28 L171.51,189.49 L164.31,186.65 L167.82,193.54 L168.46,191.98 L178.83,201.40ZM207.44,199.47 L197.10,195.71 L197.95,194.68 L191.79,195.00 L196.31,199.21 L196.31,197.87 L206.66,201.63ZM234.53,199.40 L225.55,199.13 L225.95,198.11 L221.25,200.15 L225.82,202.48 L225.48,201.43 L234.47,201.70ZM262.13,199.41 L253.55,198.07 L254.06,197.14 L249.30,198.57 L253.39,201.39 L253.19,200.35 L261.77,201.69ZM289.61,199.42 L280.76,197.81 L281.31,196.86 L276.35,198.18 L280.52,201.16 L280.34,200.07 L289.19,201.68ZM316.57,199.43 L306.77,201.85 L306.90,200.63 L302.40,204.11 L308.01,205.11 L307.33,204.08 L317.13,201.67ZM343.70,199.57 L334.84,204.94 L334.59,203.70 L331.23,208.47 L337.01,207.70 L336.03,206.90 L344.90,201.53ZM370.98,199.70 L363.59,206.41 L363.13,205.29 L360.86,210.45 L366.22,208.68 L365.14,208.11 L372.52,201.40ZM398.28,199.85 L392.38,207.64 L391.73,206.64 L390.49,212.03 L395.35,209.39 L394.21,209.03 L400.12,201.25ZM425.78,199.80 L419.74,206.77 L419.19,205.79 L417.75,210.84 L422.54,208.68 L421.48,208.28 L427.52,201.30ZM453.42,199.62 L445.10,205.66 L444.75,204.46 L441.82,209.46 L447.49,208.23 L446.45,207.52 L454.78,201.48ZM481.09,199.50 L468.71,204.88 L468.61,203.25 L463.29,208.49 L470.75,208.17 L469.63,206.99 L482.01,201.60ZM508.65,199.45 L493.02,204.44 L493.10,202.47 L485.94,207.90 L494.93,208.19 L493.72,206.63 L509.35,201.65ZM536.15,199.44 L517.67,204.43 L517.87,202.14 L509.19,207.91 L519.60,208.53 L518.27,206.65 L536.75,201.66ZM125.59,225.37 L115.08,212.57 L116.96,211.91 L109.20,207.22 L112.28,215.74 L113.30,214.03 L123.81,226.83ZM152.98,225.31 L140.58,212.23 L142.57,211.37 L133.85,206.81 L137.95,215.75 L138.91,213.81 L151.32,226.89ZM180.30,225.19 L167.50,215.35 L169.14,214.31 L160.72,211.59 L165.51,219.03 L166.10,217.18 L178.90,227.01ZM207.54,225.06 L196.25,219.68 L197.33,218.62 L190.39,218.16 L195.11,223.27 L195.26,221.76 L206.56,227.14ZM234.77,224.98 L225.78,222.84 L226.40,221.89 L221.25,222.93 L225.37,226.20 L225.25,225.07 L234.23,227.22ZM262.15,224.97 L254.38,223.63 L254.86,222.78 L250.50,224.13 L254.16,226.85 L253.99,225.89 L261.75,227.23ZM289.45,224.95 L280.88,224.55 L281.28,223.58 L276.75,225.51 L281.08,227.85 L280.77,226.85 L289.35,227.25ZM316.57,224.98 L307.32,227.26 L307.44,226.11 L303.20,229.46 L308.51,230.47 L307.87,229.50 L317.13,227.22ZM343.75,225.09 L334.62,230.06 L334.43,228.81 L330.83,233.43 L336.66,232.92 L335.72,232.08 L344.85,227.11ZM371.05,225.19 L362.32,231.91 L361.91,230.63 L358.87,236.01 L364.85,234.45 L363.72,233.73 L372.45,227.01ZM398.45,225.23 L389.04,233.30 L388.51,231.89 L385.31,238.00 L391.84,235.78 L390.53,235.04 L399.95,226.97ZM425.95,225.19 L415.45,233.26 L414.97,231.74 L411.17,238.01 L418.21,235.95 L416.85,235.09 L427.35,227.01ZM453.47,225.14 L440.67,233.49 L440.26,231.69 L435.23,238.42 L443.41,236.52 L441.93,235.41 L454.73,227.06ZM481.00,225.09 L466.98,232.77 L466.69,230.87 L460.88,237.43 L469.54,236.06 L468.09,234.79 L482.10,227.11ZM125.56,250.89 L116.41,240.52 L117.96,239.91 L111.20,236.36 L113.89,243.51 L114.68,242.05 L123.84,252.41ZM152.94,250.81 L141.22,239.76 L142.95,238.89 L134.86,235.35 L138.87,243.22 L139.64,241.44 L151.36,252.49ZM180.28,250.73 L166.81,240.75 L168.49,239.64 L159.72,236.94 L164.87,244.54 L165.44,242.60 L178.92,252.57ZM207.66,250.67 L195.27,243.00 L196.65,241.91 L188.78,240.33 L193.70,246.67 L194.06,244.95 L206.44,252.63ZM235.05,250.64 L225.10,245.26 L226.13,244.35 L219.83,243.72 L223.80,248.64 L224.01,247.29 L233.95,252.66ZM262.26,250.54 L254.09,248.26 L254.69,247.41 L249.89,248.29 L253.54,251.52 L253.47,250.48 L261.64,252.76ZM289.40,250.50 L281.09,250.50 L281.44,249.54 L277.15,251.65 L281.44,253.76 L281.09,252.80 L289.40,252.80ZM316.53,250.54 L308.63,252.82 L308.69,251.81 L305.19,255.01 L309.86,255.85 L309.27,255.03 L317.17,252.76ZM343.72,250.66 L335.67,255.35 L335.46,254.23 L332.43,258.57 L337.70,258.07 L336.83,257.34 L344.88,252.64ZM370.99,250.79 L362.25,258.45 L361.74,257.13 L358.86,262.95 L365.01,260.86 L363.77,260.18 L372.51,252.51ZM398.41,250.81 L388.45,260.24 L387.79,258.72 L384.51,265.55 L391.51,262.65 L390.03,261.91 L399.99,252.49ZM425.96,250.73 L415.19,258.80 L414.72,257.25 L410.77,263.56 L417.94,261.54 L416.57,260.64 L427.34,252.57ZM453.41,250.73 L445.76,256.50 L445.41,255.38 L442.82,260.16 L448.12,258.98 L447.14,258.34 L454.79,252.57ZM152.81,276.26 L143.13,269.53 L144.29,268.71 L137.87,267.29 L141.45,272.80 L141.81,271.42 L151.49,278.14ZM180.28,276.27 L167.75,267.11 L169.31,266.07 L161.12,263.69 L165.87,270.77 L166.39,268.97 L178.92,278.13ZM207.71,276.26 L195.32,267.64 L196.80,266.59 L188.77,264.49 L193.54,271.28 L194.00,269.52 L206.39,278.14ZM235.09,276.21 L223.79,269.48 L225.02,268.48 L217.83,267.28 L222.31,273.02 L222.61,271.46 L233.91,278.19ZM262.30,276.11 L252.37,272.88 L253.15,271.88 L247.29,272.45 L251.70,276.34 L251.66,275.07 L261.60,278.29ZM289.47,276.05 L280.89,275.52 L281.31,274.55 L276.75,276.41 L281.04,278.82 L280.75,277.81 L289.33,278.35ZM316.54,276.09 L309.45,278.10 L309.51,277.19 L306.39,280.16 L310.60,281.05 L310.07,280.31 L317.16,278.31ZM343.59,276.30 L337.16,281.39 L336.83,280.43 L334.82,284.71 L339.44,283.72 L338.58,283.19 L345.01,278.10ZM370.82,276.52 L364.10,285.66 L363.34,284.51 L361.84,290.68 L367.28,287.41 L365.96,287.02 L372.68,277.88ZM398.26,276.53 L391.27,286.35 L390.44,285.15 L388.89,291.68 L394.55,288.08 L393.14,287.68 L400.14,277.87ZM425.79,276.44 L421.52,281.24 L421.13,280.54 L420.35,284.29 L423.98,283.07 L423.24,282.77 L427.51,277.96ZM455.40,277.20 L454.75,278.33 L453.45,278.33 L452.80,277.20 L453.45,276.07 L454.75,276.07ZM152.65,301.71 L145.69,298.37 L146.36,297.70 L141.89,297.81 L144.59,301.39 L144.69,300.44 L151.65,303.79ZM180.26,301.80 L170.17,294.81 L171.38,293.95 L164.72,292.44 L168.48,298.14 L168.86,296.70 L178.94,303.70ZM207.70,301.80 L195.99,293.73 L197.39,292.73 L189.77,290.84 L194.25,297.28 L194.68,295.62 L206.40,303.70ZM235.10,301.77 L223.12,294.37 L224.46,293.31 L216.83,291.83 L221.57,297.99 L221.91,296.32 L233.90,303.73ZM262.42,301.70 L251.94,297.00 L252.91,295.99 L246.49,295.81 L250.89,300.49 L251.00,299.09 L261.48,303.80ZM289.71,301.64 L281.13,299.23 L281.76,298.34 L276.74,299.19 L280.58,302.53 L280.51,301.44 L289.09,303.86ZM316.67,301.61 L309.86,302.68 L310.01,301.84 L306.80,304.33 L310.62,305.71 L310.21,304.96 L317.03,303.89ZM343.55,301.88 L337.38,307.24 L337.02,306.31 L335.21,310.65 L339.77,309.47 L338.89,308.98 L345.05,303.62ZM370.74,302.19 L365.37,311.87 L364.49,310.85 L363.82,317.02 L368.71,313.20 L367.38,312.98 L372.76,303.31ZM398.13,302.32 L395.19,309.69 L394.46,309.04 L394.86,313.61 L398.30,310.58 L397.32,310.54 L400.27,303.18ZM427.95,302.75 L427.30,303.88 L426.00,303.88 L425.35,302.75 L426.00,301.62 L427.30,301.62ZM455.40,302.75 L454.75,303.88 L453.45,303.88 L452.80,302.75 L453.45,301.62 L454.75,301.62ZM180.12,327.28 L174.11,324.20 L174.72,323.63 L170.73,323.77 L172.95,327.08 L173.07,326.25 L179.08,329.32ZM207.74,327.38 L199.41,321.20 L200.46,320.50 L194.77,319.19 L197.68,324.26 L198.04,323.05 L206.36,329.22ZM235.24,327.42 L225.96,319.62 L227.23,318.88 L220.81,316.80 L223.98,322.76 L224.48,321.38 L233.76,329.18ZM262.70,327.43 L254.51,320.31 L255.66,319.67 L249.86,317.80 L252.52,323.28 L253.00,322.05 L261.20,329.17ZM290.13,327.41 L284.24,322.59 L285.04,322.11 L280.72,321.19 L282.47,325.26 L282.78,324.37 L288.67,329.19ZM316.54,327.19 L311.76,328.52 L311.80,327.90 L309.79,330.26 L312.73,331.25 L312.37,330.74 L317.16,329.41ZM343.43,327.55 L337.66,334.25 L337.13,333.31 L335.80,338.19 L340.42,336.14 L339.41,335.75 L345.17,329.05ZM370.76,327.71 L365.80,336.03 L365.05,335.12 L364.43,340.57 L368.93,337.44 L367.77,337.21 L372.74,328.89ZM398.09,328.00 L396.76,332.92 L396.23,332.56 L397.24,335.56 L399.62,333.47 L398.98,333.52 L400.31,328.60ZM427.95,328.30 L427.30,329.43 L426.00,329.43 L425.35,328.30 L426.00,327.17 L427.30,327.17ZM455.40,328.30 L454.75,329.43 L453.45,329.43 L452.80,328.30 L453.45,327.17 L454.75,327.17ZM179.42,352.71 L176.13,353.24 L176.20,352.81 L174.75,354.63 L176.69,355.89 L176.49,355.51 L179.78,354.99ZM207.85,353.02 L203.58,348.89 L204.25,348.56 L200.76,347.75 L201.67,351.22 L201.98,350.54 L206.25,354.68ZM235.43,353.17 L229.93,345.66 L231.02,345.34 L226.39,342.77 L227.44,347.96 L228.07,347.02 L233.57,354.53ZM262.95,353.27 L257.44,343.74 L258.76,343.50 L253.83,339.78 L254.58,345.91 L255.45,344.89 L260.95,354.43ZM290.25,353.07 L284.62,346.91 L285.57,346.52 L281.10,344.76 L282.44,349.37 L282.92,348.46 L288.55,354.63ZM316.49,352.76 L311.70,354.35 L311.71,353.72 L309.79,356.20 L312.82,357.04 L312.43,356.54 L317.21,354.94ZM343.33,353.23 L338.24,361.14 L337.54,360.23 L336.78,365.52 L341.29,362.65 L340.17,362.39 L345.27,354.47ZM370.70,353.38 L367.62,360.34 L366.94,359.70 L367.21,364.11 L370.66,361.34 L369.72,361.27 L372.80,354.32ZM400.50,353.85 L399.85,354.98 L398.55,354.98 L397.90,353.85 L398.55,352.72 L399.85,352.72ZM426.32,354.95 L428.93,355.74 L428.73,356.03 L430.51,355.01 L429.59,353.17 L429.60,353.53 L426.98,352.75ZM452.99,354.16 L454.05,357.99 L453.54,357.96 L455.66,359.51 L456.69,357.09 L456.27,357.38 L455.21,353.54ZM180.90,379.40 L180.25,380.53 L178.95,380.53 L178.30,379.40 L178.95,378.27 L180.25,378.27ZM208.35,379.40 L207.70,380.53 L206.40,380.53 L205.75,379.40 L206.40,378.27 L207.70,378.27ZM235.55,378.94 L232.75,372.52 L233.61,372.46 L230.36,369.94 L230.01,374.04 L230.64,373.45 L233.45,379.86ZM262.96,378.86 L257.86,369.32 L259.16,369.13 L254.42,365.33 L254.95,371.38 L255.83,370.40 L260.94,379.94ZM290.24,378.62 L283.67,371.51 L284.76,371.05 L279.70,368.91 L281.43,374.12 L281.98,373.07 L288.56,380.18ZM316.85,378.25 L310.71,378.25 L310.97,377.53 L307.80,379.40 L310.97,381.27 L310.71,380.55 L316.85,380.55ZM343.37,378.72 L338.28,385.69 L337.68,384.82 L336.79,389.68 L341.15,387.35 L340.14,387.05 L345.23,380.08ZM370.68,378.97 L368.69,383.89 L368.19,383.45 L368.81,386.66 L371.49,384.79 L370.82,384.76 L372.82,379.83ZM400.50,379.40 L399.85,380.53 L398.55,380.53 L397.90,379.40 L398.55,378.27 L399.85,378.27ZM426.56,380.55 L429.85,380.81 L429.68,381.20 L431.50,379.79 L429.93,378.10 L430.03,378.52 L426.74,378.25ZM453.22,380.14 L457.36,385.08 L456.61,385.36 L460.20,386.69 L459.53,382.91 L459.12,383.60 L454.98,378.66ZM208.35,404.95 L207.70,406.08 L206.40,406.08 L205.75,404.95 L206.40,403.82 L207.70,403.82ZM235.62,404.67 L234.69,400.97 L235.18,401.01 L233.14,399.50 L232.05,401.80 L232.46,401.53 L233.38,405.23ZM263.03,404.56 L260.22,396.79 L261.23,396.78 L257.80,393.49 L257.27,398.22 L258.06,397.57 L260.87,405.34ZM290.36,404.32 L285.54,396.95 L286.59,396.70 L282.28,394.08 L282.96,399.07 L283.61,398.21 L288.44,405.58ZM316.95,403.80 L310.81,403.27 L311.13,402.57 L307.80,404.16 L310.80,406.30 L310.61,405.56 L316.75,406.10ZM343.57,404.06 L338.22,408.47 L337.93,407.67 L336.42,411.45 L340.42,410.69 L339.69,410.25 L345.03,405.84ZM370.91,404.16 L368.68,406.53 L368.48,406.15 L368.45,408.44 L370.73,408.28 L370.35,408.11 L372.59,405.74ZM235.80,430.50 L235.15,431.63 L233.85,431.63 L233.20,430.50 L233.85,429.37 L235.15,429.37ZM263.10,430.47 L262.97,425.42 L263.57,425.61 L261.75,423.05 L260.07,425.70 L260.67,425.48 L260.80,430.53ZM290.30,429.78 L286.02,424.44 L286.82,424.16 L283.09,422.62 L283.78,426.59 L284.23,425.87 L288.50,431.22ZM317.06,429.37 L311.33,428.30 L311.69,427.67 L308.40,428.93 L311.02,431.28 L310.91,430.56 L316.64,431.63ZM343.81,429.46 L338.75,431.86 L338.67,431.16 L336.84,434.04 L340.22,434.43 L339.73,433.94 L344.79,431.54ZM262.78,455.26 L260.00,452.35 L260.47,452.13 L257.85,451.76 L258.10,454.39 L258.34,453.93 L261.12,456.84ZM289.94,455.03 L285.69,452.78 L286.13,452.36 L283.13,452.72 L284.52,455.41 L284.61,454.81 L288.86,457.07Z"/>
</g><use href="#frame"/>
<path fill="#0000ff" stroke="#0000ff" stroke-width="1.1" stroke-linejoin="round" d="M481.10,431.80 L507.58,431.80 L506.48,434.77 L520.15,430.65 L506.48,426.53 L507.58,429.50 L481.10,429.50Z"/>
<text transform="translate(446.11,460.50) scale(1.0991,1)" font-family="Liberation Sans" font-weight="normal" font-size="30.68" fill="#000">25 cm/s</text>
</g>
<text transform="translate(345.60,1027.60) scale(1.1192,1)" font-family="Liberation Serif" font-size="35.63" fill="#000" stroke="#fff" stroke-width="0.3"><tspan font-size="38.48">J</tspan>uly</text>
<text transform="translate(79.25,1029.20) scale(0.9422,1)" font-family="Liberation Sans" font-weight="bold" font-size="29.57" fill="#000">E</text>
<g transform="translate(678.6,897.0)">
<g clip-path="url(#cp)"><use href="#coast"/>
<use href="#cont"/>
<path fill="#0000ff" stroke="#0000ff" stroke-width="1.1" stroke-linejoin="round" d="M126.00,175.00 L125.35,176.13 L124.05,176.13 L123.40,175.00 L124.05,173.87 L125.35,173.87ZM153.27,175.28 L153.92,172.67 L154.22,172.86 L153.11,171.15 L151.33,172.13 L151.69,172.11 L151.03,174.72ZM180.64,174.51 L179.60,172.30 L179.92,172.26 L178.06,171.74 L177.28,173.50 L177.52,173.28 L178.56,175.49ZM205.98,174.57 L204.39,178.55 L203.98,178.19 L204.71,180.86 L207.07,179.43 L206.53,179.40 L208.12,175.43ZM233.37,174.79 L232.44,179.70 L231.89,179.39 L233.13,182.25 L235.32,180.04 L234.70,180.13 L235.63,175.21ZM260.81,174.85 L259.74,182.88 L258.85,182.43 L260.37,186.85 L262.99,182.98 L262.02,183.19 L263.09,175.15ZM288.27,174.81 L286.38,186.24 L285.16,185.55 L286.62,191.85 L290.04,186.36 L288.65,186.61 L290.53,175.19ZM315.72,174.77 L313.98,183.21 L313.08,182.66 L314.28,187.45 L317.28,183.53 L316.23,183.68 L317.98,175.23ZM343.16,174.84 L342.36,180.71 L341.70,180.37 L343.12,183.65 L345.36,180.87 L344.64,181.02 L345.44,175.16ZM371.04,175.91 L374.08,178.28 L373.67,178.55 L376.23,178.51 L375.66,176.01 L375.50,176.47 L372.46,174.09ZM399.47,176.12 L406.15,174.51 L406.06,175.36 L409.05,172.64 L405.15,171.57 L405.61,172.28 L398.93,173.88ZM427.13,176.04 L435.85,172.02 L435.96,173.19 L439.51,169.06 L434.07,169.09 L434.89,169.93 L426.17,173.96ZM454.74,175.96 L463.20,170.32 L463.49,171.52 L466.58,166.68 L460.92,167.67 L461.92,168.40 L453.46,174.04ZM482.36,175.81 L489.61,168.56 L490.15,169.69 L492.24,164.31 L486.86,166.40 L487.99,166.94 L480.74,174.19ZM509.86,175.77 L519.14,165.40 L519.94,166.89 L522.70,159.71 L515.87,163.24 L517.43,163.87 L508.14,174.23ZM537.21,175.87 L546.76,167.53 L547.31,168.96 L550.54,162.70 L543.90,165.05 L545.24,165.79 L535.69,174.13ZM564.54,175.96 L566.49,174.66 L566.57,174.96 L566.78,173.08 L564.96,172.55 L565.21,172.74 L563.26,174.04ZM126.00,200.55 L125.35,201.68 L124.05,201.68 L123.40,200.55 L124.05,199.42 L125.35,199.42ZM153.19,200.06 L152.29,198.12 L152.58,198.08 L150.81,197.69 L149.99,199.29 L150.20,199.09 L151.11,201.04ZM179.75,199.41 L177.82,199.15 L177.93,198.91 L176.75,200.17 L177.56,201.70 L177.51,201.43 L179.45,201.69ZM206.15,199.83 L203.50,203.14 L203.21,202.69 L203.14,205.43 L205.81,204.76 L205.30,204.58 L207.95,201.27ZM233.37,200.32 L232.44,204.97 L231.93,204.67 L233.13,207.40 L235.29,205.34 L234.70,205.42 L235.63,200.78ZM260.80,200.53 L260.67,209.24 L259.67,208.87 L261.75,213.40 L263.98,208.94 L262.97,209.28 L263.10,200.57ZM288.25,200.49 L287.71,211.24 L286.51,210.73 L288.61,216.40 L291.26,210.97 L290.01,211.35 L290.55,200.61ZM315.76,200.93 L318.31,208.29 L317.35,208.28 L320.60,211.41 L321.23,206.94 L320.48,207.54 L317.94,200.17ZM343.67,201.51 L347.92,204.30 L347.42,204.69 L350.57,204.67 L349.34,201.76 L349.19,202.38 L344.93,199.59ZM372.06,201.66 L380.77,199.24 L380.69,200.35 L384.61,196.99 L379.52,196.12 L380.16,197.03 L371.44,199.44ZM399.69,201.59 L411.80,195.94 L411.94,197.55 L417.06,192.21 L409.68,192.71 L410.83,193.86 L398.71,199.51ZM427.10,201.61 L440.56,195.95 L440.65,197.72 L446.51,192.21 L438.47,192.54 L439.67,193.83 L426.20,199.49ZM454.54,201.61 L469.09,195.55 L469.18,197.45 L475.56,191.61 L466.92,192.03 L468.21,193.43 L453.66,199.49ZM482.06,201.58 L497.97,193.76 L498.19,195.88 L505.02,189.02 L495.41,190.22 L496.95,191.70 L481.04,199.52ZM509.69,201.47 L521.00,192.99 L521.50,194.62 L525.68,188.04 L518.19,190.21 L519.62,191.15 L508.31,199.63ZM537.75,200.55 L537.10,201.68 L535.80,201.68 L535.15,200.55 L535.80,199.42 L537.10,199.42ZM123.60,226.42 L124.25,228.63 L123.94,228.62 L125.66,229.36 L126.71,227.81 L126.45,227.98 L125.80,225.78ZM153.45,226.10 L152.80,227.23 L151.50,227.23 L150.85,226.10 L151.50,224.97 L152.80,224.97ZM179.60,224.95 L177.67,224.95 L177.75,224.69 L176.75,226.10 L177.75,227.50 L177.67,227.25 L179.60,227.25ZM208.35,226.10 L207.70,227.23 L206.40,227.23 L205.75,226.10 L206.40,224.97 L207.70,224.97ZM233.36,226.21 L233.75,230.18 L233.26,230.07 L235.09,231.95 L236.50,229.74 L236.04,229.95 L235.64,225.99ZM260.80,226.17 L261.34,235.15 L260.28,234.84 L262.74,239.35 L264.65,234.58 L263.63,235.02 L263.10,226.03ZM288.32,226.49 L291.54,235.48 L290.37,235.48 L294.15,239.36 L294.60,233.96 L293.70,234.70 L290.48,225.71ZM316.08,226.95 L321.97,232.31 L321.10,232.77 L325.54,234.00 L323.89,229.70 L323.51,230.60 L317.62,225.25ZM344.32,227.25 L354.12,227.05 L353.74,228.18 L358.75,225.80 L353.65,223.63 L354.07,224.75 L344.28,224.95ZM372.28,227.12 L384.80,220.66 L385.01,222.35 L390.22,216.57 L382.49,217.46 L383.74,218.62 L371.22,225.08ZM399.70,227.14 L411.81,221.35 L411.97,222.97 L417.06,217.56 L409.66,218.14 L410.82,219.28 L398.70,225.06ZM427.25,227.08 L436.66,221.30 L436.93,222.62 L440.52,217.58 L434.40,218.51 L435.45,219.34 L426.05,225.12ZM454.83,226.99 L466.69,217.15 L467.31,218.90 L471.58,211.60 L463.62,214.44 L465.22,215.38 L453.37,225.21ZM123.72,252.26 L127.06,257.60 L126.30,257.77 L129.62,259.52 L129.50,255.77 L129.01,256.38 L125.68,251.04ZM153.45,251.65 L152.80,252.78 L151.50,252.78 L150.85,251.65 L151.50,250.52 L152.80,250.52ZM179.60,250.50 L177.67,250.50 L177.75,250.25 L176.75,251.65 L177.75,253.06 L177.67,252.80 L179.60,252.80ZM208.35,251.65 L207.70,252.78 L206.40,252.78 L205.75,251.65 L206.40,250.52 L207.70,250.52ZM233.35,251.70 L233.48,254.85 L233.09,254.74 L234.69,256.30 L236.16,254.61 L235.78,254.75 L235.65,251.60ZM260.81,251.80 L261.61,258.07 L260.84,257.90 L263.13,260.90 L264.59,257.42 L263.89,257.78 L263.09,251.50ZM288.38,252.17 L291.58,258.46 L290.72,258.57 L294.13,260.92 L294.23,256.78 L293.63,257.41 L290.42,251.13ZM316.64,252.78 L323.86,254.12 L323.41,254.90 L327.50,253.62 L324.14,250.96 L324.28,251.86 L317.06,250.52ZM344.69,252.73 L355.37,248.90 L355.37,250.28 L360.06,246.00 L353.72,245.67 L354.60,246.74 L343.91,250.57ZM372.26,252.68 L381.67,247.98 L381.82,249.25 L385.62,244.72 L379.71,245.04 L380.64,245.92 L371.24,250.62ZM399.81,252.62 L405.56,249.02 L405.74,249.84 L407.67,246.33 L403.67,246.55 L404.33,247.07 L398.59,250.68ZM427.55,252.37 L431.82,247.02 L432.27,247.74 L432.96,243.77 L429.23,245.31 L430.03,245.59 L425.75,250.93ZM455.24,251.79 L456.31,243.08 L457.27,243.56 L455.68,238.80 L452.98,243.03 L454.03,242.80 L452.96,251.51ZM151.23,277.89 L154.02,281.61 L153.46,281.79 L156.26,282.68 L156.19,279.74 L155.86,280.23 L153.07,276.51ZM180.90,277.20 L180.25,278.33 L178.95,278.33 L178.30,277.20 L178.95,276.07 L180.25,276.07ZM208.35,277.20 L207.70,278.33 L206.40,278.33 L205.75,277.20 L206.40,276.07 L207.70,276.07ZM233.46,276.71 L231.60,280.69 L231.20,280.30 L231.76,283.06 L234.24,281.72 L233.69,281.66 L235.54,277.69ZM260.81,277.08 L260.27,282.13 L259.70,281.86 L261.17,284.65 L263.18,282.23 L262.56,282.37 L263.09,277.32ZM288.41,277.79 L290.80,281.77 L290.23,281.89 L292.92,283.07 L293.15,280.14 L292.77,280.59 L290.39,276.61ZM317.24,278.28 L322.43,276.42 L322.44,277.11 L324.51,274.45 L321.22,273.72 L321.65,274.25 L316.46,276.12ZM344.85,278.21 L354.05,273.24 L354.24,274.50 L357.87,269.87 L352.00,270.37 L352.95,271.22 L343.75,276.19ZM371.79,278.35 L379.42,278.08 L379.13,278.98 L383.00,276.81 L378.99,274.91 L379.34,275.78 L371.71,276.05ZM399.40,278.33 L404.72,277.40 L404.61,278.07 L407.05,275.83 L404.00,274.54 L404.33,275.14 L399.00,276.07ZM427.45,278.03 L431.17,274.44 L431.44,275.03 L432.14,271.90 L429.00,272.49 L429.58,272.78 L425.85,276.37ZM455.24,277.37 L456.31,270.42 L457.07,270.84 L455.68,266.95 L453.18,270.24 L454.03,270.07 L452.96,277.03ZM151.12,303.25 L153.92,308.99 L153.13,309.09 L156.28,311.22 L156.54,307.42 L155.99,307.98 L153.18,302.25ZM180.90,302.75 L180.25,303.88 L178.95,303.88 L178.30,302.75 L178.95,301.62 L180.25,301.62ZM208.35,302.75 L207.70,303.88 L206.40,303.88 L205.75,302.75 L206.40,301.62 L207.70,301.62ZM233.43,302.33 L231.98,306.03 L231.59,305.70 L232.35,308.21 L234.62,306.90 L234.12,306.87 L235.57,303.17ZM260.82,302.54 L260.02,306.92 L259.53,306.64 L260.78,309.20 L262.84,307.25 L262.29,307.33 L263.08,302.96ZM288.59,303.56 L289.87,304.85 L289.65,304.97 L291.29,304.64 L291.62,303.00 L291.50,303.22 L290.21,301.94ZM317.80,303.40 L321.67,297.79 L322.17,298.48 L322.56,294.47 L318.96,296.26 L319.78,296.49 L315.90,302.10ZM345.08,303.60 L350.49,298.65 L350.84,299.48 L352.29,295.45 L348.14,296.53 L348.94,296.95 L343.52,301.90ZM372.20,303.81 L376.86,301.81 L376.90,302.45 L378.61,299.81 L375.52,299.23 L375.95,299.70 L371.30,301.69ZM398.74,303.80 L401.77,305.12 L401.48,305.44 L403.66,304.69 L402.72,302.58 L402.68,303.01 L399.66,301.70ZM427.34,303.67 L429.97,301.70 L430.10,302.10 L430.53,299.84 L428.24,299.61 L428.59,299.86 L425.96,301.83ZM455.24,302.90 L455.90,297.85 L456.48,298.14 L455.08,295.30 L453.00,297.68 L453.62,297.55 L452.96,302.60ZM178.49,328.60 L179.82,333.52 L179.18,333.47 L181.56,335.56 L182.57,332.56 L182.04,332.92 L180.71,328.00ZM208.35,328.30 L207.70,329.43 L206.40,329.43 L205.75,328.30 L206.40,327.17 L207.70,327.17ZM233.43,327.87 L231.98,331.43 L231.61,331.11 L232.36,333.56 L234.60,332.33 L234.11,332.30 L235.57,328.73ZM263.25,328.30 L262.60,329.43 L261.30,329.43 L260.65,328.30 L261.30,327.17 L262.60,327.17ZM290.10,329.21 L293.55,326.56 L293.72,327.08 L294.48,324.39 L291.68,324.43 L292.14,324.74 L288.70,327.39ZM317.86,328.86 L321.20,322.85 L321.76,323.48 L321.78,319.43 L318.35,321.59 L319.19,321.73 L315.84,327.74ZM344.77,329.35 L349.49,327.22 L349.55,327.87 L351.26,325.16 L348.10,324.65 L348.55,325.12 L343.83,327.25ZM373.05,328.30 L372.40,329.43 L371.10,329.43 L370.45,328.30 L371.10,327.17 L372.40,327.17ZM400.50,328.30 L399.85,329.43 L398.55,329.43 L397.90,328.30 L398.55,327.17 L399.85,327.17ZM427.95,328.30 L427.30,329.43 L426.00,329.43 L425.35,328.30 L426.00,327.17 L427.30,327.17ZM455.24,328.47 L455.90,324.10 L456.40,324.36 L455.08,321.85 L453.07,323.85 L453.63,323.75 L452.96,328.13ZM178.49,354.15 L181.18,364.09 L179.93,363.98 L183.56,368.51 L184.42,362.77 L183.40,363.49 L180.71,353.55ZM205.93,354.13 L206.72,357.28 L206.30,357.25 L208.21,358.50 L209.31,356.50 L208.95,356.73 L208.17,353.57ZM233.47,353.34 L232.57,355.14 L232.37,354.95 L233.17,356.52 L234.90,356.22 L234.62,356.17 L235.53,354.36ZM263.25,353.85 L262.60,354.98 L261.30,354.98 L260.65,353.85 L261.30,352.72 L262.60,352.72ZM290.27,354.60 L294.41,349.80 L294.80,350.48 L295.50,346.76 L291.93,348.01 L292.67,348.30 L288.53,353.10ZM317.82,354.46 L321.70,348.31 L322.26,349.02 L322.57,344.78 L318.88,346.89 L319.76,347.09 L315.88,353.24ZM345.60,353.85 L344.95,354.98 L343.65,354.98 L343.00,353.85 L343.65,352.72 L344.95,352.72ZM373.05,353.85 L372.40,354.98 L371.10,354.98 L370.45,353.85 L371.10,352.72 L372.40,352.72ZM400.50,353.85 L399.85,354.98 L398.55,354.98 L397.90,353.85 L398.55,352.72 L399.85,352.72ZM427.95,353.85 L427.30,354.98 L426.00,354.98 L425.35,353.85 L426.00,352.72 L427.30,352.72ZM455.40,353.85 L454.75,354.98 L453.45,354.98 L452.80,353.85 L453.45,352.72 L454.75,352.72ZM178.51,379.77 L180.78,386.45 L179.91,386.44 L182.95,389.26 L183.65,385.17 L182.96,385.71 L180.69,379.03ZM206.03,379.93 L208.42,384.58 L207.77,384.67 L210.58,386.27 L210.92,383.05 L210.47,383.53 L208.07,378.87ZM233.73,380.26 L236.23,382.49 L235.86,382.71 L238.19,382.70 L237.94,380.38 L237.77,380.78 L235.27,378.54ZM262.89,380.06 L264.73,377.43 L264.98,377.77 L264.66,375.52 L262.45,375.99 L262.85,376.11 L261.01,378.74ZM290.50,379.75 L292.63,373.07 L293.32,373.59 L292.55,369.54 L289.58,372.39 L290.44,372.37 L288.30,379.05ZM318.15,379.40 L317.50,380.53 L316.20,380.53 L315.55,379.40 L316.20,378.27 L317.50,378.27ZM343.57,380.29 L346.75,382.87 L346.31,383.15 L348.98,383.21 L348.38,380.60 L348.20,381.09 L345.03,378.51ZM373.05,379.40 L372.40,380.53 L371.10,380.53 L370.45,379.40 L371.10,378.27 L372.40,378.27ZM400.50,379.40 L399.85,380.53 L398.55,380.53 L397.90,379.40 L398.55,378.27 L399.85,378.27ZM427.95,379.40 L427.30,380.53 L426.00,380.53 L425.35,379.40 L426.00,378.27 L427.30,378.27ZM455.40,379.40 L454.75,380.53 L453.45,380.53 L452.80,379.40 L453.45,378.27 L454.75,378.27ZM206.12,405.62 L211.21,412.72 L210.18,413.02 L214.56,415.43 L213.69,410.50 L213.08,411.38 L207.98,404.28ZM233.79,405.86 L238.60,409.59 L237.96,410.00 L241.58,410.46 L240.25,407.06 L240.01,407.78 L235.21,404.04ZM262.25,406.06 L265.68,405.14 L265.65,405.59 L267.01,403.59 L264.82,402.54 L265.08,402.92 L261.65,403.84ZM290.52,405.22 L292.39,397.59 L293.20,398.13 L292.16,393.70 L289.20,397.14 L290.16,397.05 L288.28,404.68ZM315.78,405.37 L316.96,408.39 L316.54,408.41 L318.60,409.41 L319.43,407.28 L319.10,407.56 L317.92,404.53ZM343.92,403.86 L340.90,404.92 L340.89,404.50 L339.84,406.50 L341.91,407.42 L341.66,407.09 L344.68,406.04ZM373.05,404.95 L372.40,406.08 L371.10,406.08 L370.45,404.95 L371.10,403.82 L372.40,403.82ZM233.80,431.41 L237.24,434.06 L236.78,434.37 L239.58,434.41 L238.82,431.72 L238.65,432.24 L235.20,429.59ZM261.83,431.64 L268.38,432.31 L268.03,433.05 L271.60,431.48 L268.42,429.23 L268.61,430.02 L262.07,429.36ZM290.12,431.40 L294.25,428.07 L294.47,428.69 L295.48,425.59 L292.24,425.93 L292.80,426.28 L288.68,429.60ZM316.08,431.35 L317.49,432.64 L317.26,432.77 L318.94,432.40 L319.15,430.70 L319.04,430.94 L317.62,429.65ZM345.60,430.50 L344.95,431.63 L343.65,431.63 L343.00,430.50 L343.65,429.37 L344.95,429.37ZM263.25,456.05 L262.60,457.18 L261.30,457.18 L260.65,456.05 L261.30,454.92 L262.60,454.92ZM290.70,456.05 L290.05,457.18 L288.75,457.18 L288.10,456.05 L288.75,454.92 L290.05,454.92Z"/>
</g><use href="#frame"/>
<path fill="#0000ff" stroke="#0000ff" stroke-width="1.1" stroke-linejoin="round" d="M481.40,431.80 L502.45,431.80 L501.58,434.17 L512.45,430.65 L501.58,427.13 L502.45,429.50 L481.40,429.50Z"/>
<text transform="translate(446.26,460.50) scale(1.0935,1)" font-family="Liberation Sans" font-weight="normal" font-size="30.68" fill="#000">8 cm/s</text>
</g>
<text transform="translate(1024.20,1027.60) scale(1.1192,1)" font-family="Liberation Serif" font-size="35.63" fill="#000" stroke="#fff" stroke-width="0.3"><tspan font-size="38.48">J</tspan>uly</text>
<text transform="translate(767.87,1023.70) scale(0.9479,1)" font-family="Liberation Sans" font-weight="bold" font-size="29.86" fill="#000">F</text>
<g transform="translate(0.0,1345.5)">
<g clip-path="url(#cp)"><use href="#coast"/>
<path fill="#0000ff" stroke="#0000ff" stroke-width="1.1" stroke-linejoin="round" d="M125.78,174.60 L121.07,161.95 L122.70,161.93 L117.75,156.34 L117.67,163.81 L118.91,162.75 L123.62,175.40ZM153.20,174.54 L147.14,160.80 L148.95,160.68 L143.21,154.74 L143.73,162.98 L145.04,161.73 L151.10,175.46ZM180.36,174.14 L171.62,166.47 L172.86,165.79 L166.71,163.70 L169.59,169.52 L170.10,168.20 L178.84,175.86ZM206.75,173.89 L195.45,176.98 L195.57,175.57 L190.39,179.56 L196.88,180.36 L196.06,179.20 L207.35,176.11ZM233.71,174.17 L221.44,185.90 L220.62,184.02 L216.41,192.30 L224.86,188.46 L223.03,187.56 L235.29,175.83ZM261.05,174.29 L248.77,189.80 L247.53,187.78 L243.84,197.88 L252.83,191.97 L250.58,191.23 L262.85,175.71ZM288.59,174.18 L277.00,185.64 L276.18,183.85 L272.31,191.89 L280.39,188.11 L278.62,187.27 L290.21,175.82ZM316.34,173.97 L304.77,179.76 L304.58,178.20 L299.78,183.53 L306.93,182.89 L305.79,181.81 L317.36,176.03ZM344.20,173.85 L333.05,174.79 L333.40,173.48 L327.85,176.39 L333.81,178.32 L333.24,177.09 L344.40,176.15ZM372.16,173.93 L363.44,170.57 L364.19,169.71 L358.89,170.05 L362.59,173.86 L362.62,172.72 L371.34,176.07ZM400.00,174.18 L394.11,168.42 L395.02,167.97 L390.51,166.50 L392.08,170.98 L392.50,170.06 L398.40,175.82ZM427.64,174.41 L423.89,168.13 L424.78,167.95 L421.13,165.73 L421.34,170.00 L421.92,169.30 L425.66,175.59ZM455.11,174.45 L452.58,169.79 L453.24,169.69 L450.37,168.13 L450.11,171.38 L450.56,170.89 L453.09,175.55ZM481.78,173.87 L478.63,173.22 L478.84,172.85 L476.90,174.03 L478.21,175.89 L478.16,175.47 L481.32,176.13ZM508.64,173.91 L502.91,175.77 L502.93,175.02 L500.54,177.75 L504.08,178.56 L503.62,177.96 L509.36,176.09ZM536.09,173.91 L527.92,176.59 L527.95,175.53 L524.39,178.95 L529.28,179.61 L528.63,178.77 L536.81,176.09ZM563.49,173.92 L554.64,177.28 L554.62,176.12 L550.84,179.95 L556.20,180.31 L555.45,179.43 L564.31,176.08ZM125.69,199.96 L119.23,189.20 L120.72,188.91 L115.18,184.68 L116.30,191.56 L117.26,190.38 L123.71,201.14ZM153.05,199.84 L144.30,188.80 L145.92,188.26 L139.24,184.27 L141.61,191.67 L142.50,190.22 L151.25,201.26ZM180.07,199.50 L167.96,194.12 L169.07,192.96 L161.74,192.61 L166.91,197.82 L167.02,196.22 L179.13,201.60ZM206.67,199.47 L192.93,204.31 L192.95,202.55 L186.79,207.70 L194.81,207.84 L193.70,206.48 L207.43,201.63ZM233.75,199.68 L219.31,212.23 L218.49,210.08 L213.21,219.05 L222.83,215.07 L220.82,213.96 L235.25,201.42ZM261.09,199.79 L248.41,214.08 L247.32,212.06 L243.25,221.64 L252.27,216.45 L250.13,215.61 L262.81,201.31ZM288.63,199.70 L277.04,210.21 L276.33,208.46 L272.31,216.05 L280.25,212.79 L278.59,211.91 L290.17,201.40ZM316.31,199.53 L305.42,205.32 L305.21,203.84 L300.78,209.08 L307.60,208.35 L306.50,207.35 L317.39,201.57ZM344.42,199.41 L335.30,198.47 L335.78,197.46 L330.85,199.17 L335.33,201.84 L335.06,200.76 L344.18,201.69ZM372.52,199.69 L366.22,194.07 L367.13,193.57 L362.46,192.25 L364.30,196.74 L364.69,195.78 L370.98,201.41ZM400.25,200.08 L396.63,192.03 L397.71,191.95 L393.86,188.69 L393.75,193.73 L394.53,192.98 L398.15,201.02ZM427.74,200.20 L425.06,191.89 L426.13,191.92 L422.70,188.29 L422.03,193.25 L422.87,192.59 L425.56,200.90ZM455.15,200.08 L452.61,194.47 L453.38,194.41 L450.36,192.29 L449.97,195.95 L450.52,195.42 L453.05,201.02ZM481.55,199.40 L477.04,199.40 L477.23,198.86 L474.90,200.55 L477.23,202.24 L477.04,201.70 L481.55,201.70ZM508.51,199.51 L501.96,202.58 L501.87,201.70 L499.34,205.09 L503.56,205.30 L502.94,204.67 L509.49,201.59ZM536.16,199.44 L527.99,201.58 L528.07,200.55 L524.40,203.71 L529.15,204.66 L528.57,203.81 L536.74,201.66ZM125.52,225.29 L118.54,218.18 L119.65,217.67 L114.41,215.61 L116.37,220.89 L116.90,219.79 L123.88,226.91ZM152.78,225.14 L141.34,217.60 L142.67,216.61 L135.28,214.98 L139.69,221.13 L140.08,219.52 L151.52,227.06ZM179.85,224.98 L165.04,221.61 L166.03,220.07 L157.75,221.13 L164.76,225.67 L164.53,223.85 L179.35,227.22ZM206.67,225.01 L191.31,230.41 L191.33,228.44 L184.39,234.05 L193.31,234.09 L192.07,232.58 L207.43,227.19ZM233.79,225.20 L219.36,236.52 L218.68,234.43 L213.22,242.81 L222.66,239.49 L220.78,238.33 L235.21,227.00ZM261.13,225.30 L249.27,237.43 L248.38,235.59 L244.45,243.99 L252.77,239.88 L250.91,239.04 L262.77,226.90ZM288.60,225.27 L279.32,234.29 L278.67,232.86 L275.71,239.40 L282.33,236.62 L280.92,235.94 L290.20,226.93ZM316.28,225.10 L309.19,229.12 L309.01,228.13 L306.38,232.03 L311.08,231.77 L310.32,231.12 L317.42,227.10ZM344.70,225.02 L338.97,222.89 L339.45,222.30 L335.84,222.95 L338.15,225.80 L338.16,225.04 L343.90,227.18ZM372.73,225.49 L368.31,218.39 L369.31,218.17 L365.23,215.63 L365.71,220.41 L366.35,219.61 L370.77,226.71ZM400.26,225.66 L396.64,216.81 L397.81,216.76 L393.86,213.04 L393.64,218.46 L394.51,217.68 L398.14,226.54ZM427.72,225.68 L424.37,217.23 L425.48,217.19 L421.71,213.64 L421.39,218.81 L422.23,218.08 L425.58,226.52ZM454.82,225.21 L449.89,221.20 L450.56,220.79 L446.82,220.19 L448.17,223.73 L448.44,222.99 L453.38,226.99ZM481.31,224.98 L472.46,226.85 L472.61,225.76 L468.50,228.87 L473.52,230.04 L472.94,229.10 L481.79,227.22ZM125.25,250.64 L119.65,247.57 L120.24,247.04 L116.43,247.12 L118.41,250.37 L118.54,249.59 L124.15,252.66ZM152.58,250.58 L142.50,246.55 L143.38,245.57 L137.29,245.71 L141.60,250.01 L141.65,248.69 L151.72,252.72ZM179.64,250.50 L166.58,250.10 L167.17,248.63 L160.35,251.05 L167.01,253.90 L166.51,252.40 L179.56,252.80ZM206.65,250.57 L193.19,255.55 L193.18,253.82 L187.19,259.00 L195.11,259.03 L193.98,257.71 L207.45,252.73ZM233.83,250.71 L222.12,259.06 L221.65,257.39 L217.22,263.96 L224.88,261.92 L223.45,260.93 L235.17,252.59ZM261.08,250.90 L253.28,259.91 L252.58,258.64 L250.45,264.94 L256.37,261.93 L255.02,261.41 L262.82,252.40ZM288.56,250.87 L283.34,256.49 L282.90,255.65 L281.70,259.94 L285.89,258.43 L285.02,258.05 L290.24,252.43ZM316.44,250.58 L313.01,251.90 L312.99,251.42 L311.79,253.60 L314.13,254.41 L313.83,254.04 L317.26,252.72ZM345.11,250.84 L342.47,248.20 L342.90,247.98 L340.41,247.76 L340.63,250.25 L340.85,249.82 L343.49,252.46ZM372.76,251.10 L369.42,244.95 L370.27,244.82 L366.82,242.58 L366.82,246.69 L367.40,246.05 L370.74,252.20ZM400.21,251.10 L395.24,241.97 L396.49,241.78 L391.87,238.18 L392.38,244.01 L393.22,243.07 L398.19,252.20ZM427.68,251.14 L422.98,241.73 L424.25,241.58 L419.72,237.78 L420.04,243.69 L420.92,242.76 L425.62,252.16ZM455.12,251.12 L452.86,246.74 L453.48,246.65 L450.77,245.18 L450.39,248.24 L450.82,247.79 L453.08,252.18ZM151.89,276.08 L144.53,277.82 L144.63,276.89 L141.30,279.77 L145.56,280.84 L145.06,280.06 L152.41,278.32ZM179.37,276.07 L169.57,278.09 L169.74,276.88 L165.15,280.17 L170.67,281.38 L170.03,280.34 L179.83,278.33ZM206.62,276.13 L196.68,280.16 L196.63,278.86 L192.39,283.14 L198.41,283.27 L197.54,282.30 L207.48,278.27ZM233.85,276.25 L225.94,281.62 L225.65,280.48 L222.82,285.12 L228.17,284.21 L227.23,283.52 L235.15,278.15ZM261.03,276.51 L256.48,282.53 L255.97,281.75 L255.24,286.08 L259.21,284.19 L258.32,283.91 L262.87,277.89ZM288.38,276.67 L286.53,280.24 L286.17,279.87 L286.67,282.47 L289.08,281.38 L288.57,281.30 L290.42,277.73ZM318.15,277.20 L317.50,278.33 L316.20,278.33 L315.55,277.20 L316.20,276.07 L317.50,276.07ZM344.79,276.16 L342.84,275.25 L343.04,275.04 L341.44,275.86 L341.83,277.63 L341.87,277.34 L343.81,278.24ZM372.63,276.46 L369.31,272.47 L369.92,272.24 L366.85,271.32 L367.21,274.51 L367.54,273.95 L370.87,277.94ZM400.24,276.71 L396.21,268.25 L397.35,268.14 L393.26,264.74 L393.33,270.06 L394.14,269.24 L398.16,277.69ZM427.76,276.91 L424.80,265.75 L426.20,265.87 L422.29,260.74 L421.43,267.14 L422.58,266.34 L425.54,277.49ZM455.25,277.16 L454.98,268.72 L455.97,269.04 L453.70,264.75 L451.72,269.17 L452.68,268.80 L452.95,277.24ZM151.12,302.24 L148.18,308.26 L147.60,307.66 L147.82,311.62 L151.07,309.36 L150.24,309.27 L153.18,303.26ZM178.96,301.79 L172.94,305.80 L172.73,304.94 L170.72,308.67 L174.94,308.25 L174.22,307.72 L180.24,303.71ZM206.62,301.68 L199.94,304.36 L199.90,303.47 L197.19,306.69 L201.38,307.16 L200.79,306.49 L207.48,303.82ZM234.02,301.70 L228.15,304.37 L228.08,303.58 L225.84,306.69 L229.66,307.04 L229.10,306.47 L234.98,303.80ZM261.23,301.85 L257.10,305.18 L256.88,304.56 L255.87,307.66 L259.11,307.32 L258.55,306.97 L262.67,303.65ZM288.77,301.79 L285.33,304.04 L285.20,303.53 L284.33,306.07 L287.00,306.28 L286.59,305.96 L290.03,303.71ZM316.63,301.62 L313.21,302.28 L313.27,301.83 L311.80,303.72 L313.86,304.93 L313.64,304.54 L317.07,303.88ZM344.35,301.60 L341.06,301.47 L341.21,301.07 L339.45,302.56 L341.09,304.18 L340.97,303.77 L344.25,303.90ZM372.45,301.84 L368.46,298.78 L368.99,298.43 L365.87,298.24 L366.86,301.21 L367.06,300.61 L371.05,303.66ZM400.25,302.29 L396.63,293.98 L397.74,293.90 L393.86,290.49 L393.72,295.66 L394.53,294.90 L398.15,303.21ZM427.76,302.46 L424.81,291.17 L426.22,291.30 L422.29,286.10 L421.41,292.55 L422.58,291.75 L425.54,303.04ZM455.23,302.52 L453.21,292.85 L454.41,293.02 L451.13,288.50 L449.93,293.95 L450.96,293.32 L452.97,302.98ZM178.51,327.95 L176.10,335.44 L175.33,334.86 L176.05,339.36 L179.25,336.12 L178.29,336.15 L180.69,328.65ZM206.28,327.44 L201.34,331.85 L201.03,331.09 L199.76,334.80 L203.59,333.96 L202.87,333.57 L207.82,329.16ZM234.00,327.26 L226.77,330.75 L226.67,329.76 L223.84,333.43 L228.47,333.51 L227.77,332.82 L235.00,329.34ZM261.62,327.20 L252.76,329.88 L252.82,328.75 L248.89,332.26 L254.11,332.99 L253.43,332.08 L262.28,329.40ZM289.23,327.16 L280.38,328.50 L280.59,327.43 L276.35,330.28 L281.24,331.74 L280.72,330.78 L289.57,329.44ZM317.07,327.17 L310.26,325.84 L310.69,325.10 L306.80,326.33 L309.94,328.94 L309.81,328.09 L316.63,329.43ZM344.56,327.18 L340.32,326.19 L340.62,325.72 L338.05,326.83 L339.85,328.98 L339.80,328.43 L344.04,329.42ZM372.50,327.43 L369.46,324.79 L369.91,324.53 L367.26,324.40 L367.76,327.00 L367.95,326.52 L371.00,329.17ZM400.31,328.00 L398.03,319.69 L399.08,319.77 L395.84,316.04 L394.95,320.90 L395.81,320.29 L398.09,328.60ZM427.80,328.21 L426.86,316.78 L428.20,317.15 L425.26,311.45 L423.30,317.55 L424.56,316.97 L425.50,328.39ZM455.24,328.16 L454.03,318.09 L455.24,318.37 L452.32,313.45 L450.65,318.92 L451.75,318.37 L452.96,328.44ZM178.45,353.94 L179.39,366.31 L177.95,365.91 L180.99,372.10 L183.06,365.52 L181.69,366.14 L180.75,353.76ZM205.97,353.45 L202.75,362.03 L201.90,361.30 L202.30,366.51 L206.03,362.85 L204.91,362.84 L208.13,354.25ZM233.69,353.04 L226.44,360.29 L225.90,359.16 L223.81,364.54 L229.19,362.45 L228.06,361.91 L235.31,354.66ZM261.53,352.78 L251.32,356.81 L251.28,355.48 L246.89,359.79 L253.04,359.95 L252.16,358.95 L262.37,354.92ZM289.45,352.70 L279.51,352.30 L279.97,351.17 L274.75,353.26 L279.78,355.75 L279.42,354.60 L289.35,355.00ZM317.39,352.84 L309.89,348.82 L310.66,348.12 L305.78,347.92 L308.65,351.88 L308.80,350.84 L316.31,354.86ZM345.07,353.00 L340.94,349.27 L341.55,348.93 L338.21,348.35 L339.13,351.62 L339.40,350.97 L343.53,354.70ZM372.90,353.85 L372.90,349.48 L373.43,349.66 L371.75,347.40 L370.07,349.66 L370.60,349.48 L370.60,353.85ZM400.32,354.12 L402.46,345.27 L403.39,345.88 L402.36,340.80 L399.12,344.85 L400.23,344.73 L398.08,353.58ZM427.78,354.05 L429.80,342.49 L431.04,343.19 L429.62,336.80 L426.13,342.34 L427.53,342.09 L425.52,353.65ZM455.23,354.05 L456.71,345.61 L457.62,346.12 L456.27,341.40 L453.41,345.39 L454.44,345.21 L452.97,353.65ZM178.54,379.86 L185.96,396.98 L183.72,397.11 L190.54,404.66 L189.70,394.53 L188.07,396.07 L180.66,378.94ZM205.91,379.55 L207.66,393.01 L206.06,392.65 L209.63,399.25 L211.40,391.96 L209.94,392.71 L208.19,379.25ZM233.37,379.20 L231.49,389.95 L230.33,389.29 L231.73,395.25 L235.06,390.12 L233.75,390.35 L235.63,379.60ZM261.06,378.68 L256.51,384.29 L256.04,383.53 L255.24,387.68 L259.14,386.04 L258.30,385.74 L262.84,380.12ZM290.07,378.47 L285.27,375.00 L285.88,374.58 L282.32,374.29 L283.72,377.57 L283.93,376.87 L288.73,380.33ZM317.96,379.09 L315.82,371.33 L316.80,371.40 L313.69,367.94 L312.79,372.51 L313.60,371.94 L315.74,379.71ZM345.43,379.63 L347.03,371.87 L347.87,372.37 L346.67,367.95 L343.81,371.54 L344.78,371.40 L343.17,379.17ZM372.73,380.01 L377.42,372.50 L378.09,373.35 L378.67,368.33 L374.41,371.05 L375.47,371.28 L370.77,378.79ZM400.16,380.03 L406.34,370.62 L407.16,371.72 L408.32,365.53 L403.09,369.04 L404.42,369.36 L398.24,378.77ZM427.72,379.83 L432.42,368.27 L433.55,369.28 L433.59,362.34 L428.78,367.34 L430.29,367.40 L425.58,378.97ZM455.18,379.79 L458.26,371.35 L459.11,372.05 L458.65,366.94 L455.00,370.55 L456.10,370.56 L453.02,379.01ZM206.05,405.53 L216.58,423.74 L214.09,424.18 L222.57,431.82 L220.19,420.66 L218.57,422.59 L208.05,404.37ZM233.50,405.51 L241.04,418.98 L239.20,419.28 L245.63,424.82 L244.26,416.45 L243.05,417.86 L235.50,404.39ZM261.18,405.80 L268.15,412.11 L267.14,412.65 L272.24,414.25 L270.13,409.34 L269.70,410.40 L262.72,404.10ZM289.94,405.97 L296.76,402.35 L296.90,403.29 L299.47,399.62 L294.99,399.68 L295.69,400.32 L288.86,403.93ZM317.75,405.67 L325.00,396.67 L325.73,397.87 L327.56,391.67 L321.89,394.77 L323.21,395.22 L315.95,404.23ZM345.15,405.72 L353.63,396.30 L354.35,397.66 L356.80,391.06 L350.50,394.19 L351.92,394.76 L343.45,404.18ZM372.52,405.81 L381.53,397.74 L382.07,399.10 L385.04,393.05 L378.70,395.33 L379.99,396.03 L370.98,404.09ZM233.79,431.40 L250.79,444.90 L248.57,446.25 L259.58,450.41 L253.04,440.63 L252.22,443.10 L235.21,429.60ZM261.55,431.58 L278.54,437.92 L277.12,439.57 L287.01,439.85 L279.36,433.58 L279.34,435.76 L262.35,429.42ZM289.59,431.63 L305.89,428.94 L305.53,430.90 L313.45,426.52 L304.54,424.94 L305.52,426.67 L289.21,429.37ZM317.40,431.51 L332.10,423.42 L332.40,425.42 L338.52,418.57 L329.47,420.08 L330.99,421.41 L316.30,429.49ZM344.98,431.42 L356.63,422.81 L357.13,424.48 L361.48,417.79 L353.80,419.99 L355.26,420.96 L343.62,429.58ZM261.59,457.14 L282.11,463.89 L280.50,465.92 L292.21,466.00 L282.74,459.12 L282.82,461.71 L262.31,454.96ZM289.40,457.20 L310.18,457.20 L309.32,459.54 L320.05,456.05 L309.32,452.56 L310.18,454.90 L289.40,454.90Z"/>
</g><use href="#frame"/>
<path fill="#0000ff" stroke="#0000ff" stroke-width="1.1" stroke-linejoin="round" d="M481.10,431.80 L507.58,431.80 L506.48,434.77 L520.15,430.65 L506.48,426.53 L507.58,429.50 L481.10,429.50Z"/>
<text transform="translate(446.11,460.50) scale(1.0991,1)" font-family="Liberation Sans" font-weight="normal" font-size="30.68" fill="#000">25 cm/s</text>
</g>
<text transform="translate(317.65,1476.10) scale(1.0801,1)" font-family="Liberation Serif" font-size="35.97" fill="#000" stroke="#fff" stroke-width="0.3"><tspan font-size="38.85">O</tspan>ctober</text>
<text transform="translate(79.05,1470.30) scale(0.9608,1)" font-family="Liberation Sans" font-weight="bold" font-size="30.00" fill="#000">G</text>
<g transform="translate(678.6,1345.5)">
<g clip-path="url(#cp)"><use href="#coast"/>
<use href="#cont"/>
<path fill="#0000ff" stroke="#0000ff" stroke-width="1.1" stroke-linejoin="round" d="M123.57,174.81 L122.90,178.78 L122.45,178.53 L123.72,180.85 L125.68,179.07 L125.17,179.16 L125.83,175.19ZM153.45,175.00 L152.80,176.13 L151.50,176.13 L150.85,175.00 L151.50,173.87 L152.80,173.87ZM180.90,175.00 L180.25,176.13 L178.95,176.13 L178.30,175.00 L178.95,173.87 L180.25,173.87ZM206.24,174.19 L204.68,175.74 L204.54,175.48 L204.76,177.29 L206.57,177.51 L206.31,177.37 L207.86,175.81ZM233.47,174.50 L230.66,180.23 L230.11,179.67 L230.37,183.47 L233.52,181.34 L232.73,181.24 L235.53,175.50ZM260.82,174.77 L258.40,186.46 L257.17,185.71 L258.38,192.25 L262.09,186.72 L260.66,186.93 L263.08,175.23ZM288.30,174.65 L283.45,189.88 L281.93,188.70 L282.25,197.46 L287.57,190.50 L285.65,190.57 L290.50,175.35ZM315.97,174.26 L308.04,183.67 L307.29,182.38 L305.15,188.89 L311.20,185.67 L309.79,185.16 L317.73,175.74ZM344.02,173.88 L335.78,175.96 L335.88,174.92 L332.15,178.06 L336.92,179.06 L336.34,178.19 L344.58,176.12ZM372.53,174.16 L367.18,169.21 L367.98,168.79 L363.86,167.70 L365.27,171.72 L365.62,170.90 L370.97,175.84ZM400.34,174.82 L399.00,166.38 L400.03,166.57 L397.22,162.55 L395.80,167.24 L396.72,166.74 L398.06,175.18ZM427.79,175.14 L428.73,167.51 L429.57,167.94 L428.03,163.75 L425.52,167.44 L426.45,167.23 L425.51,174.86ZM455.00,175.72 L459.68,169.83 L460.17,170.62 L461.01,166.32 L457.01,168.10 L457.88,168.40 L453.20,174.28ZM482.40,175.78 L488.57,169.07 L489.08,170.06 L490.65,165.11 L485.85,167.08 L486.87,167.52 L480.70,174.22ZM509.83,175.80 L519.39,165.84 L520.12,167.33 L523.10,160.31 L516.20,163.57 L517.73,164.24 L508.17,174.20ZM537.22,175.86 L546.50,167.52 L547.07,168.92 L550.14,162.70 L543.63,165.09 L544.96,165.81 L535.68,174.14ZM565.20,175.00 L564.55,176.13 L563.25,176.13 L562.60,175.00 L563.25,173.87 L564.55,173.87ZM123.58,200.28 L122.52,204.66 L122.04,204.35 L123.14,207.00 L125.32,205.14 L124.76,205.20 L125.82,200.82ZM151.92,199.42 L149.99,199.81 L150.02,199.54 L149.30,201.12 L150.57,202.30 L150.44,202.06 L152.38,201.68ZM179.02,199.56 L176.80,200.86 L176.73,200.53 L176.33,202.47 L178.22,203.07 L177.97,202.85 L180.18,201.54ZM206.22,199.75 L202.63,203.48 L202.34,202.90 L201.75,206.04 L204.88,205.34 L204.29,205.07 L207.88,201.35ZM233.51,199.96 L230.31,205.30 L229.82,204.70 L229.78,208.42 L233.04,206.63 L232.28,206.48 L235.49,201.14ZM260.82,200.36 L258.66,213.28 L257.28,212.50 L258.77,219.60 L262.49,213.37 L260.93,213.66 L263.08,200.74ZM288.27,200.34 L285.31,215.97 L283.66,214.98 L285.03,223.60 L289.46,216.08 L287.57,216.39 L290.53,200.76ZM315.72,200.36 L313.97,210.84 L312.84,210.20 L314.27,216.00 L317.51,210.98 L316.24,211.22 L317.98,200.74ZM345.60,200.55 L344.95,201.68 L343.65,201.68 L343.00,200.55 L343.65,199.42 L344.95,199.42ZM372.82,200.98 L376.58,191.58 L377.50,192.40 L377.29,186.69 L373.21,190.68 L374.44,190.73 L370.68,200.12ZM400.15,201.19 L408.64,188.67 L409.71,190.15 L411.72,182.07 L404.96,186.93 L406.73,187.38 L398.25,199.91ZM427.47,201.36 L437.16,191.53 L437.88,193.04 L440.94,186.06 L434.01,189.22 L435.52,189.92 L425.83,199.74ZM454.68,201.54 L467.48,194.00 L467.81,195.76 L472.97,189.43 L464.93,190.88 L466.31,192.02 L453.52,199.56ZM482.08,201.57 L497.72,193.48 L497.99,195.58 L504.62,188.62 L495.10,190.01 L496.66,191.44 L481.02,199.53ZM509.61,201.53 L519.96,195.07 L520.27,196.52 L524.27,191.03 L517.58,192.21 L518.75,193.12 L508.39,199.57ZM537.75,200.55 L537.10,201.68 L535.80,201.68 L535.15,200.55 L535.80,199.42 L537.10,199.42ZM123.60,226.43 L125.60,233.11 L124.74,233.07 L127.66,235.96 L128.50,231.94 L127.81,232.45 L125.80,225.77ZM153.45,226.10 L152.80,227.23 L151.50,227.23 L150.85,226.10 L151.50,224.97 L152.80,224.97ZM178.91,225.18 L176.28,227.15 L176.15,226.75 L175.72,229.01 L178.01,229.24 L177.66,228.99 L180.29,227.02ZM206.15,225.38 L203.50,228.69 L203.21,228.24 L203.14,230.98 L205.81,230.31 L205.30,230.13 L207.95,226.82ZM233.38,225.83 L232.18,230.89 L231.63,230.54 L232.73,233.55 L235.07,231.35 L234.42,231.42 L235.62,226.37ZM260.80,226.00 L259.73,238.78 L258.32,238.13 L260.36,244.95 L263.52,238.57 L262.02,238.98 L263.10,226.20ZM288.27,226.29 L290.42,239.47 L288.83,239.17 L292.58,245.55 L294.10,238.31 L292.69,239.10 L290.53,225.91ZM315.87,226.70 L320.83,234.75 L319.70,234.99 L324.17,237.97 L323.51,232.64 L322.79,233.55 L317.83,225.50ZM344.71,227.18 L355.05,223.28 L355.07,224.62 L359.56,220.35 L353.37,220.11 L354.24,221.13 L343.89,225.02ZM372.59,226.88 L385.40,213.13 L386.43,215.14 L390.65,205.81 L381.64,210.68 L383.72,211.56 L370.91,225.32ZM400.02,226.90 L412.15,214.50 L413.06,216.38 L417.10,207.81 L408.61,212.03 L410.51,212.89 L398.38,225.30ZM427.55,226.82 L436.71,215.37 L437.63,216.88 L440.16,209.22 L433.23,213.37 L434.91,213.94 L425.75,225.38ZM454.93,226.90 L467.20,214.09 L468.14,216.00 L472.20,207.21 L463.59,211.64 L465.54,212.50 L453.27,225.30ZM123.72,252.26 L129.09,260.85 L127.89,261.11 L132.62,264.32 L131.81,258.66 L131.05,259.63 L125.68,251.04ZM151.12,252.16 L153.11,256.14 L152.55,256.22 L155.08,257.52 L155.56,254.71 L155.17,255.11 L153.18,251.14ZM178.56,251.15 L176.85,254.72 L176.48,254.37 L177.07,256.91 L179.42,255.78 L178.92,255.72 L180.64,252.15ZM206.18,250.90 L204.62,252.72 L204.45,252.45 L204.75,254.34 L206.66,254.34 L206.36,254.22 L207.92,252.40ZM233.35,251.62 L233.22,256.53 L232.64,256.32 L234.30,258.90 L236.11,256.41 L235.52,256.60 L235.65,251.68ZM260.80,251.74 L261.61,262.08 L260.39,261.74 L263.14,266.90 L265.05,261.38 L263.90,261.90 L263.10,251.56ZM288.30,251.97 L291.52,262.99 L290.13,262.91 L294.16,267.91 L294.86,261.52 L293.73,262.35 L290.50,251.33ZM316.51,252.75 L325.09,255.43 L324.42,256.31 L329.51,255.61 L325.73,252.13 L325.77,253.23 L317.19,250.55ZM344.87,252.65 L357.46,245.51 L357.75,247.24 L362.87,241.12 L354.99,242.38 L356.32,243.51 L343.73,250.65ZM372.54,252.48 L384.67,240.89 L385.48,242.74 L389.64,234.55 L381.27,238.33 L383.09,239.23 L370.96,250.82ZM400.13,252.33 L407.26,242.51 L408.08,243.73 L409.71,237.17 L403.98,240.75 L405.40,241.16 L398.27,250.97ZM427.68,252.16 L432.79,241.95 L433.74,242.95 L434.18,236.58 L429.35,240.76 L430.73,240.92 L425.62,251.14ZM455.24,251.78 L456.32,242.66 L457.32,243.16 L455.68,238.20 L452.94,242.65 L454.03,242.40 L452.96,251.52ZM151.14,277.75 L155.57,285.80 L154.46,285.98 L158.68,289.07 L158.33,283.85 L157.58,284.69 L153.16,276.65ZM178.48,277.46 L179.41,281.43 L178.89,281.38 L180.97,283.05 L182.09,280.63 L181.65,280.91 L180.72,276.94ZM205.94,277.49 L206.73,280.51 L206.32,280.48 L208.21,281.65 L209.29,279.71 L208.95,279.93 L208.16,276.91ZM233.37,277.43 L234.17,281.39 L233.65,281.33 L235.67,283.05 L236.87,280.68 L236.42,280.94 L235.63,276.97ZM260.82,277.39 L262.43,286.79 L261.28,286.58 L264.32,291.05 L265.71,285.82 L264.69,286.40 L263.08,277.01ZM288.40,277.76 L292.55,285.13 L291.53,285.31 L295.53,288.07 L295.24,283.22 L294.56,284.00 L290.40,276.64ZM317.34,278.24 L325.92,274.22 L326.03,275.37 L329.51,271.26 L324.13,271.31 L324.95,272.13 L316.36,276.16ZM344.97,278.13 L357.36,269.24 L357.86,271.02 L362.58,264.09 L354.50,266.34 L356.02,267.38 L343.63,276.27ZM372.27,278.23 L383.70,272.44 L383.89,273.98 L388.62,268.67 L381.54,269.33 L382.67,270.39 L371.23,276.17ZM400.01,278.01 L406.72,271.31 L407.22,272.35 L409.09,267.31 L404.05,269.18 L405.09,269.68 L398.39,276.39ZM427.71,277.64 L430.66,270.55 L431.36,271.18 L430.99,266.74 L427.59,269.62 L428.53,269.67 L425.59,276.76ZM455.24,277.37 L456.31,270.01 L457.12,270.44 L455.68,266.35 L453.13,269.86 L454.03,269.68 L452.96,277.03ZM151.09,303.20 L155.53,313.68 L154.15,313.75 L158.69,318.21 L158.66,311.85 L157.64,312.79 L153.21,302.30ZM178.47,302.98 L179.81,309.39 L179.00,309.29 L181.57,312.20 L182.76,308.50 L182.06,308.92 L180.73,302.52ZM208.35,302.75 L207.70,303.88 L206.40,303.88 L205.75,302.75 L206.40,301.62 L207.70,301.62ZM233.41,303.11 L234.87,307.49 L234.28,307.49 L236.65,309.21 L237.51,306.41 L237.05,306.76 L235.59,302.39ZM260.84,303.05 L262.98,311.08 L261.96,311.00 L265.11,314.61 L266.05,309.91 L265.20,310.49 L263.06,302.45ZM288.59,303.56 L289.87,304.85 L289.65,304.97 L291.29,304.64 L291.62,303.00 L291.50,303.22 L290.21,301.94ZM317.72,303.50 L324.30,295.85 L324.91,296.92 L326.55,291.46 L321.41,293.91 L322.56,294.35 L315.98,302.00ZM345.15,303.52 L352.68,295.19 L353.32,296.39 L355.40,290.46 L349.71,293.13 L350.97,293.65 L343.45,301.98ZM372.38,303.71 L380.02,298.75 L380.28,299.84 L383.02,295.43 L377.88,296.15 L378.77,296.82 L371.12,301.79ZM399.94,303.63 L403.39,300.71 L403.60,301.24 L404.29,298.45 L401.41,298.66 L401.91,298.95 L398.46,301.87ZM427.63,303.36 L430.28,299.11 L430.68,299.60 L430.57,296.48 L427.72,297.75 L428.33,297.89 L425.67,302.14ZM455.25,302.81 L455.65,295.59 L456.47,295.94 L454.69,292.10 L452.50,295.72 L453.35,295.47 L452.95,302.69ZM178.50,328.62 L181.45,338.70 L180.18,338.62 L183.96,343.16 L184.69,337.29 L183.66,338.05 L180.70,327.98ZM208.35,328.30 L207.70,329.43 L206.40,329.43 L205.75,328.30 L206.40,327.17 L207.70,327.17ZM233.36,328.14 L232.83,331.83 L232.41,331.62 L233.72,333.75 L235.58,332.07 L235.11,332.16 L235.64,328.46ZM260.81,328.16 L260.01,334.84 L259.26,334.47 L260.77,338.15 L263.10,334.93 L262.29,335.12 L263.09,328.44ZM288.69,329.21 L291.73,331.58 L291.32,331.85 L293.88,331.81 L293.31,329.31 L293.15,329.77 L290.11,327.39ZM317.87,328.83 L321.48,321.87 L322.14,322.58 L322.18,318.03 L318.49,320.68 L319.44,320.81 L315.83,327.77ZM345.12,329.11 L350.94,323.21 L351.39,324.13 L352.89,319.61 L348.39,321.17 L349.31,321.60 L343.48,327.49ZM372.39,329.26 L376.37,326.60 L376.52,327.19 L377.63,324.38 L374.61,324.32 L375.10,324.69 L371.11,327.34ZM399.78,329.29 L405.52,325.96 L405.67,326.76 L407.67,323.38 L403.74,323.43 L404.36,323.97 L398.62,327.31ZM427.13,329.35 L433.55,326.40 L433.62,327.27 L436.11,323.96 L431.98,323.69 L432.59,324.31 L426.17,327.25ZM455.23,328.53 L456.29,323.20 L456.88,323.55 L455.67,320.45 L453.36,322.84 L454.04,322.75 L452.97,328.07ZM178.49,354.15 L181.45,365.17 L180.07,365.05 L183.96,370.11 L184.80,363.78 L183.67,364.57 L180.71,353.55ZM205.98,354.28 L207.71,358.53 L207.13,358.56 L209.59,360.11 L210.28,357.28 L209.84,357.66 L208.12,353.42ZM233.41,353.48 L231.95,357.72 L231.51,357.37 L232.35,360.11 L234.70,358.47 L234.13,358.47 L235.59,354.22ZM260.81,353.68 L260.01,359.00 L259.42,358.69 L260.77,361.70 L262.95,359.22 L262.29,359.34 L263.09,354.02ZM290.30,354.56 L293.77,350.17 L294.14,350.76 L294.51,347.37 L291.30,348.52 L291.96,348.74 L288.50,353.14ZM317.93,354.23 L321.56,344.03 L322.58,344.86 L322.20,338.79 L318.08,343.26 L319.39,343.26 L315.77,353.47ZM344.89,354.84 L349.68,351.97 L349.82,352.66 L351.37,349.63 L347.97,349.55 L348.50,350.00 L343.71,352.86ZM371.92,354.99 L377.24,354.19 L377.12,354.85 L379.60,352.67 L376.59,351.32 L376.90,351.91 L371.58,352.71ZM399.91,354.76 L402.95,352.38 L403.11,352.84 L403.68,350.34 L401.12,350.30 L401.53,350.57 L398.49,352.94ZM427.95,353.85 L427.30,354.98 L426.00,354.98 L425.35,353.85 L426.00,352.72 L427.30,352.72ZM455.40,353.85 L454.75,354.98 L453.45,354.98 L452.80,353.85 L453.45,352.72 L454.75,352.72ZM178.53,379.82 L183.10,391.52 L181.58,391.56 L186.35,396.66 L186.39,389.68 L185.24,390.68 L180.67,378.98ZM205.95,379.74 L208.09,386.69 L207.19,386.65 L210.21,389.66 L211.01,385.48 L210.29,386.02 L208.15,379.06ZM233.39,379.69 L234.85,385.29 L234.13,385.23 L236.66,387.65 L237.68,384.30 L237.08,384.71 L235.61,379.11ZM260.80,379.50 L261.07,382.39 L260.70,382.30 L262.34,383.65 L263.71,382.03 L263.36,382.18 L263.10,379.30ZM290.43,379.91 L295.95,368.75 L296.99,369.84 L297.53,362.93 L292.38,367.56 L293.88,367.73 L288.37,378.89ZM317.95,379.73 L320.50,371.29 L321.37,371.93 L320.61,366.94 L317.22,370.68 L318.30,370.62 L315.75,379.07ZM344.09,380.53 L349.00,381.46 L348.69,382.01 L351.55,380.77 L349.34,378.58 L349.43,379.20 L344.51,378.27ZM373.05,379.40 L372.40,380.53 L371.10,380.53 L370.45,379.40 L371.10,378.27 L372.40,378.27ZM400.50,379.40 L399.85,380.53 L398.55,380.53 L397.90,379.40 L398.55,378.27 L399.85,378.27ZM425.84,380.21 L427.12,381.50 L426.90,381.62 L428.54,381.29 L428.87,379.65 L428.75,379.87 L427.46,378.59ZM455.40,379.40 L454.75,380.53 L453.45,380.53 L452.80,379.40 L453.45,378.27 L454.75,378.27ZM206.12,405.63 L216.37,419.52 L214.38,420.10 L222.16,425.43 L219.37,416.42 L218.22,418.15 L207.98,404.27ZM233.62,405.68 L238.84,411.98 L237.89,412.32 L242.20,414.23 L241.12,409.65 L240.61,410.51 L235.38,404.22ZM261.52,406.02 L265.76,407.74 L265.38,408.18 L268.21,407.49 L266.66,405.03 L266.63,405.61 L262.38,403.88ZM290.43,405.46 L296.35,393.34 L297.49,394.52 L298.13,387.08 L292.67,392.16 L294.29,392.33 L288.37,404.44ZM317.03,406.09 L322.90,405.15 L322.76,405.88 L325.50,403.57 L322.18,402.23 L322.54,402.88 L316.67,403.81ZM344.78,403.91 L341.96,402.59 L342.24,402.30 L340.14,403.01 L340.95,405.08 L340.99,404.68 L343.82,405.99ZM372.51,405.81 L375.82,402.90 L376.04,403.42 L376.64,400.65 L373.82,400.89 L374.30,401.17 L370.99,404.09ZM233.88,431.47 L243.69,437.79 L242.56,438.64 L248.97,439.82 L245.25,434.47 L244.94,435.85 L235.12,429.53ZM261.76,431.63 L271.96,433.38 L271.34,434.48 L277.00,433.07 L272.13,429.87 L272.35,431.11 L262.14,429.37ZM290.26,431.27 L298.06,422.53 L298.73,423.78 L300.90,417.61 L295.02,420.47 L296.34,421.00 L288.54,429.73ZM317.71,431.26 L320.90,427.68 L321.19,428.21 L321.55,425.21 L318.62,425.92 L319.18,426.15 L315.99,429.74ZM345.10,431.33 L349.23,427.33 L349.53,427.98 L350.39,424.60 L346.99,425.35 L347.63,425.68 L343.50,429.67ZM261.69,457.17 L270.27,459.18 L269.68,460.09 L274.60,459.02 L270.67,455.87 L270.79,456.94 L262.21,454.93ZM289.66,457.17 L300.14,454.75 L299.98,456.05 L304.85,452.48 L298.91,451.41 L299.62,452.51 L289.14,454.93Z"/>
</g><use href="#frame"/>
<path fill="#0000ff" stroke="#0000ff" stroke-width="1.1" stroke-linejoin="round" d="M481.40,431.80 L502.45,431.80 L501.58,434.17 L512.45,430.65 L501.58,427.13 L502.45,429.50 L481.40,429.50Z"/>
<text transform="translate(446.26,460.50) scale(1.0935,1)" font-family="Liberation Sans" font-weight="normal" font-size="30.68" fill="#000">8 cm/s</text>
</g>
<text transform="translate(996.25,1476.10) scale(1.0801,1)" font-family="Liberation Serif" font-size="35.97" fill="#000" stroke="#fff" stroke-width="0.3"><tspan font-size="38.85">O</tspan>ctober</text>
<text transform="translate(762.84,1470.50) scale(0.9875,1)" font-family="Liberation Sans" font-weight="bold" font-size="29.86" fill="#000">H</text>
</g>
</svg></body></html>
